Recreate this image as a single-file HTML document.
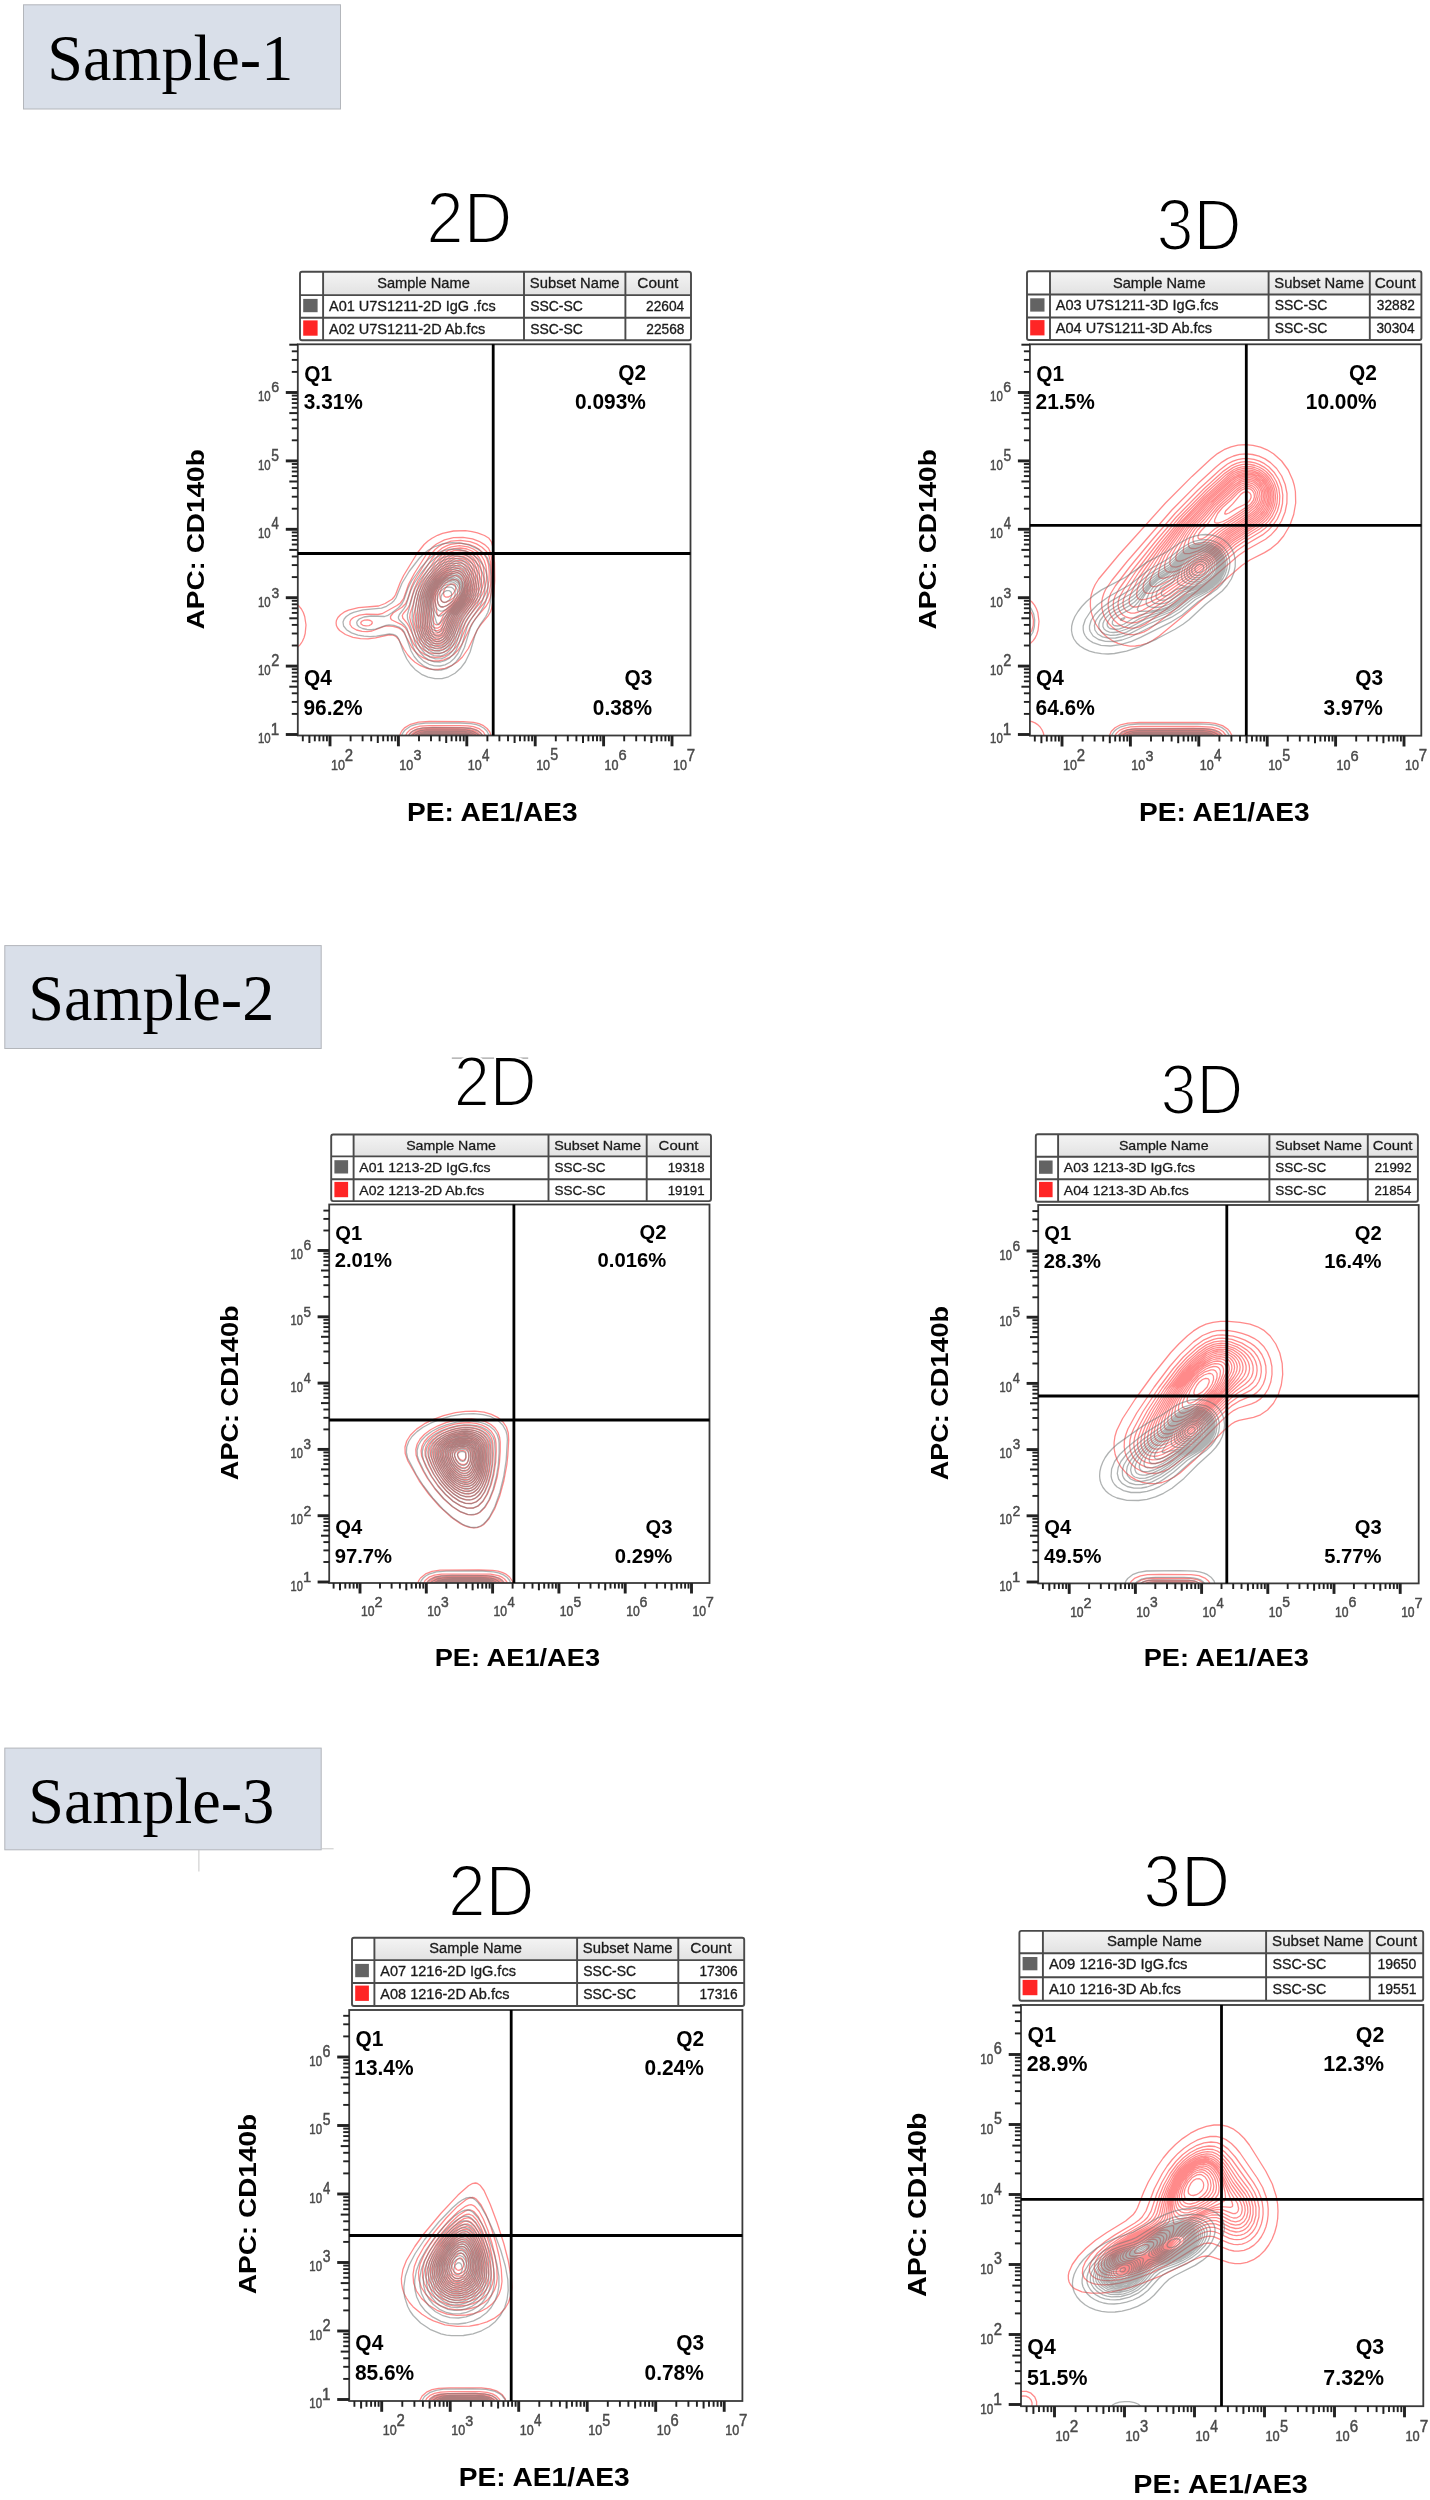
<!DOCTYPE html>
<html><head><meta charset="utf-8"><title>Flow cytometry</title><style>html,body{margin:0;padding:0;background:#fff;width:1430px;height:2500px;overflow:hidden;font-family:"Liberation Sans",sans-serif}</style></head><body>
<svg width="1430" height="2500" viewBox="0 0 1430 2500" style="display:block;filter:blur(0.4px)">
<rect width="1430" height="2500" fill="#fff"/>
<rect x="23.5" y="4.8" width="317.0" height="104.2" fill="#d9dfe9" stroke="#b3b6bb" stroke-width="1"/>
<text transform="matrix(0.06418 0.00000 0.00000 0.06468 47.37 79.65)" font-family="Liberation Serif" font-weight="normal" font-size="1000" fill="#000" >Sample-1</text>
<rect x="4.8" y="945.6" width="316.4" height="102.9" fill="#d9dfe9" stroke="#b3b6bb" stroke-width="1"/>
<text transform="matrix(0.06418 0.00000 0.00000 0.06468 28.37 1019.75)" font-family="Liberation Serif" font-weight="normal" font-size="1000" fill="#000" >Sample-2</text>
<rect x="4.8" y="1748.1" width="316.4" height="101.7" fill="#d9dfe9" stroke="#b3b6bb" stroke-width="1"/>
<text transform="matrix(0.06418 0.00000 0.00000 0.06468 28.37 1822.75)" font-family="Liberation Serif" font-weight="normal" font-size="1000" fill="#000" >Sample-3</text>
<line x1="198.9" y1="1850" x2="198.9" y2="1871.5" stroke="#c8c8c8" stroke-width="1"/>
<line x1="321.7" y1="1848.8" x2="333.6" y2="1848.8" stroke="#c8c8c8" stroke-width="1"/>
<line x1="451.8" y1="1058.1" x2="528.2" y2="1058.1" stroke="#8a8a8a" stroke-width="1"/>
<text transform="matrix(0.06729 0.00000 0.00000 0.07297 426.34 242.70)" font-family="Liberation Sans" font-weight="normal" font-size="1000" fill="#000" stroke="#fff" stroke-width="30.1">2D</text>
<linearGradient id="P1g" x1="0" y1="0" x2="0" y2="1"><stop offset="0" stop-color="#f4f4f4"/><stop offset="1" stop-color="#e2e2e2"/></linearGradient>
<rect x="300" y="271.8" width="391" height="68.39999999999998" fill="#fff"/>
<rect x="323.1" y="271.8" width="367.9" height="23.30000000000001" fill="url(#P1g)"/>
<rect x="300" y="271.8" width="391" height="68.39999999999998" rx="2" fill="none" stroke="#4a4a4a" stroke-width="1.9"/>
<line x1="323.1" y1="271.8" x2="323.1" y2="340.2" stroke="#4a4a4a" stroke-width="1.9"/>
<line x1="524" y1="271.8" x2="524" y2="340.2" stroke="#4a4a4a" stroke-width="1.9"/>
<line x1="625.4" y1="271.8" x2="625.4" y2="340.2" stroke="#4a4a4a" stroke-width="1.9"/>
<line x1="300" y1="295.1" x2="691" y2="295.1" stroke="#4a4a4a" stroke-width="1.9"/>
<line x1="300" y1="317.8" x2="691" y2="317.8" stroke="#4a4a4a" stroke-width="1.9"/>
<rect x="303.2" y="298.9" width="14.4" height="13.3" fill="#636363"/>
<rect x="303.2" y="320.4" width="14.4" height="15.3" fill="#ff2525"/>
<text transform="matrix(0.01462 0.00000 0.00000 0.01390 377.22 288.10)" font-family="Liberation Sans" font-weight="normal" font-size="1000" fill="#1a1a1a"  stroke="#1a1a1a" stroke-width="21.0">Sample Name</text>
<text transform="matrix(0.01480 0.00000 0.00000 0.01390 529.86 288.10)" font-family="Liberation Sans" font-weight="normal" font-size="1000" fill="#1a1a1a"  stroke="#1a1a1a" stroke-width="20.9">Subset Name</text>
<text transform="matrix(0.01540 0.00000 0.00000 0.01390 637.33 288.10)" font-family="Liberation Sans" font-weight="normal" font-size="1000" fill="#1a1a1a"  stroke="#1a1a1a" stroke-width="20.5">Count</text>
<text transform="matrix(0.01452 0.00000 0.00000 0.01390 328.96 311.00)" font-family="Liberation Sans" font-weight="normal" font-size="1000" fill="#1a1a1a"  stroke="#1a1a1a" stroke-width="21.1">A01 U7S1211-2D IgG .fcs</text>
<text transform="matrix(0.01395 0.00000 0.00000 0.01390 530.17 311.00)" font-family="Liberation Sans" font-weight="normal" font-size="1000" fill="#1a1a1a"  stroke="#1a1a1a" stroke-width="21.5">SSC-SC</text>
<text transform="matrix(0.01370 0.00000 0.00000 0.01390 646.09 311.00)" font-family="Liberation Sans" font-weight="normal" font-size="1000" fill="#1a1a1a"  stroke="#1a1a1a" stroke-width="21.7">22604</text>
<text transform="matrix(0.01452 0.00000 0.00000 0.01390 328.96 333.70)" font-family="Liberation Sans" font-weight="normal" font-size="1000" fill="#1a1a1a"  stroke="#1a1a1a" stroke-width="21.1">A02 U7S1211-2D Ab.fcs</text>
<text transform="matrix(0.01395 0.00000 0.00000 0.01390 530.17 333.70)" font-family="Liberation Sans" font-weight="normal" font-size="1000" fill="#1a1a1a"  stroke="#1a1a1a" stroke-width="21.5">SSC-SC</text>
<text transform="matrix(0.01370 0.00000 0.00000 0.01390 646.30 333.70)" font-family="Liberation Sans" font-weight="normal" font-size="1000" fill="#1a1a1a"  stroke="#1a1a1a" stroke-width="21.7">22568</text>
<clipPath id="P1c"><rect x="297.8" y="344.3" width="392.7" height="391.2"/></clipPath>
<g clip-path="url(#P1c)" fill="none" stroke-width="1.3" stroke-linejoin="round">
<path stroke="#ff3c3c" stroke-opacity="0.6" d="M438.0 669.5 432.0 669.3 426.0 668.0 420.5 665.7 415.0 662.2 411.4 659.0 407.8 655.0 404.1 649.5 398.5 639.2 396.5 637.0 394.5 635.7 391.5 634.9 388.0 635.0 375.5 637.9 368.0 638.8 360.5 638.6 353.0 637.3 345.4 634.5 339.6 630.5 337.6 628.0 336.4 625.5 336.1 623.0 336.4 620.5 337.9 617.5 340.5 614.7 344.0 612.2 348.5 610.1 358.5 607.6 378.5 606.0 385.1 603.5 392.0 599.2 394.1 597.0 395.6 594.5 400.2 582.5 403.6 575.5 417.7 552.5 424.1 544.5 428.0 541.0 432.0 538.2 437.5 535.3 442.5 533.3 453.5 531.0 465.5 530.7 472.0 531.6 477.5 532.9 484.5 535.5 489.0 538.3 491.5 542.0 493.1 548.0 494.5 562.5 494.7 580.5 493.7 596.5 491.6 608.5 490.4 612.0 488.5 615.3 481.0 624.4 477.5 629.5 468.3 648.5 462.4 657.0 457.5 661.7 451.5 665.7 445.0 668.3ZM438.5 661.0 433.0 661.0 428.0 659.9 423.0 657.7 418.5 654.7 414.7 651.0 411.5 646.8 403.6 632.0 401.5 629.7 398.5 627.9 393.0 626.3 387.0 625.9 383.5 626.7 372.0 631.0 367.0 631.6 362.0 631.4 356.5 630.0 352.1 627.5 350.0 624.5 350.0 621.5 351.1 619.5 353.5 617.5 359.5 615.1 366.5 614.2 378.0 614.5 382.0 613.7 396.9 605.5 400.4 603.0 403.5 598.7 408.7 584.0 414.3 573.5 427.6 552.5 432.0 547.6 436.5 544.0 444.5 539.9 453.5 537.7 463.0 537.3 472.5 538.9 479.0 541.3 485.0 544.9 488.5 548.3 490.5 552.5 492.0 561.0 492.5 574.5 491.9 588.0 490.3 597.5 488.6 602.0 486.2 606.0 475.5 618.7 471.8 624.0 462.7 643.0 458.1 650.0 454.0 654.2 449.0 657.7 444.0 659.9ZM440.0 657.0 435.0 657.3 430.0 656.6 425.0 654.7 420.5 651.7 417.0 648.4 413.7 644.0 407.5 631.1 405.0 627.5 401.5 624.6 391.9 620.0 390.6 618.5 390.5 616.5 393.1 613.0 402.0 607.3 405.5 603.7 407.5 599.5 411.6 586.5 414.9 579.5 429.2 556.5 435.1 549.5 438.5 546.7 442.5 544.3 451.0 541.2 460.5 540.3 470.0 541.6 476.5 543.9 482.0 547.2 486.5 551.4 489.0 555.9 490.5 562.2 491.2 572.0 490.8 583.0 489.5 591.6 487.6 597.0 484.8 602.0 472.5 617.0 469.0 622.0 466.0 627.6 460.5 640.0 456.5 646.5 453.0 650.4 449.0 653.5 444.5 655.8ZM369.0 625.6 366.0 625.9 363.0 625.3 361.1 624.0 360.8 622.5 362.2 621.0 364.5 620.2 367.5 619.9 370.3 620.5 371.9 621.5 372.3 623.0 371.2 624.5ZM439.5 653.5 434.0 653.7 429.0 652.6 424.0 650.1 420.0 646.8 415.3 640.5 409.0 626.4 407.0 623.2 402.8 618.0 402.3 615.5 403.3 613.5 407.5 608.5 409.5 605.0 414.3 589.0 418.0 580.5 431.7 559.0 436.3 553.0 442.5 547.8 446.5 545.8 450.5 544.4 459.5 543.2 468.5 544.3 474.5 546.5 479.5 549.6 483.6 553.5 486.7 558.5 488.5 564.5 489.2 572.0 489.0 580.5 487.7 588.0 485.3 594.5 481.9 600.5 469.5 615.7 466.0 620.8 458.3 637.5 454.7 643.5 451.5 647.2 448.0 650.1 444.0 652.2ZM439.0 650.6 433.5 650.7 428.5 649.3 424.0 646.6 419.9 642.5 415.8 635.5 410.8 622.0 409.7 617.5 410.1 613.5 413.0 605.0 416.6 591.0 419.3 584.0 423.9 576.0 437.9 555.5 444.0 550.1 447.5 548.2 451.5 546.8 459.5 545.7 468.0 546.9 473.3 549.0 477.8 552.0 481.6 556.0 484.2 560.5 485.9 566.0 486.7 573.0 486.4 580.5 485.1 587.0 482.7 593.5 479.3 599.5 467.1 614.5 463.7 619.5 456.4 635.5 453.0 641.3 450.0 644.8 446.5 647.6 443.0 649.4ZM438.0 648.1 434.5 648.1 431.0 647.4 428.0 646.2 425.0 644.2 422.2 641.5 420.0 638.5 416.3 630.5 414.0 622.0 413.5 616.0 418.8 592.0 421.4 585.0 425.0 578.5 437.6 560.0 442.5 554.4 448.0 550.6 454.0 548.6 460.5 548.0 467.0 549.0 471.8 551.0 476.0 553.9 479.2 557.5 481.7 562.0 483.4 567.5 484.1 574.0 483.8 580.5 482.5 587.0 480.3 593.0 476.9 599.0 465.0 613.5 461.9 618.0 454.6 634.0 451.4 639.5 448.5 642.9 445.5 645.3 442.0 647.1ZM439.0 645.5 435.5 645.8 432.5 645.4 429.5 644.3 426.5 642.5 421.9 637.5 418.3 630.0 416.6 623.0 416.2 616.5 420.8 592.5 423.4 585.5 427.0 579.0 439.6 561.0 444.0 556.0 448.5 552.8 454.0 550.7 460.0 550.1 466.0 551.0 470.5 552.9 474.2 555.5 477.2 559.0 479.6 563.5 481.1 569.0 481.7 575.0 481.4 581.0 480.2 587.0 478.0 593.0 474.8 598.5 463.3 612.5 460.0 617.3 453.2 632.5 450.3 637.5 447.8 640.5 445.0 642.9 442.0 644.6ZM437.5 643.5 434.5 643.5 431.5 642.8 426.5 639.8 422.3 634.5 419.5 627.5 418.5 621.5 418.6 615.5 421.4 598.5 423.1 591.5 425.6 585.0 429.1 579.0 441.5 562.0 445.5 557.5 450.0 554.4 455.0 552.6 460.5 552.1 465.5 553.0 469.5 554.8 473.0 557.5 475.7 561.0 477.6 565.0 479.0 570.5 479.5 576.5 479.1 582.5 477.9 588.0 475.6 593.5 472.6 598.5 461.4 612.0 458.3 616.5 451.9 631.0 448.6 636.5 446.0 639.5 443.5 641.4 440.5 642.8ZM436.5 641.5 431.5 640.6 426.8 637.5 423.3 632.5 421.0 626.0 420.3 620.5 420.6 615.0 423.3 598.0 425.0 591.0 427.5 585.0 431.1 579.0 443.0 563.3 446.9 559.0 451.0 556.1 455.5 554.5 460.5 554.1 465.0 555.0 468.5 556.7 471.8 559.5 474.3 563.0 476.0 567.0 477.2 572.5 477.5 578.0 477.0 583.5 475.8 588.5 473.7 593.5 470.7 598.5 460.1 611.0 456.9 615.5 450.4 630.0 447.5 635.0 445.0 637.8 442.5 639.7 439.5 641.0ZM439.0 639.0 436.5 639.4 434.0 639.3 429.5 637.3 425.6 633.0 423.0 627.0 422.2 622.0 422.3 616.5 424.9 598.5 426.4 592.0 428.7 586.0 432.2 580.0 447.5 561.2 451.0 558.4 455.0 556.7 459.5 556.1 463.5 556.7 467.0 558.3 469.8 560.5 472.1 563.5 473.9 567.5 475.1 572.5 475.6 577.5 475.4 582.5 474.4 587.5 472.4 592.5 469.5 597.5 458.2 611.0 455.3 615.0 449.5 628.2 447.0 632.7 443.5 636.6ZM438.5 637.1 434.0 637.2 429.7 635.0 426.4 631.0 424.3 625.5 423.8 621.0 424.1 616.0 426.6 598.0 428.1 591.5 430.5 585.5 433.9 580.0 448.5 562.9 452.0 560.2 455.5 558.7 459.5 558.2 463.0 558.8 466.0 560.2 468.7 562.5 470.7 565.5 472.2 569.0 473.3 573.5 473.8 578.5 473.6 583.5 472.6 588.0 470.5 593.0 467.8 597.5 456.7 610.5 453.8 614.5 448.1 627.5 445.8 631.5 442.5 635.1ZM438.5 635.0 434.5 635.2 430.9 633.5 427.9 630.0 425.9 625.0 425.5 621.0 425.7 616.5 428.2 597.5 429.7 591.0 432.0 585.5 435.5 580.1 449.0 565.0 452.2 562.5 455.5 560.9 459.0 560.4 462.5 561.0 465.3 562.5 467.5 564.6 469.4 567.5 470.8 571.0 471.8 575.5 472.1 580.0 471.8 584.5 470.8 588.5 468.9 593.0 466.1 597.5 455.2 610.0 452.3 614.0 447.0 626.1 444.8 630.0 442.0 633.1ZM437.5 633.1 434.0 632.9 431.0 631.0 428.5 627.5 427.4 623.5 427.3 618.0 429.4 599.0 431.3 590.5 433.5 585.5 437.0 580.2 449.0 567.5 452.5 564.8 455.5 563.3 458.5 562.8 461.5 563.2 464.0 564.5 466.1 566.5 468.0 569.5 469.4 573.0 470.5 581.0 470.2 585.0 469.2 589.0 467.2 593.5 464.5 597.6 453.8 609.5 450.8 613.5 448.7 617.5 445.5 625.5 443.7 628.5 440.9 631.5ZM438.0 630.6 435.0 630.7 432.0 629.1 430.0 626.2 429.0 622.5 429.0 618.0 431.0 598.0 432.6 590.5 434.9 585.5 438.0 580.9 442.5 575.9 448.5 570.3 452.0 567.6 455.0 566.0 458.0 565.3 461.0 565.8 463.2 567.0 465.2 569.0 466.7 571.5 468.0 575.0 468.9 582.5 467.6 589.5 465.5 593.9 462.7 598.0 452.4 609.0 449.3 613.0 442.6 627.0 440.5 629.2ZM437.5 628.1 435.0 628.0 433.0 626.7 431.6 624.5 430.9 621.5 432.4 597.5 434.3 589.5 436.5 585.2 439.5 581.0 448.5 572.4 452.0 569.9 455.0 568.5 458.0 568.0 460.5 568.5 462.5 569.7 464.5 572.0 466.8 577.5 467.4 584.0 466.0 590.0 464.0 594.0 461.2 598.0 447.6 612.5 441.1 625.5 439.5 627.2ZM438.0 624.6 436.5 624.9 434.7 624.0 433.8 622.5 433.3 620.0 433.9 610.0 433.8 597.5 434.4 593.5 435.6 589.5 437.5 585.7 440.0 582.2 447.5 575.0 454.0 571.1 457.0 570.5 459.5 570.9 461.5 572.0 463.0 573.5 465.4 578.5 465.9 584.5 464.5 590.3 462.3 594.5 459.3 598.5 445.7 612.0 443.7 615.0 440.4 622.0ZM438.5 616.0 437.5 615.4 437.0 613.7 435.1 600.0 435.6 593.5 437.5 588.0 442.0 581.5 449.0 575.6 452.0 573.9 455.0 572.8 457.5 572.7 459.5 573.4 461.1 574.5 462.7 576.5 464.4 581.5 464.4 586.5 462.5 592.0 460.0 596.0 456.5 600.0ZM443.0 607.0 441.0 607.0 439.5 606.0 438.3 604.0 437.4 601.0 437.2 594.5 439.2 588.0 443.2 582.5 449.0 577.9 454.5 575.7 456.5 575.7 458.5 576.4 461.2 579.0 462.5 583.0 462.3 587.5 460.7 592.0 457.6 596.5 453.5 600.7 447.5 605.0ZM446.0 602.1 444.0 602.3 442.5 601.8 441.1 600.5 440.3 599.0 439.7 594.0 441.2 589.0 444.0 584.8 448.5 581.1 453.0 579.4 456.5 579.8 458.5 581.4 459.6 584.0 459.7 587.5 458.7 591.0 456.5 594.5 453.3 598.0 449.5 600.7ZM448.5 597.0 446.0 597.2 444.2 596.0 443.5 593.5 444.0 590.5 445.5 587.8 448.0 585.5 451.0 584.1 453.5 584.1 454.9 585.0 455.7 586.5 455.8 588.5 455.2 590.5 452.5 594.5Z"/>
<path stroke="#6e7373" stroke-opacity="0.55" d="M442.0 678.6 435.0 678.7 428.0 677.2 421.5 674.3 415.0 669.4 410.5 664.5 406.8 659.0 403.3 651.5 399.0 639.5 397.5 637.1 395.5 635.3 393.0 634.3 389.5 634.0 376.5 636.2 370.0 636.6 364.0 636.2 358.0 635.1 351.5 632.9 346.5 629.7 343.6 626.0 343.0 622.0 344.2 619.0 346.3 616.5 349.5 614.2 353.5 612.3 363.0 609.9 381.5 608.2 386.5 606.3 391.6 603.0 394.0 600.7 395.9 598.0 402.1 583.0 409.1 571.5 419.5 558.0 424.0 553.5 428.5 550.0 435.5 546.3 443.5 543.7 452.0 542.6 461.0 543.1 469.5 545.2 477.5 548.8 484.0 553.7 487.7 558.5 489.8 565.5 491.1 576.5 491.3 590.0 490.3 602.5 489.3 608.0 487.8 612.5 485.8 616.5 479.5 625.7 476.9 630.5 474.9 635.5 470.1 652.0 465.3 662.0 460.5 668.3 455.0 673.2 448.5 676.8ZM441.0 670.0 435.0 670.1 429.0 668.6 423.5 665.8 418.3 661.5 414.2 656.5 411.1 651.0 404.5 632.5 402.3 629.5 399.5 627.4 394.0 625.3 389.0 624.8 386.0 625.4 375.5 629.2 371.5 629.7 367.0 629.5 362.5 628.5 359.3 627.0 357.3 625.0 356.7 622.5 357.3 621.0 359.0 619.2 363.9 617.0 371.0 616.0 384.5 616.5 388.0 615.3 392.0 612.7 398.5 607.7 401.8 604.0 403.9 600.0 408.1 588.0 411.6 581.0 420.7 568.0 428.5 559.1 435.0 554.1 442.5 550.8 450.5 549.2 459.0 549.5 466.0 551.3 472.6 554.5 478.3 559.0 482.7 564.5 485.7 570.5 487.3 577.0 488.0 586.0 487.4 594.5 486.0 600.7 483.6 606.5 480.3 612.0 473.4 622.0 470.5 627.4 464.4 647.5 460.2 656.5 456.0 661.9 451.5 665.8 446.5 668.6ZM440.0 666.0 434.5 665.9 429.0 664.3 423.5 661.1 419.0 656.8 415.9 652.5 413.3 647.5 407.0 628.7 404.5 625.0 399.3 620.0 398.5 618.5 398.4 617.0 399.4 614.5 404.0 608.7 406.0 605.3 410.6 591.0 414.4 583.0 420.8 573.5 429.0 563.5 435.5 557.8 442.5 554.2 450.5 552.5 458.5 552.8 465.0 554.6 470.5 557.4 475.5 561.5 479.4 566.5 482.4 572.5 484.3 579.0 485.0 586.0 484.6 593.0 482.9 599.5 480.3 605.5 470.4 620.5 467.5 625.9 461.7 645.5 458.0 653.5 454.2 658.5 450.0 662.2 445.0 664.9ZM440.5 662.0 434.5 661.9 429.0 660.1 424.0 656.7 419.5 651.7 416.8 647.0 414.8 642.0 411.0 628.1 407.6 619.0 407.3 615.0 412.8 595.0 415.2 588.5 420.0 580.0 428.1 569.5 434.9 562.5 441.5 558.2 445.5 556.7 449.5 555.8 457.5 555.9 463.0 557.4 468.1 560.0 472.5 563.7 476.3 568.5 479.2 574.5 481.0 580.5 481.7 587.0 481.2 593.0 479.8 598.5 477.2 604.5 467.5 619.2 464.9 624.0 463.0 629.3 459.3 643.0 455.9 650.5 452.7 655.0 449.0 658.4 445.0 660.7ZM441.5 658.6 435.5 658.8 430.0 657.1 424.9 653.5 420.5 648.1 417.6 642.0 415.2 633.5 412.1 619.0 412.3 611.5 414.7 598.0 417.1 590.5 421.3 582.5 428.0 573.6 435.1 566.0 441.5 561.3 445.0 559.7 449.0 558.7 456.5 558.6 461.5 559.8 466.0 562.1 470.1 565.5 473.5 569.8 476.2 575.0 478.1 581.0 478.8 587.0 478.5 592.5 477.2 598.0 474.6 604.0 465.0 618.5 462.5 623.2 460.8 628.0 457.3 641.0 454.3 648.0 451.6 652.0 448.6 655.0 445.0 657.3ZM440.0 656.0 434.0 655.7 428.5 653.1 423.7 648.5 420.3 642.5 417.6 633.5 415.3 619.0 415.2 611.5 416.6 600.5 418.6 592.5 422.0 585.5 427.2 578.0 434.5 569.8 440.0 565.1 445.0 562.4 450.5 560.9 456.5 561.1 461.0 562.4 465.0 564.6 468.8 568.0 471.8 572.0 474.3 577.0 475.9 582.5 476.5 588.0 476.0 593.5 474.7 598.5 472.2 604.0 463.2 617.5 460.5 622.4 455.4 640.0 452.5 646.5 450.0 650.1 447.0 653.0 443.5 655.0ZM439.5 653.5 434.0 653.0 429.0 650.5 424.7 646.0 421.5 640.0 419.2 631.5 417.7 618.5 417.8 608.5 418.9 599.0 420.9 592.0 424.1 585.5 429.2 578.5 436.0 571.2 441.0 567.0 446.0 564.4 451.0 563.2 456.5 563.4 460.5 564.7 464.5 567.2 467.9 570.5 470.5 574.3 472.7 579.0 474.0 584.0 474.4 589.0 473.9 594.0 472.7 598.5 470.4 603.5 461.5 616.6 458.8 621.5 457.2 626.0 453.8 638.5 451.0 645.0 448.5 648.5 446.0 650.8 443.0 652.6ZM440.0 651.0 435.0 650.9 430.0 648.5 426.0 644.3 423.0 638.5 421.1 631.0 420.0 619.5 419.8 608.0 420.7 599.0 422.5 592.5 425.4 586.5 430.0 580.1 436.0 573.7 441.0 569.5 446.0 566.7 451.0 565.4 455.5 565.5 459.5 566.7 463.0 568.8 466.0 571.6 468.8 575.5 470.9 580.0 472.1 584.5 472.5 589.0 472.1 594.0 470.8 598.5 468.5 603.5 459.6 616.5 457.1 621.0 455.5 625.5 452.5 637.0 449.9 643.0 447.9 646.0 445.5 648.4 443.0 650.0ZM440.5 648.6 438.0 648.9 435.5 648.6 431.0 646.6 427.1 642.5 424.5 637.2 422.9 631.0 422.0 622.0 421.6 607.5 422.3 599.0 423.9 593.0 426.6 587.5 430.5 581.9 436.0 576.0 441.0 571.7 446.0 568.8 451.0 567.5 455.5 567.7 459.0 568.9 462.0 570.7 465.0 573.6 467.5 577.2 469.3 581.0 470.5 585.5 470.8 589.5 470.4 594.0 469.2 598.5 467.1 603.0 458.1 616.0 455.5 620.5 453.9 625.0 451.0 636.0 448.7 641.5 445.0 646.1ZM439.0 646.6 435.0 646.2 431.0 643.9 427.8 640.0 425.5 634.6 424.2 627.5 423.3 611.5 423.3 604.0 424.0 598.0 425.7 592.5 428.2 587.5 432.0 582.3 437.0 577.1 442.0 573.1 446.5 570.7 451.0 569.5 455.0 569.7 458.5 570.9 461.5 572.9 464.1 575.5 466.5 579.0 468.0 582.5 469.0 586.5 469.2 590.5 468.8 594.5 467.6 598.5 465.5 603.0 456.6 615.5 454.0 620.0 452.4 624.5 449.8 634.5 447.5 640.0 445.5 642.8 443.5 644.7 441.5 645.9ZM440.0 644.0 436.0 644.1 432.5 642.4 429.4 639.0 427.1 634.0 425.9 627.5 424.8 609.0 424.8 603.0 425.5 598.0 426.9 593.0 429.4 588.0 432.7 583.5 437.0 579.0 441.5 575.4 446.0 572.8 450.5 571.6 454.5 571.7 457.5 572.6 460.5 574.5 463.0 577.0 465.1 580.0 466.6 583.5 467.5 587.0 467.7 590.5 467.3 594.5 466.1 598.5 463.9 603.0 455.2 615.0 452.6 619.5 450.9 624.0 448.4 633.5 446.5 638.0 443.5 642.0ZM440.0 641.5 436.5 641.7 433.1 640.0 430.5 637.0 428.5 632.5 427.6 627.0 426.3 607.5 426.3 602.0 426.9 597.5 428.3 593.0 430.6 588.5 433.9 584.0 438.0 579.9 442.5 576.5 446.5 574.4 450.5 573.4 454.5 573.6 457.5 574.8 460.0 576.4 462.0 578.5 464.1 581.5 465.3 584.5 466.2 588.0 466.3 591.5 465.8 595.0 464.6 599.0 462.5 603.0 453.6 615.0 451.2 619.0 449.4 623.5 447.0 632.5 445.3 636.5 443.0 639.6ZM439.0 639.1 436.0 638.9 433.5 637.3 431.4 634.5 430.1 631.0 427.6 606.0 427.6 601.5 428.3 597.0 429.8 592.5 432.0 588.5 435.1 584.5 439.0 580.7 443.0 577.8 447.0 575.9 451.0 575.1 454.5 575.5 457.0 576.5 459.5 578.2 463.1 583.0 464.9 589.0 464.4 595.5 463.0 599.5 460.8 603.5 452.3 614.5 449.7 618.5 448.2 622.0 445.5 631.5 444.0 634.8 441.5 637.9ZM439.0 636.0 436.5 635.9 434.5 634.6 433.0 632.5 431.9 629.5 429.0 605.5 429.0 601.0 429.7 596.5 431.1 592.5 433.4 588.5 436.5 584.7 440.0 581.5 444.0 578.9 447.5 577.4 451.0 576.9 454.0 577.2 458.5 579.6 462.0 584.0 463.6 589.5 463.1 595.5 461.7 599.5 459.5 603.4 450.6 614.5 447.9 618.5 442.5 633.0 441.0 634.9ZM439.0 632.2 437.5 632.3 436.0 631.5 434.9 630.0 434.0 627.5 430.3 606.0 430.2 601.0 430.9 596.5 432.3 592.5 434.4 589.0 437.0 585.7 440.0 583.0 443.5 580.6 447.0 579.0 450.5 578.4 453.5 578.7 457.8 581.0 461.0 585.2 462.4 590.5 461.8 596.0 460.2 600.0 458.0 603.7 446.3 618.0 444.2 622.0 441.5 629.5 440.5 631.0ZM439.0 624.6 437.5 624.2 436.5 622.4 432.1 608.5 431.3 601.5 432.5 595.0 434.0 591.6 436.0 588.5 438.7 585.5 442.0 582.9 445.5 581.0 448.5 580.1 451.5 579.9 454.0 580.5 457.8 583.0 460.3 587.0 461.2 592.0 460.3 597.0 458.8 600.5 456.1 604.5 445.2 616.5ZM440.5 616.1 438.5 615.7 437.0 614.4 435.2 611.5 433.8 608.0 432.8 601.0 434.1 594.5 437.7 588.5 442.9 584.0 445.5 582.7 448.5 581.8 451.0 581.7 453.5 582.3 457.0 584.7 459.1 588.5 459.7 593.0 458.7 597.5 456.0 602.5 452.0 607.2 444.5 613.9ZM442.5 611.1 440.5 611.2 439.0 610.5 437.4 609.0 436.0 606.5 434.8 601.0 435.8 595.0 438.7 590.0 443.0 586.1 448.0 584.1 450.5 584.0 452.5 584.5 455.4 586.5 457.2 589.5 457.7 593.5 456.8 597.5 454.5 601.7 451.0 605.7 446.5 609.3ZM443.5 607.0 440.5 606.5 439.0 605.1 438.1 603.5 437.3 599.5 438.2 595.0 440.5 591.2 444.0 588.2 448.0 586.8 451.5 587.3 453.7 589.0 455.0 591.5 455.2 594.5 454.4 597.5 452.7 600.5 450.0 603.5 446.5 606.0ZM446.0 602.2 444.0 602.5 442.0 601.5 441.0 599.5 441.0 596.5 442.2 594.0 444.0 592.0 446.5 590.7 449.0 590.6 450.5 591.5 451.3 592.5 451.7 594.0 451.5 596.0 449.5 599.7Z"/>
<path stroke="#ff3c3c" stroke-opacity="0.6" d="M449.5 755.5 422.0 755.2 415.0 754.2 409.5 752.3 404.0 748.6 400.7 744.0 399.8 741.5 399.4 738.5 399.8 735.5 400.7 733.0 402.1 730.5 404.5 727.9 410.5 724.3 418.5 722.2 429.5 721.5 463.0 721.6 473.5 722.3 479.0 723.7 483.5 725.7 487.1 728.5 489.8 732.0 491.5 737.0 491.5 739.5 490.9 742.5 488.0 747.5 483.5 751.3 478.0 753.6 472.0 754.9 464.5 755.4ZM468.5 751.1 430.0 751.4 423.0 751.1 417.5 750.3 412.0 748.4 407.6 745.0 405.4 741.0 405.3 736.5 406.9 733.0 410.0 729.9 414.5 727.6 420.0 726.2 429.5 725.6 459.5 725.6 467.5 725.9 473.5 726.7 479.0 728.6 483.4 732.0 485.6 736.0 485.7 740.5 483.8 744.5 480.0 747.8 475.0 749.9ZM448.5 749.5 426.0 749.3 420.5 748.8 416.5 747.9 412.5 746.0 409.3 743.0 407.9 739.5 408.3 736.0 409.3 734.0 411.1 732.0 416.0 729.3 422.5 727.9 432.5 727.5 461.5 727.6 470.5 728.2 474.5 729.1 478.0 730.7 480.9 733.0 482.5 735.5 483.1 739.0 482.3 742.0 479.9 745.0 476.0 747.3 472.0 748.5 467.0 749.2ZM460.0 748.0 429.5 748.0 420.0 747.1 415.5 745.7 412.4 743.5 410.4 740.5 410.3 737.0 412.4 733.5 416.0 731.1 421.0 729.7 428.5 729.0 458.5 729.0 468.0 729.4 472.0 730.1 475.5 731.3 478.1 733.0 479.9 735.0 480.8 737.5 480.7 740.0 479.5 742.5 477.0 744.8 474.0 746.3 470.5 747.2ZM452.5 747.0 428.5 746.9 420.0 746.0 416.0 744.5 413.5 742.6 412.0 740.0 411.8 737.5 413.5 734.4 417.5 731.8 423.0 730.5 431.0 730.0 459.5 730.0 468.0 730.5 472.0 731.3 475.0 732.5 477.5 734.4 478.9 736.5 479.2 739.0 478.4 741.5 476.5 743.5 473.5 745.2 466.0 746.7ZM456.5 746.0 430.0 745.9 421.5 745.2 417.8 744.0 415.0 742.1 413.6 740.0 413.5 737.5 415.4 734.5 419.0 732.5 424.0 731.4 431.5 731.0 458.5 731.0 467.0 731.4 473.5 733.1 475.6 734.5 477.1 736.5 477.6 738.5 477.1 740.5 475.6 742.5 473.2 744.0 467.0 745.6ZM462.5 745.0 432.5 745.1 423.5 744.6 419.5 743.5 417.0 742.2 415.2 740.0 415.0 738.0 416.3 735.5 419.4 733.5 423.5 732.4 429.5 732.0 465.0 732.2 471.5 733.5 473.5 734.5 475.2 736.0 475.9 737.5 475.9 739.5 475.2 741.0 473.5 742.5 469.0 744.3ZM446.0 744.5 429.5 744.4 422.5 743.7 419.5 742.7 417.6 741.5 416.4 740.0 416.1 738.0 416.7 736.5 418.3 735.0 423.0 733.2 430.0 732.6 445.5 732.5 461.0 732.6 468.0 733.2 472.7 735.0 474.3 736.5 474.9 738.0 474.6 740.0 473.4 741.5 471.5 742.7 468.5 743.7 461.5 744.4ZM460.5 743.5 434.0 743.6 425.5 743.1 420.0 741.5 418.3 740.0 417.9 738.0 419.2 736.0 422.5 734.4 427.0 733.7 434.0 733.4 464.5 733.7 470.1 735.0 471.8 736.0 472.9 737.5 473.1 739.0 472.7 740.0 470.1 742.0 466.5 743.0ZM448.5 743.0 431.5 742.9 425.0 742.4 420.5 740.8 419.3 739.5 419.2 738.0 421.0 735.9 425.5 734.5 445.5 734.0 465.5 734.5 470.0 735.9 471.8 738.0 471.7 739.5 470.9 740.5 467.0 742.2 461.0 742.9ZM461.0 742.0 428.5 741.9 423.0 740.7 421.5 739.7 421.0 738.5 421.8 737.0 424.5 735.7 434.5 734.9 462.5 735.1 467.4 736.0 469.2 737.0 469.9 738.0 469.7 739.5 468.0 740.7 465.5 741.5ZM450.5 741.5 428.5 741.2 424.0 740.1 422.7 738.5 423.8 737.0 427.5 735.9 445.5 735.5 463.5 735.9 467.2 737.0 468.3 738.5 467.2 740.0 464.0 741.0ZM459.5 740.5 431.1 740.5 427.0 739.9 425.2 738.5 426.5 737.3 430.0 736.6 445.5 736.3 461.0 736.6 464.5 737.3 465.8 738.5 464.0 739.9ZM446.0 740.0 432.0 739.8 429.5 739.5 427.7 738.5 429.0 737.6 431.5 737.2 445.5 737.0 459.5 737.2 462.0 737.6 463.3 738.5 462.0 739.4 459.5 739.8Z"/>
<path stroke="#6e7373" stroke-opacity="0.55" d="M457.5 755.0 425.0 754.8 418.5 754.2 413.0 752.8 407.0 749.7 403.1 745.5 401.2 740.5 401.2 737.5 401.8 735.0 403.1 732.5 405.1 730.0 410.5 726.2 417.0 724.1 425.5 723.1 460.0 723.0 471.0 723.6 476.5 724.7 480.5 726.2 484.0 728.3 486.8 731.0 489.3 735.5 489.8 740.5 488.2 745.0 484.5 749.3 480.5 751.8 474.5 753.8 467.5 754.7ZM467.0 750.0 431.5 750.3 419.5 749.4 414.5 747.7 410.6 745.0 408.3 741.5 408.0 737.5 409.7 734.0 413.0 731.1 417.5 729.1 423.0 728.1 433.0 727.6 463.5 727.8 471.0 728.5 476.5 730.3 479.9 732.5 482.3 735.5 483.1 739.0 482.3 742.5 479.9 745.5 476.5 747.7 472.0 749.3ZM465.5 748.0 432.5 748.3 421.5 747.5 417.0 746.2 413.5 744.0 411.5 741.0 411.2 738.0 412.6 735.0 416.0 732.3 420.5 730.7 426.5 729.9 465.0 729.9 472.0 731.1 476.9 733.5 478.8 735.5 479.8 738.0 479.7 740.5 478.4 743.0 476.2 745.0 473.5 746.4ZM465.5 746.5 435.0 746.9 423.5 746.3 419.0 745.1 416.0 743.5 413.9 741.0 413.5 738.5 414.5 736.0 417.5 733.5 421.5 732.1 427.0 731.4 464.0 731.4 470.5 732.4 475.0 734.5 476.5 736.0 477.4 738.0 477.4 740.0 476.5 742.0 475.0 743.5 472.4 745.0ZM459.5 745.5 432.5 745.5 424.0 744.9 420.4 744.0 417.7 742.5 416.1 740.5 415.8 738.5 417.1 736.0 420.4 734.0 425.0 732.9 431.0 732.5 465.0 732.8 471.0 734.2 473.3 735.5 474.6 737.0 475.2 738.5 474.9 740.5 473.9 742.0 472.0 743.4 467.0 744.9ZM455.5 744.5 432.5 744.5 425.0 743.9 422.0 743.2 419.6 742.0 418.2 740.5 417.8 738.5 419.5 736.1 423.0 734.5 427.5 733.8 435.0 733.5 464.5 733.9 470.5 735.4 472.0 736.5 473.0 738.0 473.2 739.5 472.5 741.0 469.5 743.0 464.5 744.1ZM455.5 743.5 434.0 743.5 426.5 743.0 421.5 741.5 420.1 740.0 419.9 738.5 420.5 737.4 422.0 736.2 426.2 735.0 445.5 734.5 464.8 735.0 469.0 736.2 470.5 737.4 471.1 738.5 470.5 740.6 467.5 742.4 463.0 743.2ZM456.5 742.5 428.5 742.2 423.7 741.0 422.5 740.0 422.1 739.0 422.9 737.5 425.5 736.3 435.5 735.5 462.0 735.7 466.5 736.7 468.1 737.5 468.8 738.5 468.5 740.0 466.1 741.5 462.5 742.2ZM456.5 741.5 431.0 741.4 426.3 740.5 424.8 739.0 426.3 737.5 429.5 736.8 445.5 736.4 461.5 736.8 464.7 737.5 466.2 739.0 465.6 740.0 463.5 740.9ZM453.5 740.5 433.5 740.4 430.2 740.0 428.4 739.0 430.0 738.0 432.5 737.7 445.5 737.5 458.5 737.7 461.0 738.0 462.6 739.0 460.5 740.1Z"/>
<path stroke="#ff3c3c" stroke-opacity="0.6" d="M292.0 649.5 289.0 649.4 286.0 648.2 283.5 646.4 280.9 643.5 278.9 640.0 277.4 636.0 276.0 627.0 276.9 618.0 278.3 613.5 280.3 609.5 282.5 606.6 285.0 604.4 288.0 602.9 291.0 602.4 294.0 602.9 296.5 604.1 299.0 606.1 301.4 609.0 303.3 612.5 304.7 616.5 306.0 625.0 305.2 633.5 304.1 637.5 302.3 641.5 300.0 644.9 297.5 647.3 295.0 648.7Z"/>
</g>
<rect x="297.8" y="344.3" width="392.7" height="391.2" fill="none" stroke="#3a3a3a" stroke-width="1.8"/>
<line x1="297.8" y1="553.5" x2="690.5" y2="553.5" stroke="#000" stroke-width="2.8"/>
<line x1="493.2" y1="344.3" x2="493.2" y2="735.5" stroke="#000" stroke-width="2.8"/>
<line x1="302.8" y1="735.5" x2="302.8" y2="741.3" stroke="#222" stroke-width="1.9"/><line x1="309.4" y1="735.5" x2="309.4" y2="743.0" stroke="#222" stroke-width="2.0"/><line x1="314.8" y1="735.5" x2="314.8" y2="741.3" stroke="#222" stroke-width="1.9"/><line x1="319.4" y1="735.5" x2="319.4" y2="741.3" stroke="#222" stroke-width="1.9"/><line x1="323.4" y1="735.5" x2="323.4" y2="741.3" stroke="#222" stroke-width="1.9"/><line x1="326.9" y1="735.5" x2="326.9" y2="741.3" stroke="#222" stroke-width="1.9"/><line x1="330.0" y1="735.5" x2="330.0" y2="746.3" stroke="#222" stroke-width="2.9"/><line x1="350.6" y1="735.5" x2="350.6" y2="741.3" stroke="#222" stroke-width="1.9"/><line x1="362.6" y1="735.5" x2="362.6" y2="741.3" stroke="#222" stroke-width="1.9"/><line x1="371.2" y1="735.5" x2="371.2" y2="741.3" stroke="#222" stroke-width="1.9"/><line x1="377.8" y1="735.5" x2="377.8" y2="743.0" stroke="#222" stroke-width="2.0"/><line x1="383.2" y1="735.5" x2="383.2" y2="741.3" stroke="#222" stroke-width="1.9"/><line x1="387.8" y1="735.5" x2="387.8" y2="741.3" stroke="#222" stroke-width="1.9"/><line x1="391.8" y1="735.5" x2="391.8" y2="741.3" stroke="#222" stroke-width="1.9"/><line x1="395.3" y1="735.5" x2="395.3" y2="741.3" stroke="#222" stroke-width="1.9"/><line x1="398.4" y1="735.5" x2="398.4" y2="746.3" stroke="#222" stroke-width="2.9"/><line x1="419.0" y1="735.5" x2="419.0" y2="741.3" stroke="#222" stroke-width="1.9"/><line x1="431.0" y1="735.5" x2="431.0" y2="741.3" stroke="#222" stroke-width="1.9"/><line x1="439.6" y1="735.5" x2="439.6" y2="741.3" stroke="#222" stroke-width="1.9"/><line x1="446.2" y1="735.5" x2="446.2" y2="743.0" stroke="#222" stroke-width="2.0"/><line x1="451.6" y1="735.5" x2="451.6" y2="741.3" stroke="#222" stroke-width="1.9"/><line x1="456.2" y1="735.5" x2="456.2" y2="741.3" stroke="#222" stroke-width="1.9"/><line x1="460.2" y1="735.5" x2="460.2" y2="741.3" stroke="#222" stroke-width="1.9"/><line x1="463.7" y1="735.5" x2="463.7" y2="741.3" stroke="#222" stroke-width="1.9"/><line x1="466.8" y1="735.5" x2="466.8" y2="746.3" stroke="#222" stroke-width="2.9"/><line x1="487.4" y1="735.5" x2="487.4" y2="741.3" stroke="#222" stroke-width="1.9"/><line x1="499.4" y1="735.5" x2="499.4" y2="741.3" stroke="#222" stroke-width="1.9"/><line x1="508.0" y1="735.5" x2="508.0" y2="741.3" stroke="#222" stroke-width="1.9"/><line x1="514.6" y1="735.5" x2="514.6" y2="743.0" stroke="#222" stroke-width="2.0"/><line x1="520.0" y1="735.5" x2="520.0" y2="741.3" stroke="#222" stroke-width="1.9"/><line x1="524.6" y1="735.5" x2="524.6" y2="741.3" stroke="#222" stroke-width="1.9"/><line x1="528.6" y1="735.5" x2="528.6" y2="741.3" stroke="#222" stroke-width="1.9"/><line x1="532.1" y1="735.5" x2="532.1" y2="741.3" stroke="#222" stroke-width="1.9"/><line x1="535.2" y1="735.5" x2="535.2" y2="746.3" stroke="#222" stroke-width="2.9"/><line x1="555.8" y1="735.5" x2="555.8" y2="741.3" stroke="#222" stroke-width="1.9"/><line x1="567.8" y1="735.5" x2="567.8" y2="741.3" stroke="#222" stroke-width="1.9"/><line x1="576.4" y1="735.5" x2="576.4" y2="741.3" stroke="#222" stroke-width="1.9"/><line x1="583.0" y1="735.5" x2="583.0" y2="743.0" stroke="#222" stroke-width="2.0"/><line x1="588.4" y1="735.5" x2="588.4" y2="741.3" stroke="#222" stroke-width="1.9"/><line x1="593.0" y1="735.5" x2="593.0" y2="741.3" stroke="#222" stroke-width="1.9"/><line x1="597.0" y1="735.5" x2="597.0" y2="741.3" stroke="#222" stroke-width="1.9"/><line x1="600.5" y1="735.5" x2="600.5" y2="741.3" stroke="#222" stroke-width="1.9"/><line x1="603.6" y1="735.5" x2="603.6" y2="746.3" stroke="#222" stroke-width="2.9"/><line x1="624.2" y1="735.5" x2="624.2" y2="741.3" stroke="#222" stroke-width="1.9"/><line x1="636.2" y1="735.5" x2="636.2" y2="741.3" stroke="#222" stroke-width="1.9"/><line x1="644.8" y1="735.5" x2="644.8" y2="741.3" stroke="#222" stroke-width="1.9"/><line x1="651.4" y1="735.5" x2="651.4" y2="743.0" stroke="#222" stroke-width="2.0"/><line x1="656.8" y1="735.5" x2="656.8" y2="741.3" stroke="#222" stroke-width="1.9"/><line x1="661.4" y1="735.5" x2="661.4" y2="741.3" stroke="#222" stroke-width="1.9"/><line x1="665.4" y1="735.5" x2="665.4" y2="741.3" stroke="#222" stroke-width="1.9"/><line x1="668.9" y1="735.5" x2="668.9" y2="741.3" stroke="#222" stroke-width="1.9"/><line x1="672.0" y1="735.5" x2="672.0" y2="746.3" stroke="#222" stroke-width="2.9"/><line x1="285.8" y1="734.5" x2="297.8" y2="734.5" stroke="#222" stroke-width="2.9"/><line x1="291.8" y1="713.9" x2="297.8" y2="713.9" stroke="#222" stroke-width="1.9"/><line x1="291.8" y1="701.9" x2="297.8" y2="701.9" stroke="#222" stroke-width="1.9"/><line x1="291.8" y1="693.3" x2="297.8" y2="693.3" stroke="#222" stroke-width="1.9"/><line x1="289.3" y1="686.7" x2="297.8" y2="686.7" stroke="#222" stroke-width="2.0"/><line x1="291.8" y1="681.3" x2="297.8" y2="681.3" stroke="#222" stroke-width="1.9"/><line x1="291.8" y1="676.7" x2="297.8" y2="676.7" stroke="#222" stroke-width="1.9"/><line x1="291.8" y1="672.7" x2="297.8" y2="672.7" stroke="#222" stroke-width="1.9"/><line x1="291.8" y1="669.2" x2="297.8" y2="669.2" stroke="#222" stroke-width="1.9"/><line x1="285.8" y1="666.1" x2="297.8" y2="666.1" stroke="#222" stroke-width="2.9"/><line x1="291.8" y1="645.5" x2="297.8" y2="645.5" stroke="#222" stroke-width="1.9"/><line x1="291.8" y1="633.5" x2="297.8" y2="633.5" stroke="#222" stroke-width="1.9"/><line x1="291.8" y1="624.9" x2="297.8" y2="624.9" stroke="#222" stroke-width="1.9"/><line x1="289.3" y1="618.3" x2="297.8" y2="618.3" stroke="#222" stroke-width="2.0"/><line x1="291.8" y1="612.9" x2="297.8" y2="612.9" stroke="#222" stroke-width="1.9"/><line x1="291.8" y1="608.3" x2="297.8" y2="608.3" stroke="#222" stroke-width="1.9"/><line x1="291.8" y1="604.3" x2="297.8" y2="604.3" stroke="#222" stroke-width="1.9"/><line x1="291.8" y1="600.8" x2="297.8" y2="600.8" stroke="#222" stroke-width="1.9"/><line x1="285.8" y1="597.7" x2="297.8" y2="597.7" stroke="#222" stroke-width="2.9"/><line x1="291.8" y1="577.1" x2="297.8" y2="577.1" stroke="#222" stroke-width="1.9"/><line x1="291.8" y1="565.1" x2="297.8" y2="565.1" stroke="#222" stroke-width="1.9"/><line x1="291.8" y1="556.5" x2="297.8" y2="556.5" stroke="#222" stroke-width="1.9"/><line x1="289.3" y1="549.9" x2="297.8" y2="549.9" stroke="#222" stroke-width="2.0"/><line x1="291.8" y1="544.5" x2="297.8" y2="544.5" stroke="#222" stroke-width="1.9"/><line x1="291.8" y1="539.9" x2="297.8" y2="539.9" stroke="#222" stroke-width="1.9"/><line x1="291.8" y1="535.9" x2="297.8" y2="535.9" stroke="#222" stroke-width="1.9"/><line x1="291.8" y1="532.4" x2="297.8" y2="532.4" stroke="#222" stroke-width="1.9"/><line x1="285.8" y1="529.3" x2="297.8" y2="529.3" stroke="#222" stroke-width="2.9"/><line x1="291.8" y1="508.7" x2="297.8" y2="508.7" stroke="#222" stroke-width="1.9"/><line x1="291.8" y1="496.7" x2="297.8" y2="496.7" stroke="#222" stroke-width="1.9"/><line x1="291.8" y1="488.1" x2="297.8" y2="488.1" stroke="#222" stroke-width="1.9"/><line x1="289.3" y1="481.5" x2="297.8" y2="481.5" stroke="#222" stroke-width="2.0"/><line x1="291.8" y1="476.1" x2="297.8" y2="476.1" stroke="#222" stroke-width="1.9"/><line x1="291.8" y1="471.5" x2="297.8" y2="471.5" stroke="#222" stroke-width="1.9"/><line x1="291.8" y1="467.5" x2="297.8" y2="467.5" stroke="#222" stroke-width="1.9"/><line x1="291.8" y1="464.0" x2="297.8" y2="464.0" stroke="#222" stroke-width="1.9"/><line x1="285.8" y1="460.9" x2="297.8" y2="460.9" stroke="#222" stroke-width="2.9"/><line x1="291.8" y1="440.3" x2="297.8" y2="440.3" stroke="#222" stroke-width="1.9"/><line x1="291.8" y1="428.3" x2="297.8" y2="428.3" stroke="#222" stroke-width="1.9"/><line x1="291.8" y1="419.7" x2="297.8" y2="419.7" stroke="#222" stroke-width="1.9"/><line x1="289.3" y1="413.1" x2="297.8" y2="413.1" stroke="#222" stroke-width="2.0"/><line x1="291.8" y1="407.7" x2="297.8" y2="407.7" stroke="#222" stroke-width="1.9"/><line x1="291.8" y1="403.1" x2="297.8" y2="403.1" stroke="#222" stroke-width="1.9"/><line x1="291.8" y1="399.1" x2="297.8" y2="399.1" stroke="#222" stroke-width="1.9"/><line x1="291.8" y1="395.6" x2="297.8" y2="395.6" stroke="#222" stroke-width="1.9"/><line x1="285.8" y1="392.5" x2="297.8" y2="392.5" stroke="#222" stroke-width="2.9"/><line x1="291.8" y1="371.9" x2="297.8" y2="371.9" stroke="#222" stroke-width="1.9"/><line x1="291.8" y1="359.9" x2="297.8" y2="359.9" stroke="#222" stroke-width="1.9"/><line x1="291.8" y1="351.3" x2="297.8" y2="351.3" stroke="#222" stroke-width="1.9"/><line x1="289.3" y1="344.7" x2="297.8" y2="344.7" stroke="#222" stroke-width="2.0"/>
<text transform="matrix(0.01253 0.00000 0.00000 0.01428 330.96 769.76)" font-family="Liberation Sans" font-weight="normal" font-size="1000" fill="#4a4a4a"  stroke="#4a4a4a" stroke-width="33.6">10</text><text transform="matrix(0.01495 0.00000 0.00000 0.01577 344.85 760.50)" font-family="Liberation Sans" font-weight="normal" font-size="1000" fill="#4a4a4a"  stroke="#4a4a4a" stroke-width="29.3">2</text><text transform="matrix(0.01253 0.00000 0.00000 0.01428 399.36 769.76)" font-family="Liberation Sans" font-weight="normal" font-size="1000" fill="#4a4a4a"  stroke="#4a4a4a" stroke-width="33.6">10</text><text transform="matrix(0.01432 0.00000 0.00000 0.01555 413.46 760.34)" font-family="Liberation Sans" font-weight="normal" font-size="1000" fill="#4a4a4a"  stroke="#4a4a4a" stroke-width="30.2">3</text><text transform="matrix(0.01253 0.00000 0.00000 0.01428 467.76 769.76)" font-family="Liberation Sans" font-weight="normal" font-size="1000" fill="#4a4a4a"  stroke="#4a4a4a" stroke-width="33.6">10</text><text transform="matrix(0.01347 0.00000 0.00000 0.01600 482.10 760.50)" font-family="Liberation Sans" font-weight="normal" font-size="1000" fill="#4a4a4a"  stroke="#4a4a4a" stroke-width="30.7">4</text><text transform="matrix(0.01253 0.00000 0.00000 0.01428 536.16 769.76)" font-family="Liberation Sans" font-weight="normal" font-size="1000" fill="#4a4a4a"  stroke="#4a4a4a" stroke-width="33.6">10</text><text transform="matrix(0.01432 0.00000 0.00000 0.01577 550.23 760.34)" font-family="Liberation Sans" font-weight="normal" font-size="1000" fill="#4a4a4a"  stroke="#4a4a4a" stroke-width="29.9">5</text><text transform="matrix(0.01253 0.00000 0.00000 0.01428 604.56 769.76)" font-family="Liberation Sans" font-weight="normal" font-size="1000" fill="#4a4a4a"  stroke="#4a4a4a" stroke-width="33.6">10</text><text transform="matrix(0.01470 0.00000 0.00000 0.01555 618.46 760.34)" font-family="Liberation Sans" font-weight="normal" font-size="1000" fill="#4a4a4a"  stroke="#4a4a4a" stroke-width="29.8">6</text><text transform="matrix(0.01253 0.00000 0.00000 0.01428 672.96 769.76)" font-family="Liberation Sans" font-weight="normal" font-size="1000" fill="#4a4a4a"  stroke="#4a4a4a" stroke-width="33.6">10</text><text transform="matrix(0.01503 0.00000 0.00000 0.01600 686.81 760.50)" font-family="Liberation Sans" font-weight="normal" font-size="1000" fill="#4a4a4a"  stroke="#4a4a4a" stroke-width="29.0">7</text><text transform="matrix(0.01143 0.00000 0.00000 0.01456 257.94 743.35)" font-family="Liberation Sans" font-weight="normal" font-size="1000" fill="#4a4a4a"  stroke="#4a4a4a" stroke-width="34.9">10</text><text transform="matrix(0.01526 0.00000 0.00000 0.01600 270.76 734.50)" font-family="Liberation Sans" font-weight="normal" font-size="1000" fill="#4a4a4a"  stroke="#4a4a4a" stroke-width="28.8">1</text><text transform="matrix(0.01143 0.00000 0.00000 0.01456 257.94 674.95)" font-family="Liberation Sans" font-weight="normal" font-size="1000" fill="#4a4a4a"  stroke="#4a4a4a" stroke-width="34.9">10</text><text transform="matrix(0.01451 0.00000 0.00000 0.01577 271.17 666.10)" font-family="Liberation Sans" font-weight="normal" font-size="1000" fill="#4a4a4a"  stroke="#4a4a4a" stroke-width="29.8">2</text><text transform="matrix(0.01143 0.00000 0.00000 0.01456 257.94 606.55)" font-family="Liberation Sans" font-weight="normal" font-size="1000" fill="#4a4a4a"  stroke="#4a4a4a" stroke-width="34.9">10</text><text transform="matrix(0.01389 0.00000 0.00000 0.01555 271.38 597.54)" font-family="Liberation Sans" font-weight="normal" font-size="1000" fill="#4a4a4a"  stroke="#4a4a4a" stroke-width="30.6">3</text><text transform="matrix(0.01143 0.00000 0.00000 0.01456 257.94 538.15)" font-family="Liberation Sans" font-weight="normal" font-size="1000" fill="#4a4a4a"  stroke="#4a4a4a" stroke-width="34.9">10</text><text transform="matrix(0.01307 0.00000 0.00000 0.01600 271.61 529.30)" font-family="Liberation Sans" font-weight="normal" font-size="1000" fill="#4a4a4a"  stroke="#4a4a4a" stroke-width="31.1">4</text><text transform="matrix(0.01143 0.00000 0.00000 0.01456 257.94 469.75)" font-family="Liberation Sans" font-weight="normal" font-size="1000" fill="#4a4a4a"  stroke="#4a4a4a" stroke-width="34.9">10</text><text transform="matrix(0.01389 0.00000 0.00000 0.01577 271.34 460.74)" font-family="Liberation Sans" font-weight="normal" font-size="1000" fill="#4a4a4a"  stroke="#4a4a4a" stroke-width="30.4">5</text><text transform="matrix(0.01143 0.00000 0.00000 0.01456 257.94 401.35)" font-family="Liberation Sans" font-weight="normal" font-size="1000" fill="#4a4a4a"  stroke="#4a4a4a" stroke-width="34.9">10</text><text transform="matrix(0.01427 0.00000 0.00000 0.01555 271.19 392.34)" font-family="Liberation Sans" font-weight="normal" font-size="1000" fill="#4a4a4a"  stroke="#4a4a4a" stroke-width="30.2">6</text>
<text transform="matrix(0.02089 0.00000 0.00000 0.02160 304.16 380.70)" font-family="Liberation Sans" font-weight="bold" font-size="1000" fill="#000" >Q1</text>
<text transform="matrix(0.02089 0.00000 0.00000 0.02160 303.73 409.10)" font-family="Liberation Sans" font-weight="bold" font-size="1000" fill="#000" >3.31%</text>
<text transform="matrix(0.02089 0.00000 0.00000 0.02160 618.30 380.10)" font-family="Liberation Sans" font-weight="bold" font-size="1000" fill="#000" >Q2</text>
<text transform="matrix(0.02089 0.00000 0.00000 0.02160 575.01 408.90)" font-family="Liberation Sans" font-weight="bold" font-size="1000" fill="#000" >0.093%</text>
<text transform="matrix(0.02089 0.00000 0.00000 0.02160 624.40 684.50)" font-family="Liberation Sans" font-weight="bold" font-size="1000" fill="#000" >Q3</text>
<text transform="matrix(0.02089 0.00000 0.00000 0.02160 592.81 714.50)" font-family="Liberation Sans" font-weight="bold" font-size="1000" fill="#000" >0.38%</text>
<text transform="matrix(0.02089 0.00000 0.00000 0.02160 303.96 684.50)" font-family="Liberation Sans" font-weight="bold" font-size="1000" fill="#000" >Q4</text>
<text transform="matrix(0.02089 0.00000 0.00000 0.02160 303.47 714.50)" font-family="Liberation Sans" font-weight="bold" font-size="1000" fill="#000" >96.2%</text>
<text transform="matrix(0.02808 0.00000 0.00000 0.02550 407.00 820.89)" font-family="Liberation Sans" font-weight="bold" font-size="1000" fill="#000" >PE: AE1/AE3</text>
<text transform="matrix(0.00000 -0.02796 0.02449 0.00000 204.36 629.40)" font-family="Liberation Sans" font-weight="bold" font-size="1000" fill="#000" >APC: CD140b</text>
<text transform="matrix(0.06658 0.00000 0.00000 0.07194 1156.60 249.78)" font-family="Liberation Sans" font-weight="normal" font-size="1000" fill="#000" stroke="#fff" stroke-width="30.6">3D</text>
<linearGradient id="P2g" x1="0" y1="0" x2="0" y2="1"><stop offset="0" stop-color="#f4f4f4"/><stop offset="1" stop-color="#e2e2e2"/></linearGradient>
<rect x="1027" y="271.3" width="394.4000000000001" height="68.69999999999999" fill="#fff"/>
<rect x="1050" y="271.3" width="371.4000000000001" height="23.19999999999999" fill="url(#P2g)"/>
<rect x="1027" y="271.3" width="394.4000000000001" height="68.69999999999999" rx="2" fill="none" stroke="#4a4a4a" stroke-width="1.9"/>
<line x1="1050" y1="271.3" x2="1050" y2="340" stroke="#4a4a4a" stroke-width="1.9"/>
<line x1="1268.6" y1="271.3" x2="1268.6" y2="340" stroke="#4a4a4a" stroke-width="1.9"/>
<line x1="1369.8" y1="271.3" x2="1369.8" y2="340" stroke="#4a4a4a" stroke-width="1.9"/>
<line x1="1027" y1="294.5" x2="1421.4" y2="294.5" stroke="#4a4a4a" stroke-width="1.9"/>
<line x1="1027" y1="317.5" x2="1421.4" y2="317.5" stroke="#4a4a4a" stroke-width="1.9"/>
<rect x="1030.2" y="298.3" width="14.3" height="13.3" fill="#636363"/>
<rect x="1030.2" y="320.1" width="14.3" height="15.3" fill="#ff2525"/>
<text transform="matrix(0.01462 0.00000 0.00000 0.01390 1112.97 287.50)" font-family="Liberation Sans" font-weight="normal" font-size="1000" fill="#1a1a1a"  stroke="#1a1a1a" stroke-width="21.0">Sample Name</text>
<text transform="matrix(0.01480 0.00000 0.00000 0.01390 1274.36 287.50)" font-family="Liberation Sans" font-weight="normal" font-size="1000" fill="#1a1a1a"  stroke="#1a1a1a" stroke-width="20.9">Subset Name</text>
<text transform="matrix(0.01540 0.00000 0.00000 0.01390 1374.73 287.50)" font-family="Liberation Sans" font-weight="normal" font-size="1000" fill="#1a1a1a"  stroke="#1a1a1a" stroke-width="20.5">Count</text>
<text transform="matrix(0.01452 0.00000 0.00000 0.01390 1055.86 310.40)" font-family="Liberation Sans" font-weight="normal" font-size="1000" fill="#1a1a1a"  stroke="#1a1a1a" stroke-width="21.1">A03 U7S1211-3D IgG.fcs</text>
<text transform="matrix(0.01395 0.00000 0.00000 0.01390 1274.77 310.40)" font-family="Liberation Sans" font-weight="normal" font-size="1000" fill="#1a1a1a"  stroke="#1a1a1a" stroke-width="21.5">SSC-SC</text>
<text transform="matrix(0.01370 0.00000 0.00000 0.01390 1376.80 310.40)" font-family="Liberation Sans" font-weight="normal" font-size="1000" fill="#1a1a1a"  stroke="#1a1a1a" stroke-width="21.7">32882</text>
<text transform="matrix(0.01452 0.00000 0.00000 0.01390 1055.86 333.40)" font-family="Liberation Sans" font-weight="normal" font-size="1000" fill="#1a1a1a"  stroke="#1a1a1a" stroke-width="21.1">A04 U7S1211-3D Ab.fcs</text>
<text transform="matrix(0.01395 0.00000 0.00000 0.01390 1274.77 333.40)" font-family="Liberation Sans" font-weight="normal" font-size="1000" fill="#1a1a1a"  stroke="#1a1a1a" stroke-width="21.5">SSC-SC</text>
<text transform="matrix(0.01370 0.00000 0.00000 0.01390 1376.49 333.40)" font-family="Liberation Sans" font-weight="normal" font-size="1000" fill="#1a1a1a"  stroke="#1a1a1a" stroke-width="21.7">30304</text>
<clipPath id="P2c"><rect x="1029.9" y="344.3" width="391.39999999999986" height="391.40000000000003"/></clipPath>
<g clip-path="url(#P2c)" fill="none" stroke-width="1.3" stroke-linejoin="round">
<path stroke="#ff3c3c" stroke-opacity="0.6" d="M1135.5 646.0 1130.0 646.1 1124.0 645.2 1118.0 643.4 1112.5 640.8 1107.5 637.5 1103.0 633.5 1098.7 628.5 1095.5 623.5 1093.2 618.5 1091.3 612.5 1090.4 606.5 1090.4 601.0 1091.1 595.5 1092.7 590.0 1095.2 584.5 1098.7 579.0 1118.7 555.0 1165.5 503.0 1192.0 476.4 1210.5 459.3 1217.5 453.6 1224.0 449.7 1231.0 446.8 1238.0 445.2 1245.5 444.6 1253.0 445.3 1260.5 447.1 1267.0 449.8 1273.5 453.7 1281.6 461.0 1288.2 470.0 1292.7 480.0 1294.3 485.5 1295.4 491.5 1295.7 503.0 1293.7 514.5 1289.8 525.5 1283.6 536.0 1277.7 543.0 1271.0 548.6 1264.5 552.6 1249.9 560.0 1241.8 565.5 1181.0 618.1 1158.0 636.9 1152.5 640.5 1147.0 643.3 1141.0 645.2ZM1134.5 634.5 1130.0 634.6 1125.0 633.9 1120.5 632.4 1116.5 630.3 1112.5 627.4 1109.1 624.0 1106.2 620.0 1104.1 616.0 1102.6 611.5 1101.8 607.0 1101.7 602.5 1102.4 598.0 1103.8 593.5 1105.6 589.5 1111.8 580.5 1127.1 561.5 1171.9 510.0 1198.0 483.6 1216.0 467.1 1222.0 462.1 1227.5 458.6 1233.5 456.0 1239.5 454.4 1246.0 453.9 1252.5 454.5 1259.0 456.2 1265.0 458.9 1270.5 462.6 1276.6 468.5 1281.7 476.0 1285.2 484.5 1287.0 493.5 1286.9 503.0 1285.1 512.0 1281.5 521.0 1276.4 529.0 1271.5 534.4 1265.5 539.2 1246.0 550.3 1238.5 555.5 1199.5 589.1 1172.5 611.4 1153.5 626.0 1148.5 629.5 1144.0 631.9 1139.0 633.7ZM1134.0 628.1 1128.5 628.0 1123.5 626.8 1118.5 624.2 1114.3 620.5 1111.0 616.0 1109.0 611.0 1108.1 605.5 1108.5 600.0 1110.7 593.5 1115.3 586.0 1129.7 567.0 1152.1 540.0 1175.0 513.5 1197.5 490.5 1219.5 470.2 1227.5 464.0 1232.5 461.4 1237.5 459.6 1243.0 458.6 1248.5 458.6 1254.0 459.4 1259.5 461.2 1264.5 463.7 1269.0 467.0 1274.5 472.8 1278.7 479.5 1281.5 487.0 1282.8 495.0 1282.5 503.5 1280.6 511.5 1277.3 519.0 1272.5 525.9 1268.0 530.6 1262.5 534.9 1244.3 545.5 1237.0 550.5 1221.5 564.3 1197.5 584.2 1165.5 609.7 1145.5 623.9 1139.5 626.8ZM1132.0 623.0 1127.5 622.6 1123.0 620.9 1119.0 618.1 1116.1 614.5 1114.0 610.0 1113.2 605.5 1113.5 601.0 1115.1 596.0 1119.0 589.0 1133.0 569.5 1155.1 542.0 1176.3 517.0 1204.5 488.2 1223.5 471.1 1232.0 465.3 1236.5 463.4 1241.0 462.2 1245.5 461.7 1250.5 462.0 1255.0 462.9 1259.5 464.6 1264.0 467.1 1267.8 470.0 1272.8 475.5 1276.3 481.5 1278.8 488.5 1279.8 496.0 1279.4 503.5 1277.4 511.0 1274.0 518.0 1269.5 524.0 1265.5 527.9 1260.5 531.8 1242.6 542.5 1235.5 547.4 1219.5 561.6 1195.5 581.2 1164.5 605.2 1143.0 619.7 1137.5 622.1ZM1134.0 618.1 1130.0 618.1 1126.0 617.0 1122.8 615.0 1120.2 612.0 1118.6 608.5 1118.0 604.5 1118.4 600.5 1119.8 596.5 1123.4 590.0 1136.1 571.0 1157.1 544.0 1179.3 517.5 1206.2 490.0 1225.0 473.1 1233.0 467.6 1237.0 465.9 1241.5 464.7 1246.0 464.2 1250.5 464.5 1255.0 465.5 1259.0 467.0 1263.0 469.3 1266.5 472.0 1271.0 477.0 1274.2 482.5 1276.5 489.0 1277.5 496.0 1277.0 503.0 1275.3 509.5 1272.2 516.0 1268.0 521.6 1264.0 525.5 1259.5 529.0 1241.5 540.0 1234.5 544.9 1215.5 561.6 1191.5 580.8 1164.0 601.4 1143.0 614.7 1138.2 617.0ZM1134.5 613.1 1131.0 613.1 1128.0 612.1 1125.7 610.5 1124.0 608.0 1123.1 605.0 1123.0 602.0 1123.8 598.5 1125.6 594.5 1133.8 580.0 1138.8 572.5 1159.1 545.5 1182.6 517.0 1207.7 491.5 1226.5 474.6 1234.0 469.5 1238.0 467.8 1242.0 466.8 1246.0 466.3 1250.5 466.6 1254.5 467.5 1258.5 469.0 1262.5 471.4 1265.7 474.0 1270.0 479.0 1273.0 484.5 1274.9 490.5 1275.5 497.0 1274.9 503.5 1273.1 509.5 1270.0 515.4 1266.0 520.5 1258.0 527.2 1234.0 542.5 1213.5 560.4 1190.0 578.8 1163.5 598.0 1156.5 602.5 1143.0 610.0 1138.5 612.0ZM1136.5 607.0 1133.5 607.0 1131.0 605.8 1129.4 603.5 1129.1 600.5 1129.7 597.0 1131.6 592.0 1138.9 577.5 1159.5 548.5 1179.4 523.5 1204.1 497.5 1228.0 475.7 1233.0 472.1 1238.0 469.7 1245.0 468.2 1252.0 468.7 1259.0 471.2 1265.0 475.6 1268.7 480.0 1271.6 485.5 1273.3 491.0 1273.8 497.0 1273.2 503.0 1271.4 509.0 1268.4 514.5 1264.5 519.2 1257.0 525.4 1233.5 540.6 1212.0 559.2 1188.5 577.2 1162.5 595.2 1156.5 598.9 1150.0 602.2 1141.5 605.7ZM1144.0 599.6 1141.0 599.6 1138.5 598.8 1137.3 597.5 1136.6 595.0 1137.0 591.0 1138.2 586.5 1142.7 577.0 1160.9 550.0 1180.3 525.0 1185.5 519.0 1205.5 498.3 1229.0 477.0 1233.9 473.5 1238.5 471.3 1245.0 469.8 1252.0 470.3 1258.5 472.8 1264.0 476.8 1267.5 481.0 1270.2 486.0 1271.8 491.5 1272.3 497.0 1271.7 502.5 1270.0 508.0 1267.3 513.0 1263.5 517.7 1256.0 523.9 1231.5 540.0 1213.5 555.9 1186.0 576.5 1157.5 594.9 1150.5 597.9ZM1151.5 593.1 1148.5 593.4 1146.0 593.0 1144.4 592.0 1143.3 590.0 1143.0 587.5 1143.5 584.0 1146.9 576.5 1162.4 551.5 1181.2 526.5 1186.5 520.3 1206.5 499.5 1229.6 478.5 1234.5 475.0 1239.0 472.8 1245.0 471.4 1251.5 471.8 1257.5 473.9 1263.0 477.9 1266.4 482.0 1268.8 486.5 1270.3 491.5 1270.8 497.0 1270.1 502.5 1268.5 507.5 1266.0 512.1 1262.5 516.4 1255.5 522.2 1230.7 538.5 1212.5 554.6 1186.5 573.7 1159.5 589.9 1155.1 592.0ZM1155.5 586.6 1152.5 586.7 1150.5 585.5 1149.7 583.5 1150.0 580.5 1152.0 575.5 1162.9 554.5 1184.5 525.0 1208.6 499.5 1230.8 479.5 1235.0 476.5 1239.5 474.3 1245.5 472.9 1251.5 473.3 1257.5 475.6 1262.5 479.5 1265.5 483.2 1267.7 487.5 1269.0 492.5 1269.3 497.5 1268.6 502.5 1267.1 507.0 1264.5 511.5 1261.1 515.5 1254.5 520.9 1230.1 537.0 1211.3 553.5 1185.5 571.9 1176.5 577.0 1160.0 585.0ZM1164.5 578.0 1162.0 578.3 1160.0 577.9 1158.7 576.5 1158.3 574.5 1159.0 570.5 1160.6 565.0 1165.2 555.0 1185.6 526.0 1209.7 500.5 1231.2 481.0 1235.5 477.9 1239.5 475.8 1245.0 474.4 1251.0 474.7 1256.5 476.7 1261.5 480.4 1264.4 484.0 1266.4 488.0 1267.6 492.5 1268.0 497.0 1267.4 501.5 1265.9 506.0 1263.5 510.3 1260.4 514.0 1254.0 519.3 1228.3 536.5 1209.0 553.3 1185.5 569.4 1176.0 574.5 1170.0 576.6ZM1172.0 572.1 1169.0 572.1 1167.0 571.6 1165.5 570.3 1164.7 568.5 1164.6 566.0 1165.2 562.5 1168.0 555.5 1186.6 527.5 1210.0 502.4 1231.9 482.5 1235.9 479.5 1239.5 477.5 1245.0 476.0 1250.5 476.2 1255.5 477.9 1260.0 481.1 1262.9 484.5 1264.8 488.0 1266.0 492.0 1266.4 496.5 1265.9 501.0 1264.6 505.0 1262.4 509.0 1259.5 512.6 1253.5 517.6 1227.0 535.4 1212.5 548.4 1206.5 553.0 1182.0 568.5 1177.0 570.8ZM1176.0 567.1 1172.0 566.6 1170.6 565.5 1169.9 564.0 1170.0 559.5 1172.5 553.5 1184.3 534.0 1188.0 528.5 1212.0 502.6 1233.0 483.6 1236.5 481.0 1240.0 479.1 1245.0 477.7 1250.0 477.7 1255.0 479.4 1259.3 482.5 1261.7 485.5 1263.6 489.0 1264.7 493.0 1264.9 497.0 1264.3 501.0 1263.0 504.8 1261.0 508.2 1258.2 511.5 1252.5 516.2 1225.5 534.4 1211.5 547.0 1206.2 551.0 1183.0 564.5 1179.5 566.1ZM1180.5 561.1 1178.0 561.1 1176.5 560.4 1175.8 559.0 1175.8 556.5 1177.6 551.5 1185.9 535.0 1191.9 526.5 1202.2 516.0 1214.0 502.8 1234.0 484.8 1240.5 480.6 1245.5 479.2 1250.0 479.3 1254.5 480.9 1258.5 483.9 1260.6 486.5 1262.3 490.0 1263.2 493.5 1263.4 497.0 1262.9 500.5 1261.6 504.0 1259.5 507.5 1257.0 510.4 1251.5 514.9 1224.0 533.5 1210.6 545.5 1205.5 549.3 1196.5 554.2 1185.0 559.5ZM1189.5 553.6 1185.0 553.7 1183.5 552.5 1183.1 551.0 1184.3 544.5 1187.7 536.0 1193.1 528.0 1203.5 517.2 1214.6 504.5 1234.5 486.4 1241.0 482.1 1245.5 480.8 1250.0 481.0 1254.0 482.4 1257.4 485.0 1259.4 487.5 1260.9 490.5 1261.6 493.5 1261.8 497.0 1261.2 500.5 1260.1 503.5 1256.1 509.0 1251.0 513.2 1222.5 532.4 1210.0 543.6 1205.5 547.0 1198.0 550.9ZM1195.5 548.6 1191.3 548.5 1190.0 547.9 1188.8 546.5 1188.4 544.5 1188.5 542.0 1190.5 536.0 1195.0 529.1 1205.0 518.7 1216.0 505.6 1235.5 487.8 1241.0 484.1 1245.0 482.8 1249.0 482.7 1253.0 483.9 1256.0 486.1 1257.9 488.5 1259.2 491.0 1260.1 496.5 1259.6 499.5 1258.6 502.5 1255.0 507.5 1250.0 511.6 1220.5 531.3 1205.9 544.0 1200.6 547.0ZM1199.5 544.0 1195.5 544.2 1193.4 542.5 1192.9 539.0 1194.2 535.0 1197.5 530.0 1206.5 520.7 1217.9 506.5 1236.5 489.4 1241.4 486.0 1245.0 484.7 1248.5 484.6 1251.8 485.5 1254.7 487.5 1257.4 491.5 1258.2 496.5 1256.9 501.5 1253.8 506.0 1248.9 510.0 1218.0 530.2 1205.5 541.1 1202.5 542.9ZM1202.0 539.0 1199.5 539.2 1198.1 538.0 1198.0 536.0 1199.0 533.5 1201.3 530.5 1208.0 523.5 1215.8 512.0 1220.6 506.5 1229.5 498.7 1237.5 490.9 1241.5 488.0 1245.0 486.6 1248.0 486.4 1251.0 487.2 1253.5 489.0 1255.7 492.5 1256.3 497.0 1255.0 501.3 1252.0 505.2 1248.5 508.0 1229.6 520.5 1215.0 528.8 1205.6 537.0ZM1218.5 523.0 1216.5 523.2 1215.0 522.7 1214.5 521.5 1214.8 519.5 1217.6 513.5 1222.5 507.5 1231.0 500.0 1238.5 492.4 1242.0 489.8 1245.0 488.6 1247.5 488.3 1250.0 488.9 1252.3 490.5 1254.1 493.5 1254.4 497.0 1253.3 500.5 1250.6 504.0 1247.4 506.5 1228.0 519.0 1223.0 521.5ZM1226.5 514.0 1225.1 514.0 1224.7 513.5 1225.6 511.0 1232.5 504.1 1241.0 494.1 1243.5 492.4 1246.0 491.7 1248.3 492.0 1250.0 493.2 1251.0 495.0 1251.1 497.5 1250.0 500.0 1248.3 502.0 1244.6 504.5 1236.5 508.4 1229.0 513.0Z"/>
<path stroke="#6e7373" stroke-opacity="0.55" d="M1114.5 653.5 1108.0 654.0 1101.5 653.7 1095.0 652.7 1089.5 651.1 1084.5 648.9 1080.0 646.0 1076.5 642.7 1073.9 639.0 1072.3 635.0 1071.5 630.5 1071.7 626.0 1072.8 621.5 1074.9 616.5 1078.0 611.5 1081.8 606.5 1086.5 601.5 1093.5 595.4 1101.5 589.9 1125.1 577.5 1147.5 561.9 1166.5 552.0 1181.0 542.3 1189.5 537.8 1195.5 535.8 1200.5 534.9 1205.5 534.5 1210.5 534.9 1215.0 535.9 1220.0 537.8 1224.0 540.2 1227.8 543.5 1231.6 548.5 1234.0 554.0 1235.3 560.0 1235.2 566.5 1233.8 573.0 1231.3 579.0 1227.1 585.5 1222.2 591.0 1205.4 604.5 1189.0 619.8 1183.0 624.2 1175.0 629.2 1157.0 638.8 1139.5 646.8 1126.5 651.2ZM1110.5 646.0 1101.0 645.3 1093.0 642.6 1089.6 640.5 1087.0 638.2 1085.1 635.5 1083.7 632.5 1083.2 629.5 1083.2 626.0 1085.3 619.5 1090.2 612.0 1097.5 604.7 1108.5 596.7 1129.5 585.0 1149.0 569.7 1167.1 559.5 1182.0 547.7 1190.5 542.8 1195.0 541.1 1200.0 540.1 1205.0 539.7 1209.5 540.1 1213.5 541.1 1217.5 542.8 1221.0 545.1 1224.1 548.0 1227.2 552.5 1229.1 557.5 1229.9 563.0 1229.5 568.5 1227.9 574.0 1225.2 579.5 1221.5 584.5 1217.0 589.0 1211.5 593.1 1198.4 601.5 1182.0 615.3 1171.5 621.8 1140.5 637.3 1131.5 641.3 1120.5 644.7ZM1114.0 641.5 1105.5 641.4 1098.5 639.5 1093.1 636.0 1090.2 631.5 1089.5 629.0 1089.5 626.0 1091.1 620.5 1095.0 614.5 1101.5 608.0 1111.0 601.1 1131.0 589.5 1149.5 574.0 1155.0 570.3 1168.0 562.9 1182.0 550.6 1190.0 545.6 1194.5 543.8 1199.0 542.6 1203.5 542.2 1208.0 542.5 1212.0 543.4 1216.0 545.0 1219.5 547.3 1222.3 550.0 1224.9 554.0 1226.6 558.5 1227.3 563.5 1226.9 568.5 1225.3 574.0 1223.0 578.5 1219.7 583.0 1215.5 587.2 1209.0 591.8 1195.4 599.5 1181.0 611.3 1171.5 617.2 1151.6 626.5 1130.5 637.0 1122.0 640.0ZM1115.5 638.0 1108.5 638.2 1102.5 636.9 1097.7 634.0 1094.9 630.0 1094.4 625.5 1095.9 620.5 1099.5 615.3 1105.0 610.0 1113.0 604.3 1132.1 593.0 1150.0 577.0 1156.0 572.7 1168.5 565.4 1182.2 552.5 1190.0 547.3 1194.5 545.4 1199.0 544.3 1203.5 543.8 1207.5 544.1 1211.5 545.0 1215.0 546.5 1218.5 548.9 1221.1 551.5 1223.6 555.5 1225.0 559.5 1225.5 564.0 1225.1 569.0 1223.7 573.5 1221.1 578.5 1218.0 582.5 1214.0 586.4 1207.5 590.8 1192.7 598.5 1179.5 609.0 1171.0 614.3 1148.7 624.0 1128.5 634.3 1122.0 636.7ZM1116.5 635.0 1110.5 635.3 1105.0 634.1 1101.5 632.0 1099.1 628.5 1098.8 624.5 1100.1 620.5 1103.4 616.0 1108.3 611.5 1114.5 607.2 1127.5 599.7 1133.0 596.1 1137.5 592.2 1150.8 579.0 1156.5 574.9 1169.0 567.4 1182.4 554.0 1190.0 548.6 1194.0 546.8 1198.5 545.6 1203.0 545.1 1207.0 545.3 1211.0 546.2 1214.5 547.7 1217.5 549.8 1220.2 552.5 1222.4 556.0 1223.7 560.0 1224.2 564.5 1223.8 569.0 1222.4 573.5 1220.0 578.0 1216.9 582.0 1213.0 585.6 1206.5 589.9 1190.8 597.5 1178.0 607.5 1170.5 612.0 1147.0 621.5 1126.5 632.1 1121.5 633.9ZM1118.0 632.0 1113.5 632.5 1109.5 632.1 1106.5 630.9 1104.1 629.0 1102.9 626.5 1103.0 623.5 1104.2 620.5 1106.3 617.5 1109.5 614.4 1114.0 611.0 1128.5 602.6 1134.0 598.8 1138.5 594.6 1151.0 581.2 1156.5 576.9 1170.0 568.5 1180.7 557.0 1185.5 552.6 1190.0 549.7 1194.5 547.7 1199.5 546.4 1204.0 546.1 1208.5 546.6 1213.0 548.2 1216.5 550.4 1219.5 553.4 1221.6 557.0 1222.9 561.0 1223.2 565.0 1222.6 569.5 1221.1 574.0 1218.9 578.0 1215.6 582.0 1212.0 585.2 1205.5 589.3 1189.4 596.5 1177.0 606.0 1170.0 610.2 1163.0 613.2 1145.5 619.1 1126.9 629.0ZM1115.0 629.5 1110.0 628.5 1108.6 627.5 1107.5 626.0 1107.1 624.0 1107.5 622.1 1110.1 618.0 1116.0 613.2 1129.5 605.6 1134.5 602.0 1138.5 598.0 1147.1 587.5 1151.5 582.8 1157.0 578.4 1167.0 572.4 1170.5 569.8 1181.3 557.5 1187.0 552.5 1191.5 549.8 1195.5 548.1 1200.0 547.1 1205.0 546.9 1209.0 547.6 1213.0 549.1 1216.5 551.5 1219.2 554.5 1221.1 558.0 1222.2 562.0 1222.3 566.0 1221.5 570.5 1220.0 574.5 1217.6 578.5 1214.5 582.1 1210.5 585.4 1204.0 589.1 1188.5 595.5 1175.5 605.2 1168.5 609.2 1161.0 612.0 1143.5 617.0 1138.5 619.2 1124.5 627.2 1119.5 628.9ZM1117.5 626.0 1114.0 625.5 1112.4 624.0 1112.4 621.5 1114.4 618.5 1119.0 615.0 1130.0 609.3 1134.5 606.1 1138.5 601.7 1146.9 590.0 1151.6 584.5 1157.5 579.5 1170.5 571.2 1173.5 568.1 1181.7 558.0 1187.5 552.8 1191.5 550.4 1196.0 548.6 1200.5 547.6 1205.0 547.6 1209.0 548.3 1213.0 549.9 1216.0 552.0 1218.7 555.0 1220.5 558.5 1221.5 562.5 1221.6 566.5 1220.9 570.5 1219.3 574.5 1216.8 578.5 1213.7 582.0 1210.0 585.0 1203.0 588.9 1187.5 594.9 1175.0 604.1 1168.0 608.0 1159.5 610.9 1144.5 613.8 1139.5 615.2 1135.0 617.3 1124.2 624.0 1120.5 625.5ZM1151.5 611.0 1140.0 611.3 1138.0 610.8 1137.3 609.5 1138.6 606.0 1143.6 597.0 1147.5 591.0 1151.0 586.5 1157.5 580.5 1167.5 574.4 1171.0 571.7 1180.9 559.5 1185.4 555.0 1189.0 552.3 1193.5 549.9 1198.0 548.5 1202.5 547.9 1207.0 548.2 1211.0 549.4 1214.5 551.4 1217.3 554.0 1219.4 557.0 1220.7 560.5 1221.2 564.0 1221.0 568.0 1220.0 572.0 1218.3 575.5 1215.9 579.0 1212.5 582.6 1208.5 585.6 1204.0 588.0 1186.6 594.5 1175.0 603.0 1169.0 606.5 1161.0 609.4ZM1122.5 620.1 1121.0 620.4 1120.4 620.0 1121.7 618.5 1124.5 617.6 1124.9 618.0 1124.6 618.5ZM1156.0 607.5 1152.5 607.4 1149.5 606.7 1147.5 605.6 1146.5 604.1 1146.1 602.0 1146.4 599.5 1149.4 592.5 1153.0 587.5 1156.9 583.5 1168.5 575.9 1172.0 573.0 1181.3 560.5 1186.0 555.6 1190.0 552.7 1194.0 550.6 1198.5 549.3 1202.5 548.8 1206.5 549.1 1210.5 550.2 1213.7 552.0 1216.4 554.5 1218.5 557.5 1219.7 560.5 1220.3 564.0 1220.1 568.0 1219.2 571.5 1217.3 575.5 1214.8 579.0 1212.0 581.9 1208.0 584.9 1203.0 587.4 1188.5 591.9 1184.8 593.5 1173.8 601.5 1168.5 604.5 1162.5 606.6ZM1160.0 604.0 1155.0 603.4 1153.3 602.5 1151.9 601.0 1151.3 599.0 1151.4 597.0 1153.4 591.5 1155.9 588.0 1159.0 584.8 1169.5 577.9 1172.5 575.3 1181.4 562.0 1186.3 556.5 1190.0 553.7 1194.0 551.6 1198.0 550.3 1202.0 549.8 1206.0 550.0 1209.5 550.9 1213.0 552.8 1215.5 555.0 1217.5 557.9 1218.8 561.0 1219.3 564.5 1219.1 568.0 1218.2 571.5 1216.6 575.0 1214.5 578.0 1211.5 581.1 1207.0 584.4 1202.0 586.8 1183.5 591.9 1169.5 601.3 1165.0 603.1ZM1165.0 600.0 1160.5 600.3 1158.5 599.8 1157.0 598.7 1156.3 597.5 1155.9 595.5 1157.1 591.5 1161.2 586.5 1170.0 580.7 1173.0 577.9 1181.4 563.5 1187.0 557.0 1190.5 554.4 1194.0 552.5 1197.5 551.3 1201.5 550.6 1205.5 550.8 1209.0 551.7 1212.0 553.3 1214.6 555.5 1216.5 558.0 1217.8 561.0 1218.4 564.5 1218.2 568.0 1217.3 571.5 1215.9 574.5 1213.8 577.5 1211.0 580.5 1206.5 583.7 1200.5 586.4 1195.0 587.8 1184.5 589.5 1181.0 590.6 1178.0 592.2 1170.5 597.7ZM1165.5 596.0 1163.4 596.0 1161.7 595.0 1161.2 593.0 1161.9 591.0 1164.5 588.0 1171.0 583.8 1173.5 581.5 1181.8 564.5 1185.0 560.1 1188.5 556.7 1192.0 554.3 1195.5 552.6 1199.0 551.7 1202.5 551.3 1206.0 551.7 1209.5 552.8 1212.3 554.5 1214.5 556.6 1216.3 559.5 1217.3 562.5 1217.6 565.5 1217.2 569.0 1216.1 572.5 1214.4 575.5 1209.5 580.8 1204.5 584.0 1198.5 586.2 1193.5 587.1 1182.0 588.0 1178.0 588.8 1175.5 590.0 1169.5 594.5ZM1195.0 586.0 1190.0 586.4 1184.5 586.1 1180.5 585.2 1178.4 584.0 1177.5 582.0 1177.5 579.0 1180.2 569.5 1182.4 565.0 1185.2 561.0 1188.5 557.6 1192.1 555.0 1196.0 553.2 1200.5 552.2 1204.5 552.2 1208.5 553.2 1213.0 556.2 1214.9 558.5 1216.0 560.9 1216.8 566.5 1215.5 572.0 1212.4 577.0 1207.5 581.4 1202.0 584.3ZM1196.0 584.0 1192.0 584.1 1188.0 583.5 1185.0 582.3 1183.0 580.6 1181.9 578.5 1181.4 575.5 1181.8 572.0 1182.8 568.5 1184.4 565.0 1186.9 561.5 1189.8 558.5 1193.0 556.3 1196.5 554.7 1200.5 553.8 1204.0 553.8 1207.5 554.7 1211.5 557.2 1214.1 561.0 1215.1 566.0 1214.1 571.0 1211.2 576.0 1207.0 579.9 1202.0 582.5ZM1196.5 582.0 1193.0 582.0 1190.0 581.3 1187.5 580.1 1185.8 578.5 1184.6 576.0 1184.2 573.5 1184.5 570.5 1185.3 567.5 1186.9 564.5 1189.1 561.5 1191.5 559.3 1194.5 557.3 1200.5 555.5 1203.5 555.6 1206.5 556.3 1210.0 558.5 1212.4 562.0 1213.2 566.5 1212.3 571.0 1209.9 575.0 1206.0 578.6 1201.5 580.9ZM1196.5 580.0 1191.5 579.2 1189.5 578.1 1188.0 576.5 1187.0 574.5 1186.6 572.0 1187.7 567.0 1191.0 562.0 1195.5 558.8 1201.0 557.3 1206.0 558.2 1209.0 560.4 1210.8 563.5 1211.3 567.0 1210.3 571.0 1208.1 574.5 1205.0 577.2 1201.0 579.2ZM1200.0 577.5 1195.5 577.9 1191.8 576.5 1189.5 573.5 1189.1 569.5 1190.6 565.5 1194.0 561.8 1198.0 559.7 1202.5 559.3 1205.5 560.3 1207.6 562.0 1209.0 564.7 1209.2 568.0 1208.2 571.0 1206.1 574.0 1203.5 576.0ZM1199.0 575.5 1195.5 575.4 1193.1 574.0 1191.7 571.5 1191.8 568.5 1193.2 565.5 1196.0 562.8 1199.4 561.5 1202.5 561.6 1204.6 562.5 1206.3 564.5 1206.9 566.5 1206.7 569.0 1205.5 571.5 1204.0 573.2 1201.5 574.8ZM1199.5 572.6 1197.5 572.6 1196.0 571.9 1195.0 570.5 1194.9 568.5 1195.5 567.0 1197.0 565.4 1199.0 564.4 1201.0 564.3 1202.5 564.9 1203.5 565.9 1203.8 568.5 1202.4 571.0Z"/>
<path stroke="#ff3c3c" stroke-opacity="0.6" d="M1211.0 754.5 1200.0 754.9 1140.0 754.9 1131.5 754.6 1125.5 753.9 1118.0 751.5 1115.0 749.7 1112.5 747.5 1110.6 745.0 1109.3 742.0 1108.8 739.0 1109.1 736.5 1111.2 731.5 1115.0 727.7 1120.5 724.8 1128.0 723.1 1139.5 722.5 1199.0 722.5 1208.5 722.7 1215.0 723.4 1222.5 725.6 1228.0 729.4 1230.1 732.0 1231.4 734.5 1232.1 737.5 1232.1 740.0 1231.4 743.0 1230.1 745.5 1228.0 748.0 1225.5 750.1 1219.0 753.1ZM1210.0 750.5 1199.5 750.9 1143.5 750.9 1129.0 750.3 1122.5 748.6 1118.0 745.8 1115.2 742.0 1114.6 740.0 1114.6 737.5 1116.2 733.5 1119.5 730.4 1124.0 728.3 1130.5 726.9 1141.0 726.5 1197.0 726.5 1212.0 727.1 1218.5 728.8 1222.9 731.5 1225.6 735.0 1226.3 737.0 1226.4 739.5 1225.0 743.5 1221.5 747.0 1216.5 749.3ZM1209.5 748.5 1199.5 748.9 1147.0 748.9 1131.0 748.4 1125.5 747.3 1121.0 745.0 1118.3 742.0 1117.6 740.0 1117.5 738.0 1118.9 734.5 1122.0 731.7 1126.5 729.8 1132.0 728.8 1193.5 728.5 1209.5 728.9 1215.0 729.9 1219.5 732.0 1222.4 735.0 1223.5 738.5 1222.5 742.3 1219.5 745.4 1215.5 747.3ZM1197.0 747.5 1141.5 747.5 1131.5 747.0 1126.5 745.9 1122.7 744.0 1120.2 741.0 1119.8 738.0 1120.4 736.0 1121.5 734.5 1125.5 731.8 1131.0 730.4 1139.5 729.9 1207.5 730.2 1212.0 730.8 1216.0 732.1 1219.0 734.0 1220.8 736.5 1221.3 739.0 1220.5 741.5 1218.9 743.5 1216.0 745.3 1209.0 747.1ZM1185.5 746.5 1141.5 746.5 1132.0 746.0 1127.5 745.0 1124.0 743.3 1122.0 741.0 1121.4 738.0 1122.2 736.0 1123.5 734.5 1127.5 732.4 1133.5 731.2 1143.0 730.9 1207.5 731.2 1212.0 731.9 1215.5 733.2 1218.0 735.0 1219.5 737.5 1219.4 740.0 1218.4 742.0 1215.9 744.0 1212.5 745.3 1204.5 746.4ZM1194.0 745.5 1134.0 745.2 1129.5 744.4 1126.0 743.0 1123.8 741.0 1123.1 738.5 1123.5 737.0 1124.6 735.5 1128.0 733.4 1133.0 732.3 1141.5 731.9 1206.0 732.1 1210.5 732.7 1214.0 733.9 1216.4 735.5 1217.7 737.5 1217.8 739.5 1216.8 741.5 1215.0 743.0 1212.5 744.1 1206.0 745.3ZM1206.0 744.5 1135.5 744.6 1131.0 744.0 1127.5 742.8 1125.3 741.0 1124.4 738.5 1125.6 736.0 1128.5 734.2 1133.0 733.1 1139.0 732.7 1204.0 732.8 1211.5 733.8 1215.5 736.1 1216.4 737.5 1216.6 739.0 1216.1 740.5 1215.0 741.8 1211.5 743.6ZM1176.0 744.0 1134.5 743.6 1131.0 743.0 1128.4 742.0 1126.6 740.5 1125.9 738.5 1126.5 737.0 1128.2 735.5 1134.0 733.8 1165.5 733.4 1206.5 733.8 1210.0 734.4 1212.8 735.5 1214.5 737.0 1215.1 738.5 1214.5 740.4 1213.0 741.8 1207.5 743.5 1200.0 744.0ZM1205.0 743.0 1137.0 743.1 1133.0 742.6 1130.0 741.7 1128.0 740.3 1127.4 738.5 1128.6 736.5 1131.5 735.1 1135.5 734.4 1142.5 734.1 1203.0 734.2 1210.0 735.3 1212.0 736.2 1213.3 737.5 1213.5 739.5 1212.0 741.2 1209.0 742.4ZM1186.0 742.5 1137.5 742.3 1131.1 741.0 1129.7 740.0 1129.2 738.5 1129.6 737.5 1131.0 736.5 1136.5 735.2 1165.5 734.9 1204.0 735.1 1209.5 736.2 1211.0 737.1 1211.8 738.5 1211.6 739.5 1210.5 740.6 1206.3 742.0ZM1205.0 741.5 1195.5 741.9 1140.0 741.8 1133.0 740.8 1131.4 740.0 1130.7 738.5 1132.0 737.0 1134.5 736.2 1145.0 735.5 1201.0 735.6 1207.0 736.3 1209.0 737.0 1210.1 738.0 1210.3 739.0 1209.5 740.1ZM1200.0 741.0 1140.7 741.0 1135.0 740.3 1133.4 739.5 1133.0 738.5 1135.0 737.1 1139.0 736.5 1165.5 736.3 1201.5 736.5 1206.0 737.1 1208.0 738.5 1207.6 739.5 1206.0 740.3ZM1176.5 740.5 1141.5 740.4 1136.5 739.8 1135.1 739.0 1135.0 738.5 1136.9 737.5 1141.0 737.0 1165.5 736.9 1199.5 737.0 1204.1 737.5 1206.0 738.5 1205.0 739.6 1201.0 740.3ZM1201.0 739.5 1145.0 739.8 1139.9 739.5 1138.1 739.0 1138.0 738.5 1143.5 737.7 1165.5 737.6 1196.5 737.6 1201.5 738.0 1203.0 738.5 1202.9 739.0Z"/>
<path stroke="#6e7373" stroke-opacity="0.55" d="M1190.0 754.5 1138.5 754.4 1131.5 754.1 1126.0 753.2 1119.0 750.7 1114.2 747.0 1112.5 744.5 1111.4 742.0 1111.3 737.0 1112.4 734.0 1114.1 731.5 1116.5 729.3 1120.0 727.2 1128.0 724.8 1138.0 724.0 1198.0 723.9 1210.0 724.4 1216.0 725.4 1221.5 727.4 1225.9 730.5 1228.6 734.0 1229.9 738.5 1229.2 743.0 1226.5 747.3 1222.0 750.7 1217.0 752.7 1211.0 753.9ZM1207.5 749.5 1197.5 749.9 1146.5 749.9 1132.0 749.4 1126.0 748.0 1121.5 745.6 1118.9 742.5 1118.2 740.5 1118.1 738.5 1119.5 734.9 1123.0 731.8 1128.0 729.8 1135.0 728.8 1203.5 728.6 1212.0 729.6 1218.0 731.8 1220.8 734.0 1222.6 737.0 1222.9 740.0 1221.8 743.0 1219.6 745.5 1216.5 747.4 1212.5 748.7ZM1206.5 747.5 1149.5 747.9 1134.0 747.5 1128.5 746.4 1124.5 744.5 1121.8 741.5 1121.4 738.5 1122.7 735.5 1126.0 733.0 1131.0 731.4 1137.5 730.7 1203.5 730.7 1211.5 731.7 1214.5 732.8 1217.0 734.3 1218.6 736.0 1219.6 738.5 1219.4 741.0 1218.2 743.0 1216.0 744.8 1213.5 746.1ZM1206.0 746.0 1192.5 746.4 1136.0 746.1 1131.0 745.4 1127.0 743.8 1124.6 741.5 1123.9 739.0 1125.3 736.0 1128.2 734.0 1132.5 732.7 1139.0 732.1 1202.5 732.1 1210.5 733.2 1215.2 735.5 1216.5 737.0 1217.1 738.5 1216.9 740.5 1216.0 742.1 1214.4 743.5 1212.0 744.7ZM1204.0 745.0 1137.0 745.0 1132.0 744.3 1128.7 743.0 1126.5 741.0 1126.0 739.0 1127.2 736.5 1130.5 734.6 1135.0 733.6 1141.5 733.2 1202.5 733.3 1210.0 734.4 1212.5 735.5 1214.2 737.0 1214.9 738.5 1214.9 740.0 1213.1 742.5 1209.5 744.1ZM1202.0 744.0 1138.5 744.0 1134.5 743.5 1131.0 742.4 1129.0 741.0 1128.3 739.0 1129.4 737.0 1132.5 735.4 1137.0 734.5 1144.0 734.3 1202.0 734.4 1208.9 735.5 1211.0 736.5 1212.4 738.0 1212.5 740.2 1210.5 742.2 1207.0 743.4ZM1202.5 743.0 1140.0 743.1 1133.0 741.9 1130.8 740.5 1130.3 739.0 1131.5 737.3 1134.5 736.0 1144.5 735.2 1200.5 735.3 1206.5 736.0 1209.0 736.9 1210.3 738.0 1210.5 740.0 1209.0 741.5 1206.1 742.5ZM1203.0 742.0 1193.0 742.4 1141.5 742.3 1135.0 741.4 1133.3 740.5 1132.5 739.0 1133.9 737.5 1136.5 736.6 1147.0 736.0 1199.0 736.1 1205.5 736.9 1208.3 738.5 1208.5 739.5 1207.5 740.7ZM1201.5 741.0 1192.5 741.4 1144.0 741.3 1137.5 740.6 1136.0 740.0 1135.5 739.0 1137.0 737.9 1141.5 737.2 1166.0 737.0 1198.5 737.1 1203.5 737.8 1205.5 739.0 1204.5 740.3ZM1199.5 740.1 1147.0 740.4 1141.1 740.0 1139.6 739.5 1139.5 739.0 1141.0 738.4 1145.5 738.0 1166.0 738.0 1195.0 738.0 1199.5 738.4 1201.5 739.0 1201.4 739.5Z"/>
<path stroke="#ff3c3c" stroke-opacity="0.6" d="M1025.0 645.6 1022.0 645.4 1019.0 644.3 1016.5 642.5 1013.9 639.5 1011.9 636.0 1010.2 631.5 1009.0 622.5 1009.2 617.5 1010.1 613.0 1011.5 609.0 1013.2 605.5 1015.5 602.5 1018.0 600.3 1021.0 598.9 1024.0 598.4 1027.0 598.9 1029.5 600.0 1032.0 602.0 1034.5 605.1 1036.3 608.5 1037.8 612.5 1039.0 621.5 1038.1 630.0 1036.8 634.5 1035.1 638.0 1033.0 640.9 1030.5 643.3 1028.0 644.8ZM1026.0 636.6 1024.0 636.9 1022.0 636.6 1018.5 634.1 1015.8 629.5 1014.6 624.0 1014.9 618.0 1016.7 612.5 1019.5 608.9 1021.5 607.6 1023.5 607.1 1027.0 607.9 1030.0 610.5 1032.2 614.5 1033.4 620.0 1033.2 625.5 1031.8 630.5 1029.1 634.5Z"/>
<path stroke="#6e7373" stroke-opacity="0.55" d="M1026.0 639.7 1023.5 640.0 1021.5 639.5 1019.5 638.3 1017.5 636.3 1014.7 631.0 1013.3 624.0 1013.6 617.0 1015.7 610.5 1019.1 606.0 1021.0 604.7 1023.5 604.0 1025.5 604.2 1027.5 605.0 1031.0 608.3 1033.7 614.0 1034.7 620.0 1034.4 626.5 1032.8 632.5 1029.9 637.0 1028.0 638.7Z"/>
<path stroke="#ff3c3c" stroke-opacity="0.6" d="M1028.5 755.1 1025.5 755.1 1022.0 754.4 1019.0 753.1 1016.0 751.1 1013.9 749.0 1011.9 746.0 1010.6 743.0 1009.9 739.5 1009.9 736.5 1010.6 733.0 1011.9 730.0 1013.9 727.0 1016.0 724.9 1019.0 722.9 1022.0 721.6 1025.5 720.9 1028.5 720.9 1032.0 721.6 1035.0 722.9 1038.0 724.9 1040.1 727.0 1042.1 730.0 1043.4 733.0 1044.1 736.5 1044.1 739.5 1043.4 743.0 1042.1 746.0 1040.1 749.0 1038.0 751.1 1035.0 753.1 1032.0 754.4Z"/>
</g>
<rect x="1029.9" y="344.3" width="391.39999999999986" height="391.40000000000003" fill="none" stroke="#3a3a3a" stroke-width="1.8"/>
<line x1="1029.9" y1="525.4" x2="1421.3" y2="525.4" stroke="#000" stroke-width="2.8"/>
<line x1="1246.3" y1="344.3" x2="1246.3" y2="735.7" stroke="#000" stroke-width="2.8"/>
<line x1="1034.8" y1="735.7" x2="1034.8" y2="741.5" stroke="#222" stroke-width="1.9"/><line x1="1041.4" y1="735.7" x2="1041.4" y2="743.2" stroke="#222" stroke-width="2.0"/><line x1="1046.8" y1="735.7" x2="1046.8" y2="741.5" stroke="#222" stroke-width="1.9"/><line x1="1051.4" y1="735.7" x2="1051.4" y2="741.5" stroke="#222" stroke-width="1.9"/><line x1="1055.4" y1="735.7" x2="1055.4" y2="741.5" stroke="#222" stroke-width="1.9"/><line x1="1058.9" y1="735.7" x2="1058.9" y2="741.5" stroke="#222" stroke-width="1.9"/><line x1="1062.0" y1="735.7" x2="1062.0" y2="746.5" stroke="#222" stroke-width="2.9"/><line x1="1082.6" y1="735.7" x2="1082.6" y2="741.5" stroke="#222" stroke-width="1.9"/><line x1="1094.6" y1="735.7" x2="1094.6" y2="741.5" stroke="#222" stroke-width="1.9"/><line x1="1103.2" y1="735.7" x2="1103.2" y2="741.5" stroke="#222" stroke-width="1.9"/><line x1="1109.8" y1="735.7" x2="1109.8" y2="743.2" stroke="#222" stroke-width="2.0"/><line x1="1115.2" y1="735.7" x2="1115.2" y2="741.5" stroke="#222" stroke-width="1.9"/><line x1="1119.8" y1="735.7" x2="1119.8" y2="741.5" stroke="#222" stroke-width="1.9"/><line x1="1123.8" y1="735.7" x2="1123.8" y2="741.5" stroke="#222" stroke-width="1.9"/><line x1="1127.3" y1="735.7" x2="1127.3" y2="741.5" stroke="#222" stroke-width="1.9"/><line x1="1130.4" y1="735.7" x2="1130.4" y2="746.5" stroke="#222" stroke-width="2.9"/><line x1="1151.0" y1="735.7" x2="1151.0" y2="741.5" stroke="#222" stroke-width="1.9"/><line x1="1163.0" y1="735.7" x2="1163.0" y2="741.5" stroke="#222" stroke-width="1.9"/><line x1="1171.6" y1="735.7" x2="1171.6" y2="741.5" stroke="#222" stroke-width="1.9"/><line x1="1178.2" y1="735.7" x2="1178.2" y2="743.2" stroke="#222" stroke-width="2.0"/><line x1="1183.6" y1="735.7" x2="1183.6" y2="741.5" stroke="#222" stroke-width="1.9"/><line x1="1188.2" y1="735.7" x2="1188.2" y2="741.5" stroke="#222" stroke-width="1.9"/><line x1="1192.2" y1="735.7" x2="1192.2" y2="741.5" stroke="#222" stroke-width="1.9"/><line x1="1195.7" y1="735.7" x2="1195.7" y2="741.5" stroke="#222" stroke-width="1.9"/><line x1="1198.8" y1="735.7" x2="1198.8" y2="746.5" stroke="#222" stroke-width="2.9"/><line x1="1219.4" y1="735.7" x2="1219.4" y2="741.5" stroke="#222" stroke-width="1.9"/><line x1="1231.4" y1="735.7" x2="1231.4" y2="741.5" stroke="#222" stroke-width="1.9"/><line x1="1240.0" y1="735.7" x2="1240.0" y2="741.5" stroke="#222" stroke-width="1.9"/><line x1="1246.6" y1="735.7" x2="1246.6" y2="743.2" stroke="#222" stroke-width="2.0"/><line x1="1252.0" y1="735.7" x2="1252.0" y2="741.5" stroke="#222" stroke-width="1.9"/><line x1="1256.6" y1="735.7" x2="1256.6" y2="741.5" stroke="#222" stroke-width="1.9"/><line x1="1260.6" y1="735.7" x2="1260.6" y2="741.5" stroke="#222" stroke-width="1.9"/><line x1="1264.1" y1="735.7" x2="1264.1" y2="741.5" stroke="#222" stroke-width="1.9"/><line x1="1267.2" y1="735.7" x2="1267.2" y2="746.5" stroke="#222" stroke-width="2.9"/><line x1="1287.8" y1="735.7" x2="1287.8" y2="741.5" stroke="#222" stroke-width="1.9"/><line x1="1299.8" y1="735.7" x2="1299.8" y2="741.5" stroke="#222" stroke-width="1.9"/><line x1="1308.4" y1="735.7" x2="1308.4" y2="741.5" stroke="#222" stroke-width="1.9"/><line x1="1315.0" y1="735.7" x2="1315.0" y2="743.2" stroke="#222" stroke-width="2.0"/><line x1="1320.4" y1="735.7" x2="1320.4" y2="741.5" stroke="#222" stroke-width="1.9"/><line x1="1325.0" y1="735.7" x2="1325.0" y2="741.5" stroke="#222" stroke-width="1.9"/><line x1="1329.0" y1="735.7" x2="1329.0" y2="741.5" stroke="#222" stroke-width="1.9"/><line x1="1332.5" y1="735.7" x2="1332.5" y2="741.5" stroke="#222" stroke-width="1.9"/><line x1="1335.6" y1="735.7" x2="1335.6" y2="746.5" stroke="#222" stroke-width="2.9"/><line x1="1356.2" y1="735.7" x2="1356.2" y2="741.5" stroke="#222" stroke-width="1.9"/><line x1="1368.2" y1="735.7" x2="1368.2" y2="741.5" stroke="#222" stroke-width="1.9"/><line x1="1376.8" y1="735.7" x2="1376.8" y2="741.5" stroke="#222" stroke-width="1.9"/><line x1="1383.4" y1="735.7" x2="1383.4" y2="743.2" stroke="#222" stroke-width="2.0"/><line x1="1388.8" y1="735.7" x2="1388.8" y2="741.5" stroke="#222" stroke-width="1.9"/><line x1="1393.4" y1="735.7" x2="1393.4" y2="741.5" stroke="#222" stroke-width="1.9"/><line x1="1397.4" y1="735.7" x2="1397.4" y2="741.5" stroke="#222" stroke-width="1.9"/><line x1="1400.9" y1="735.7" x2="1400.9" y2="741.5" stroke="#222" stroke-width="1.9"/><line x1="1404.0" y1="735.7" x2="1404.0" y2="746.5" stroke="#222" stroke-width="2.9"/><line x1="1017.9" y1="734.5" x2="1029.9" y2="734.5" stroke="#222" stroke-width="2.9"/><line x1="1023.9" y1="713.9" x2="1029.9" y2="713.9" stroke="#222" stroke-width="1.9"/><line x1="1023.9" y1="701.9" x2="1029.9" y2="701.9" stroke="#222" stroke-width="1.9"/><line x1="1023.9" y1="693.3" x2="1029.9" y2="693.3" stroke="#222" stroke-width="1.9"/><line x1="1021.4" y1="686.7" x2="1029.9" y2="686.7" stroke="#222" stroke-width="2.0"/><line x1="1023.9" y1="681.3" x2="1029.9" y2="681.3" stroke="#222" stroke-width="1.9"/><line x1="1023.9" y1="676.7" x2="1029.9" y2="676.7" stroke="#222" stroke-width="1.9"/><line x1="1023.9" y1="672.7" x2="1029.9" y2="672.7" stroke="#222" stroke-width="1.9"/><line x1="1023.9" y1="669.2" x2="1029.9" y2="669.2" stroke="#222" stroke-width="1.9"/><line x1="1017.9" y1="666.1" x2="1029.9" y2="666.1" stroke="#222" stroke-width="2.9"/><line x1="1023.9" y1="645.5" x2="1029.9" y2="645.5" stroke="#222" stroke-width="1.9"/><line x1="1023.9" y1="633.5" x2="1029.9" y2="633.5" stroke="#222" stroke-width="1.9"/><line x1="1023.9" y1="624.9" x2="1029.9" y2="624.9" stroke="#222" stroke-width="1.9"/><line x1="1021.4" y1="618.3" x2="1029.9" y2="618.3" stroke="#222" stroke-width="2.0"/><line x1="1023.9" y1="612.9" x2="1029.9" y2="612.9" stroke="#222" stroke-width="1.9"/><line x1="1023.9" y1="608.3" x2="1029.9" y2="608.3" stroke="#222" stroke-width="1.9"/><line x1="1023.9" y1="604.3" x2="1029.9" y2="604.3" stroke="#222" stroke-width="1.9"/><line x1="1023.9" y1="600.8" x2="1029.9" y2="600.8" stroke="#222" stroke-width="1.9"/><line x1="1017.9" y1="597.7" x2="1029.9" y2="597.7" stroke="#222" stroke-width="2.9"/><line x1="1023.9" y1="577.1" x2="1029.9" y2="577.1" stroke="#222" stroke-width="1.9"/><line x1="1023.9" y1="565.1" x2="1029.9" y2="565.1" stroke="#222" stroke-width="1.9"/><line x1="1023.9" y1="556.5" x2="1029.9" y2="556.5" stroke="#222" stroke-width="1.9"/><line x1="1021.4" y1="549.9" x2="1029.9" y2="549.9" stroke="#222" stroke-width="2.0"/><line x1="1023.9" y1="544.5" x2="1029.9" y2="544.5" stroke="#222" stroke-width="1.9"/><line x1="1023.9" y1="539.9" x2="1029.9" y2="539.9" stroke="#222" stroke-width="1.9"/><line x1="1023.9" y1="535.9" x2="1029.9" y2="535.9" stroke="#222" stroke-width="1.9"/><line x1="1023.9" y1="532.4" x2="1029.9" y2="532.4" stroke="#222" stroke-width="1.9"/><line x1="1017.9" y1="529.3" x2="1029.9" y2="529.3" stroke="#222" stroke-width="2.9"/><line x1="1023.9" y1="508.7" x2="1029.9" y2="508.7" stroke="#222" stroke-width="1.9"/><line x1="1023.9" y1="496.7" x2="1029.9" y2="496.7" stroke="#222" stroke-width="1.9"/><line x1="1023.9" y1="488.1" x2="1029.9" y2="488.1" stroke="#222" stroke-width="1.9"/><line x1="1021.4" y1="481.5" x2="1029.9" y2="481.5" stroke="#222" stroke-width="2.0"/><line x1="1023.9" y1="476.1" x2="1029.9" y2="476.1" stroke="#222" stroke-width="1.9"/><line x1="1023.9" y1="471.5" x2="1029.9" y2="471.5" stroke="#222" stroke-width="1.9"/><line x1="1023.9" y1="467.5" x2="1029.9" y2="467.5" stroke="#222" stroke-width="1.9"/><line x1="1023.9" y1="464.0" x2="1029.9" y2="464.0" stroke="#222" stroke-width="1.9"/><line x1="1017.9" y1="460.9" x2="1029.9" y2="460.9" stroke="#222" stroke-width="2.9"/><line x1="1023.9" y1="440.3" x2="1029.9" y2="440.3" stroke="#222" stroke-width="1.9"/><line x1="1023.9" y1="428.3" x2="1029.9" y2="428.3" stroke="#222" stroke-width="1.9"/><line x1="1023.9" y1="419.7" x2="1029.9" y2="419.7" stroke="#222" stroke-width="1.9"/><line x1="1021.4" y1="413.1" x2="1029.9" y2="413.1" stroke="#222" stroke-width="2.0"/><line x1="1023.9" y1="407.7" x2="1029.9" y2="407.7" stroke="#222" stroke-width="1.9"/><line x1="1023.9" y1="403.1" x2="1029.9" y2="403.1" stroke="#222" stroke-width="1.9"/><line x1="1023.9" y1="399.1" x2="1029.9" y2="399.1" stroke="#222" stroke-width="1.9"/><line x1="1023.9" y1="395.6" x2="1029.9" y2="395.6" stroke="#222" stroke-width="1.9"/><line x1="1017.9" y1="392.5" x2="1029.9" y2="392.5" stroke="#222" stroke-width="2.9"/><line x1="1023.9" y1="371.9" x2="1029.9" y2="371.9" stroke="#222" stroke-width="1.9"/><line x1="1023.9" y1="359.9" x2="1029.9" y2="359.9" stroke="#222" stroke-width="1.9"/><line x1="1023.9" y1="351.3" x2="1029.9" y2="351.3" stroke="#222" stroke-width="1.9"/><line x1="1021.4" y1="344.7" x2="1029.9" y2="344.7" stroke="#222" stroke-width="2.0"/>
<text transform="matrix(0.01253 0.00000 0.00000 0.01428 1062.96 769.96)" font-family="Liberation Sans" font-weight="normal" font-size="1000" fill="#4a4a4a"  stroke="#4a4a4a" stroke-width="33.6">10</text><text transform="matrix(0.01495 0.00000 0.00000 0.01577 1076.85 760.70)" font-family="Liberation Sans" font-weight="normal" font-size="1000" fill="#4a4a4a"  stroke="#4a4a4a" stroke-width="29.3">2</text><text transform="matrix(0.01253 0.00000 0.00000 0.01428 1131.36 769.96)" font-family="Liberation Sans" font-weight="normal" font-size="1000" fill="#4a4a4a"  stroke="#4a4a4a" stroke-width="33.6">10</text><text transform="matrix(0.01432 0.00000 0.00000 0.01555 1145.46 760.54)" font-family="Liberation Sans" font-weight="normal" font-size="1000" fill="#4a4a4a"  stroke="#4a4a4a" stroke-width="30.2">3</text><text transform="matrix(0.01253 0.00000 0.00000 0.01428 1199.76 769.96)" font-family="Liberation Sans" font-weight="normal" font-size="1000" fill="#4a4a4a"  stroke="#4a4a4a" stroke-width="33.6">10</text><text transform="matrix(0.01347 0.00000 0.00000 0.01600 1214.10 760.70)" font-family="Liberation Sans" font-weight="normal" font-size="1000" fill="#4a4a4a"  stroke="#4a4a4a" stroke-width="30.7">4</text><text transform="matrix(0.01253 0.00000 0.00000 0.01428 1268.16 769.96)" font-family="Liberation Sans" font-weight="normal" font-size="1000" fill="#4a4a4a"  stroke="#4a4a4a" stroke-width="33.6">10</text><text transform="matrix(0.01432 0.00000 0.00000 0.01577 1282.23 760.54)" font-family="Liberation Sans" font-weight="normal" font-size="1000" fill="#4a4a4a"  stroke="#4a4a4a" stroke-width="29.9">5</text><text transform="matrix(0.01253 0.00000 0.00000 0.01428 1336.56 769.96)" font-family="Liberation Sans" font-weight="normal" font-size="1000" fill="#4a4a4a"  stroke="#4a4a4a" stroke-width="33.6">10</text><text transform="matrix(0.01470 0.00000 0.00000 0.01555 1350.46 760.54)" font-family="Liberation Sans" font-weight="normal" font-size="1000" fill="#4a4a4a"  stroke="#4a4a4a" stroke-width="29.8">6</text><text transform="matrix(0.01253 0.00000 0.00000 0.01428 1404.96 769.96)" font-family="Liberation Sans" font-weight="normal" font-size="1000" fill="#4a4a4a"  stroke="#4a4a4a" stroke-width="33.6">10</text><text transform="matrix(0.01503 0.00000 0.00000 0.01600 1418.81 760.70)" font-family="Liberation Sans" font-weight="normal" font-size="1000" fill="#4a4a4a"  stroke="#4a4a4a" stroke-width="29.0">7</text><text transform="matrix(0.01143 0.00000 0.00000 0.01456 990.04 743.35)" font-family="Liberation Sans" font-weight="normal" font-size="1000" fill="#4a4a4a"  stroke="#4a4a4a" stroke-width="34.9">10</text><text transform="matrix(0.01526 0.00000 0.00000 0.01600 1002.86 734.50)" font-family="Liberation Sans" font-weight="normal" font-size="1000" fill="#4a4a4a"  stroke="#4a4a4a" stroke-width="28.8">1</text><text transform="matrix(0.01143 0.00000 0.00000 0.01456 990.04 674.95)" font-family="Liberation Sans" font-weight="normal" font-size="1000" fill="#4a4a4a"  stroke="#4a4a4a" stroke-width="34.9">10</text><text transform="matrix(0.01451 0.00000 0.00000 0.01577 1003.27 666.10)" font-family="Liberation Sans" font-weight="normal" font-size="1000" fill="#4a4a4a"  stroke="#4a4a4a" stroke-width="29.8">2</text><text transform="matrix(0.01143 0.00000 0.00000 0.01456 990.04 606.55)" font-family="Liberation Sans" font-weight="normal" font-size="1000" fill="#4a4a4a"  stroke="#4a4a4a" stroke-width="34.9">10</text><text transform="matrix(0.01389 0.00000 0.00000 0.01555 1003.48 597.54)" font-family="Liberation Sans" font-weight="normal" font-size="1000" fill="#4a4a4a"  stroke="#4a4a4a" stroke-width="30.6">3</text><text transform="matrix(0.01143 0.00000 0.00000 0.01456 990.04 538.15)" font-family="Liberation Sans" font-weight="normal" font-size="1000" fill="#4a4a4a"  stroke="#4a4a4a" stroke-width="34.9">10</text><text transform="matrix(0.01307 0.00000 0.00000 0.01600 1003.71 529.30)" font-family="Liberation Sans" font-weight="normal" font-size="1000" fill="#4a4a4a"  stroke="#4a4a4a" stroke-width="31.1">4</text><text transform="matrix(0.01143 0.00000 0.00000 0.01456 990.04 469.75)" font-family="Liberation Sans" font-weight="normal" font-size="1000" fill="#4a4a4a"  stroke="#4a4a4a" stroke-width="34.9">10</text><text transform="matrix(0.01389 0.00000 0.00000 0.01577 1003.44 460.74)" font-family="Liberation Sans" font-weight="normal" font-size="1000" fill="#4a4a4a"  stroke="#4a4a4a" stroke-width="30.4">5</text><text transform="matrix(0.01143 0.00000 0.00000 0.01456 990.04 401.35)" font-family="Liberation Sans" font-weight="normal" font-size="1000" fill="#4a4a4a"  stroke="#4a4a4a" stroke-width="34.9">10</text><text transform="matrix(0.01427 0.00000 0.00000 0.01555 1003.29 392.34)" font-family="Liberation Sans" font-weight="normal" font-size="1000" fill="#4a4a4a"  stroke="#4a4a4a" stroke-width="30.2">6</text>
<text transform="matrix(0.02089 0.00000 0.00000 0.02160 1036.26 380.70)" font-family="Liberation Sans" font-weight="bold" font-size="1000" fill="#000" >Q1</text>
<text transform="matrix(0.02089 0.00000 0.00000 0.02160 1035.57 409.10)" font-family="Liberation Sans" font-weight="bold" font-size="1000" fill="#000" >21.5%</text>
<text transform="matrix(0.02089 0.00000 0.00000 0.02160 1349.10 380.10)" font-family="Liberation Sans" font-weight="bold" font-size="1000" fill="#000" >Q2</text>
<text transform="matrix(0.02089 0.00000 0.00000 0.02160 1305.81 408.90)" font-family="Liberation Sans" font-weight="bold" font-size="1000" fill="#000" >10.00%</text>
<text transform="matrix(0.02089 0.00000 0.00000 0.02160 1355.20 684.70)" font-family="Liberation Sans" font-weight="bold" font-size="1000" fill="#000" >Q3</text>
<text transform="matrix(0.02089 0.00000 0.00000 0.02160 1323.61 714.70)" font-family="Liberation Sans" font-weight="bold" font-size="1000" fill="#000" >3.97%</text>
<text transform="matrix(0.02089 0.00000 0.00000 0.02160 1036.06 684.70)" font-family="Liberation Sans" font-weight="bold" font-size="1000" fill="#000" >Q4</text>
<text transform="matrix(0.02089 0.00000 0.00000 0.02160 1035.52 714.70)" font-family="Liberation Sans" font-weight="bold" font-size="1000" fill="#000" >64.6%</text>
<text transform="matrix(0.02808 0.00000 0.00000 0.02550 1139.00 820.89)" font-family="Liberation Sans" font-weight="bold" font-size="1000" fill="#000" >PE: AE1/AE3</text>
<text transform="matrix(0.00000 -0.02796 0.02449 0.00000 936.36 629.40)" font-family="Liberation Sans" font-weight="bold" font-size="1000" fill="#000" >APC: CD140b</text>
<text transform="matrix(0.06492 0.00000 0.00000 0.06968 453.65 1106.00)" font-family="Liberation Sans" font-weight="normal" font-size="1000" fill="#000" stroke="#fff" stroke-width="31.6">2D</text>
<linearGradient id="P3g" x1="0" y1="0" x2="0" y2="1"><stop offset="0" stop-color="#f4f4f4"/><stop offset="1" stop-color="#e2e2e2"/></linearGradient>
<rect x="331.2" y="1134.5" width="379.8" height="66.59999999999991" fill="#fff"/>
<rect x="353.6" y="1134.5" width="357.4" height="21.90000000000009" fill="url(#P3g)"/>
<rect x="331.2" y="1134.5" width="379.8" height="66.59999999999991" rx="2" fill="none" stroke="#4a4a4a" stroke-width="1.9"/>
<line x1="353.6" y1="1134.5" x2="353.6" y2="1201.1" stroke="#4a4a4a" stroke-width="1.9"/>
<line x1="548.5" y1="1134.5" x2="548.5" y2="1201.1" stroke="#4a4a4a" stroke-width="1.9"/>
<line x1="646.7" y1="1134.5" x2="646.7" y2="1201.1" stroke="#4a4a4a" stroke-width="1.9"/>
<line x1="331.2" y1="1156.4" x2="711" y2="1156.4" stroke="#4a4a4a" stroke-width="1.9"/>
<line x1="331.2" y1="1179.3" x2="711" y2="1179.3" stroke="#4a4a4a" stroke-width="1.9"/>
<rect x="334.4" y="1160.2" width="13.7" height="13.3" fill="#636363"/>
<rect x="334.4" y="1181.9" width="13.7" height="15.3" fill="#ff2525"/>
<text transform="matrix(0.01417 0.00000 0.00000 0.01347 406.15 1149.61)" font-family="Liberation Sans" font-weight="normal" font-size="1000" fill="#1a1a1a"  stroke="#1a1a1a" stroke-width="21.7">Sample Name</text>
<text transform="matrix(0.01435 0.00000 0.00000 0.01347 554.13 1149.61)" font-family="Liberation Sans" font-weight="normal" font-size="1000" fill="#1a1a1a"  stroke="#1a1a1a" stroke-width="21.6">Subset Name</text>
<text transform="matrix(0.01493 0.00000 0.00000 0.01347 658.62 1149.61)" font-family="Liberation Sans" font-weight="normal" font-size="1000" fill="#1a1a1a"  stroke="#1a1a1a" stroke-width="21.2">Count</text>
<text transform="matrix(0.01407 0.00000 0.00000 0.01347 359.28 1171.81)" font-family="Liberation Sans" font-weight="normal" font-size="1000" fill="#1a1a1a"  stroke="#1a1a1a" stroke-width="21.8">A01 1213-2D IgG.fcs</text>
<text transform="matrix(0.01352 0.00000 0.00000 0.01347 554.48 1171.81)" font-family="Liberation Sans" font-weight="normal" font-size="1000" fill="#1a1a1a"  stroke="#1a1a1a" stroke-width="22.2">SSC-SC</text>
<text transform="matrix(0.01328 0.00000 0.00000 0.01347 667.67 1171.81)" font-family="Liberation Sans" font-weight="normal" font-size="1000" fill="#1a1a1a"  stroke="#1a1a1a" stroke-width="22.4">19318</text>
<text transform="matrix(0.01407 0.00000 0.00000 0.01347 359.28 1194.71)" font-family="Liberation Sans" font-weight="normal" font-size="1000" fill="#1a1a1a"  stroke="#1a1a1a" stroke-width="21.8">A02 1213-2D Ab.fcs</text>
<text transform="matrix(0.01352 0.00000 0.00000 0.01347 554.48 1194.71)" font-family="Liberation Sans" font-weight="normal" font-size="1000" fill="#1a1a1a"  stroke="#1a1a1a" stroke-width="22.2">SSC-SC</text>
<text transform="matrix(0.01328 0.00000 0.00000 0.01347 667.74 1194.71)" font-family="Liberation Sans" font-weight="normal" font-size="1000" fill="#1a1a1a"  stroke="#1a1a1a" stroke-width="22.4">19191</text>
<clipPath id="P3c"><rect x="329.2" y="1204.5" width="380.3" height="378.5"/></clipPath>
<g clip-path="url(#P3c)" fill="none" stroke-width="1.3" stroke-linejoin="round">
<path stroke="#ff3c3c" stroke-opacity="0.6" d="M477.0 1527.6 473.5 1527.8 469.5 1527.3 465.0 1525.8 460.5 1523.6 450.5 1516.6 439.6 1506.5 428.7 1494.0 419.3 1481.0 407.9 1461.0 405.2 1453.5 405.0 1447.0 406.7 1441.0 410.5 1435.0 416.5 1429.1 424.5 1423.7 433.5 1419.3 443.5 1415.7 455.5 1412.7 465.5 1411.4 475.0 1411.2 484.0 1412.2 491.5 1414.3 498.0 1417.6 503.0 1421.9 506.4 1427.0 508.3 1433.0 508.7 1440.0 507.8 1455.5 506.8 1465.0 503.8 1481.0 499.7 1496.0 494.6 1509.0 489.0 1518.8 483.5 1524.7 480.5 1526.5ZM474.5 1514.6 471.5 1514.9 468.0 1514.6 460.5 1511.9 452.5 1506.8 443.5 1498.7 434.6 1488.5 427.2 1478.0 423.2 1471.0 418.0 1460.5 416.1 1455.0 415.8 1449.5 417.2 1444.0 420.1 1439.0 424.5 1434.2 430.5 1429.8 438.0 1425.8 446.0 1422.7 455.5 1420.2 463.5 1419.1 471.5 1418.9 479.0 1419.8 485.5 1421.7 490.9 1424.5 495.0 1428.0 498.0 1432.5 499.7 1437.5 500.2 1442.0 500.2 1451.5 499.4 1463.5 497.3 1476.5 493.9 1489.0 489.7 1499.5 485.0 1507.3 480.0 1512.2 477.5 1513.7ZM473.5 1508.0 467.5 1508.2 460.5 1505.9 453.0 1501.2 445.5 1494.6 437.9 1486.0 431.3 1476.5 426.1 1467.0 421.6 1456.0 421.1 1451.0 422.1 1446.0 424.4 1441.5 428.3 1437.0 433.3 1433.0 439.5 1429.4 447.0 1426.4 454.5 1424.2 462.0 1423.0 469.0 1422.7 476.0 1423.4 482.0 1425.1 487.0 1427.6 491.0 1430.9 493.8 1435.0 495.5 1439.5 496.0 1443.5 496.2 1451.0 495.7 1462.0 493.9 1474.0 491.2 1484.5 487.5 1493.9 483.3 1501.0 478.5 1505.8ZM471.5 1503.5 465.5 1503.3 459.5 1501.1 453.0 1496.9 446.0 1490.6 439.1 1482.5 433.4 1474.0 428.8 1465.0 425.2 1455.5 425.0 1450.5 426.1 1446.0 428.8 1441.5 432.5 1437.5 437.5 1433.8 443.5 1430.7 450.5 1428.0 458.0 1426.2 464.5 1425.5 471.0 1425.6 476.5 1426.5 481.5 1428.3 485.5 1430.6 489.1 1434.0 491.5 1438.0 492.8 1442.5 493.3 1454.0 492.7 1464.0 490.9 1474.5 488.3 1484.0 484.8 1492.0 480.8 1498.0 476.5 1501.7ZM472.0 1499.6 466.5 1499.8 460.5 1498.1 454.5 1494.5 448.0 1489.0 441.8 1482.0 436.3 1474.0 431.8 1465.5 428.3 1456.5 427.8 1452.0 428.5 1448.0 430.4 1444.0 433.6 1440.0 437.7 1436.5 443.0 1433.3 449.0 1430.8 455.5 1428.9 462.0 1427.8 468.0 1427.6 473.5 1428.3 478.5 1429.7 482.9 1432.0 486.4 1435.0 488.8 1438.5 490.2 1442.5 491.0 1452.0 490.7 1461.5 489.4 1471.0 487.1 1480.0 484.1 1487.5 480.5 1493.5 476.5 1497.5ZM470.5 1496.5 465.5 1496.5 460.0 1494.8 454.0 1491.1 448.2 1486.0 442.6 1479.5 437.6 1472.0 433.8 1464.5 430.7 1456.0 430.4 1452.0 431.2 1448.0 433.3 1444.0 436.5 1440.3 440.7 1437.0 446.0 1434.0 452.0 1431.7 458.0 1430.2 463.5 1429.6 469.0 1429.6 474.0 1430.5 478.5 1432.0 482.0 1434.1 485.0 1437.0 487.2 1440.5 488.4 1444.5 489.0 1454.0 488.6 1462.5 487.3 1471.5 485.1 1479.5 482.0 1486.5 478.7 1491.5 475.0 1494.8ZM470.5 1493.5 465.5 1493.7 460.5 1492.3 455.0 1489.1 449.5 1484.4 444.3 1478.5 439.6 1471.5 436.0 1464.5 433.0 1456.5 432.6 1452.5 433.3 1449.0 434.8 1445.5 437.6 1442.0 441.0 1439.0 445.5 1436.2 451.0 1433.8 456.5 1432.2 462.0 1431.3 467.0 1431.2 472.0 1431.8 476.5 1433.2 480.0 1435.1 483.0 1437.8 485.1 1441.0 486.4 1444.5 487.2 1453.0 487.0 1461.0 485.9 1469.5 483.9 1477.0 481.2 1483.5 478.0 1488.5 474.5 1491.8ZM469.5 1491.0 465.0 1491.1 460.0 1489.6 455.0 1486.6 450.0 1482.3 445.0 1476.5 440.8 1470.0 437.3 1463.0 434.9 1456.0 434.7 1452.0 435.6 1448.5 437.5 1445.0 440.1 1442.0 443.5 1439.3 448.0 1436.7 453.0 1434.7 458.5 1433.3 463.5 1432.7 468.0 1432.8 472.5 1433.6 476.2 1435.0 479.5 1437.0 482.0 1439.5 483.8 1442.5 484.9 1446.0 485.6 1454.0 485.4 1461.5 484.3 1469.0 482.4 1476.0 479.8 1482.0 476.8 1486.5 473.5 1489.4ZM469.0 1488.6 464.5 1488.6 460.0 1487.2 455.0 1484.2 450.5 1480.3 446.0 1475.0 442.1 1469.0 438.9 1462.5 436.7 1456.0 436.6 1452.5 437.4 1449.0 438.9 1446.0 441.4 1443.0 445.0 1440.1 449.0 1437.8 453.5 1436.0 458.5 1434.7 463.0 1434.1 467.5 1434.2 471.5 1434.9 475.0 1436.2 478.0 1438.0 480.6 1440.5 482.4 1443.5 483.4 1446.5 484.1 1454.0 483.9 1461.0 482.9 1468.0 481.2 1474.5 478.9 1480.0 476.0 1484.2 472.5 1487.3ZM469.5 1486.0 465.5 1486.4 461.0 1485.4 456.5 1483.0 452.1 1479.5 448.0 1474.9 444.2 1469.5 441.1 1463.5 438.7 1457.0 438.3 1454.0 438.6 1451.0 439.7 1448.0 441.7 1445.0 444.5 1442.3 447.9 1440.0 456.0 1436.7 460.5 1435.7 465.0 1435.5 469.0 1435.9 473.0 1437.0 476.5 1438.9 478.9 1441.0 480.6 1443.5 481.8 1446.5 482.6 1453.0 482.6 1459.5 481.8 1466.0 480.4 1472.0 478.2 1477.5 475.7 1481.5 472.6 1484.5ZM468.0 1484.0 464.0 1484.0 460.0 1482.8 456.0 1480.5 452.0 1477.0 448.1 1472.5 444.9 1467.5 442.2 1462.0 440.2 1456.0 440.0 1453.0 440.7 1450.0 442.2 1447.0 444.3 1444.5 447.3 1442.0 450.8 1440.0 459.0 1437.3 463.0 1436.8 467.0 1436.9 473.5 1438.8 476.0 1440.4 478.1 1442.5 479.6 1445.0 480.6 1448.0 481.2 1454.5 481.1 1460.5 480.2 1466.5 478.8 1472.0 476.5 1477.0 474.0 1480.5 471.0 1482.9ZM465.5 1482.0 462.0 1481.5 458.0 1479.7 454.5 1477.1 451.0 1473.6 447.9 1469.5 445.0 1464.5 442.9 1459.5 441.7 1455.0 441.8 1452.0 442.9 1449.0 444.5 1446.5 446.9 1444.0 450.0 1441.9 453.9 1440.0 462.0 1438.1 469.0 1438.6 472.5 1439.9 475.0 1441.5 477.0 1443.5 478.5 1446.0 479.7 1452.5 479.8 1458.5 479.3 1464.0 478.0 1469.5 476.3 1474.0 474.0 1477.6 471.5 1480.1 468.5 1481.6ZM467.5 1479.6 464.0 1479.7 460.5 1478.8 457.0 1476.9 453.6 1474.0 450.5 1470.5 447.5 1466.0 445.3 1461.5 443.6 1456.5 443.3 1454.0 443.6 1451.5 444.6 1449.0 446.5 1446.4 449.0 1444.1 452.0 1442.3 459.0 1439.8 465.5 1439.4 471.5 1441.0 473.9 1442.5 475.9 1444.5 477.9 1449.0 478.5 1454.5 478.4 1459.5 477.8 1464.5 476.5 1469.3 474.6 1473.5 472.5 1476.5 470.0 1478.6ZM466.0 1477.6 463.0 1477.4 460.0 1476.4 456.5 1474.3 453.5 1471.6 450.6 1468.0 448.2 1464.0 445.0 1455.5 445.5 1451.0 446.8 1448.5 448.5 1446.4 454.0 1442.7 460.5 1440.8 466.5 1440.8 471.4 1442.5 474.8 1445.5 476.6 1450.0 477.1 1455.0 477.0 1460.0 476.3 1464.5 475.0 1468.9 473.2 1472.5 471.0 1475.2 468.5 1476.9ZM467.0 1475.1 464.5 1475.4 461.5 1474.9 458.5 1473.5 455.5 1471.2 452.6 1468.0 450.2 1464.5 446.9 1456.5 446.9 1452.0 449.0 1448.0 453.0 1444.7 458.5 1442.5 464.0 1441.8 469.0 1442.9 472.8 1445.5 475.0 1449.5 475.7 1458.0 474.4 1466.0 473.0 1469.4 471.3 1472.0 469.2 1474.0ZM465.0 1473.1 462.5 1472.9 460.0 1472.0 455.0 1468.2 450.9 1462.5 448.4 1455.5 448.8 1451.5 451.5 1447.6 455.5 1444.9 461.0 1443.3 466.0 1443.4 470.0 1445.1 472.8 1448.0 474.0 1452.0 474.1 1459.5 472.4 1466.5 471.0 1469.2 469.0 1471.4 467.0 1472.6ZM465.0 1470.5 463.0 1470.6 460.5 1469.8 456.0 1466.6 452.4 1461.5 450.2 1455.5 450.5 1452.0 452.5 1448.8 456.0 1446.3 460.5 1444.8 465.0 1444.7 468.5 1446.0 471.0 1448.3 472.3 1451.5 472.6 1458.5 471.3 1464.5 468.5 1468.8 467.0 1469.9ZM465.5 1467.7 462.0 1467.8 458.0 1465.6 454.6 1461.5 452.4 1456.5 452.1 1453.5 453.4 1450.5 456.0 1448.1 459.5 1446.5 463.0 1446.1 466.5 1446.8 469.0 1448.6 470.5 1451.2 471.0 1456.5 470.3 1461.5 468.4 1465.5ZM464.5 1464.6 461.5 1464.5 458.5 1462.7 456.0 1459.5 454.5 1455.5 454.5 1453.0 455.6 1451.0 457.5 1449.4 460.5 1448.1 463.0 1447.9 465.5 1448.5 467.5 1450.0 468.6 1452.0 469.0 1456.0 468.4 1460.0 466.9 1463.0ZM464.0 1460.2 462.5 1460.5 460.5 1459.7 459.0 1458.2 457.8 1456.0 457.4 1454.5 457.7 1453.0 458.9 1451.5 460.5 1450.7 463.5 1450.5 465.0 1451.3 465.8 1452.5 466.0 1457.1 465.2 1459.0Z"/>
<path stroke="#6e7373" stroke-opacity="0.55" d="M477.5 1527.1 474.0 1527.5 470.5 1527.1 466.5 1526.0 462.5 1524.3 453.0 1518.1 443.0 1509.2 432.7 1498.0 423.2 1485.5 416.2 1474.5 407.6 1458.0 406.4 1452.5 406.7 1447.0 408.7 1441.5 412.0 1436.5 417.0 1431.6 423.0 1427.3 430.5 1423.2 440.0 1419.3 451.0 1416.1 462.5 1414.1 473.5 1413.6 483.0 1414.6 491.0 1416.7 498.0 1420.5 502.7 1425.0 506.0 1431.0 507.0 1435.0 507.4 1439.5 506.2 1460.0 503.7 1476.5 499.8 1492.5 494.9 1506.5 489.5 1517.0 486.5 1521.0 483.5 1524.0 480.5 1526.0ZM474.0 1514.5 471.0 1514.7 467.5 1514.3 460.5 1511.7 452.5 1506.5 443.7 1498.5 435.5 1489.0 428.2 1478.5 424.2 1471.5 419.3 1461.5 417.4 1456.0 417.1 1450.5 418.4 1445.5 421.3 1440.5 426.0 1435.6 432.0 1431.3 439.0 1427.6 447.0 1424.6 456.5 1422.2 464.5 1421.2 472.0 1421.1 479.0 1422.0 485.0 1423.8 490.0 1426.4 494.2 1430.0 497.1 1434.5 498.7 1439.5 499.1 1443.5 499.1 1453.0 498.3 1465.0 496.2 1477.5 492.9 1490.0 488.9 1500.0 484.3 1507.5 479.5 1512.2 477.0 1513.6ZM473.0 1508.1 467.0 1508.1 460.5 1505.8 453.0 1501.1 445.7 1494.5 438.4 1486.0 431.8 1476.5 426.8 1467.0 423.6 1460.0 422.6 1456.5 422.3 1451.5 423.3 1447.0 425.8 1442.5 429.9 1438.0 435.0 1434.1 441.5 1430.7 449.0 1427.8 456.5 1425.9 463.5 1424.9 470.0 1424.8 476.5 1425.6 482.0 1427.2 486.5 1429.6 490.4 1433.0 493.1 1437.0 494.6 1441.5 495.2 1453.0 494.7 1463.5 493.0 1475.0 490.2 1485.5 486.7 1494.5 482.5 1501.5 478.0 1505.9ZM471.5 1503.6 465.5 1503.3 459.5 1501.1 453.0 1496.8 446.5 1490.9 439.8 1483.0 434.1 1474.5 429.8 1466.0 426.1 1456.5 425.9 1452.0 427.0 1447.5 429.3 1443.5 433.0 1439.4 438.0 1435.6 444.0 1432.5 451.0 1429.9 458.0 1428.2 464.5 1427.4 470.5 1427.5 476.0 1428.4 481.0 1430.1 485.0 1432.5 488.2 1435.5 490.4 1439.0 491.8 1443.5 492.4 1454.5 491.9 1464.5 490.3 1474.5 487.7 1484.0 484.4 1492.0 480.5 1498.0 476.0 1502.0ZM470.0 1500.0 464.5 1499.6 459.0 1497.4 453.0 1493.4 446.7 1487.5 440.9 1480.5 435.8 1472.5 431.9 1464.5 429.6 1459.0 428.9 1456.0 428.9 1451.5 430.1 1447.5 432.6 1443.5 436.5 1439.6 441.5 1436.2 447.0 1433.5 453.5 1431.3 460.0 1429.9 465.5 1429.5 471.0 1429.8 476.0 1430.8 480.5 1432.6 484.0 1435.0 486.7 1438.0 488.6 1441.5 489.7 1445.5 490.1 1456.0 489.6 1465.0 488.1 1474.0 485.6 1483.0 482.5 1490.0 478.6 1495.5 474.5 1498.7ZM471.0 1496.6 466.0 1496.8 461.0 1495.4 455.5 1492.3 449.5 1487.2 444.0 1481.0 438.8 1473.5 434.9 1466.0 431.6 1457.5 431.2 1453.5 432.0 1449.5 433.7 1446.0 436.5 1442.5 440.5 1439.1 445.0 1436.4 450.5 1434.1 456.5 1432.4 462.0 1431.5 467.5 1431.3 472.5 1432.0 477.0 1433.3 481.0 1435.5 483.9 1438.0 486.0 1441.1 487.4 1445.0 488.2 1454.0 488.0 1462.5 486.8 1471.0 484.8 1479.0 482.2 1485.5 478.9 1491.0 475.0 1494.8ZM469.0 1494.0 464.5 1493.8 459.5 1492.0 454.5 1488.9 449.0 1483.9 444.0 1477.9 439.5 1471.0 436.1 1464.0 433.6 1456.5 433.5 1452.5 434.5 1449.0 436.5 1445.5 439.5 1442.2 443.5 1439.2 448.5 1436.6 454.0 1434.6 459.5 1433.4 464.5 1432.9 469.5 1433.2 474.0 1434.1 477.5 1435.6 481.0 1437.9 483.3 1440.5 485.0 1443.5 485.9 1447.0 486.5 1455.5 486.2 1463.5 485.0 1471.5 482.9 1479.0 480.2 1485.0 477.0 1489.6 473.0 1492.8ZM468.0 1491.5 463.5 1491.1 459.0 1489.3 454.0 1486.0 449.0 1481.3 444.5 1475.7 440.7 1469.5 437.4 1462.5 435.5 1456.0 435.5 1452.5 436.6 1449.0 438.8 1445.5 441.7 1442.5 445.5 1439.8 450.0 1437.6 455.0 1435.8 460.5 1434.7 465.0 1434.4 469.5 1434.7 473.5 1435.7 477.0 1437.2 480.0 1439.4 482.0 1441.8 483.5 1444.6 484.4 1448.0 484.9 1456.0 484.6 1463.5 483.4 1471.0 481.4 1478.0 478.8 1483.5 475.5 1487.9 472.0 1490.5ZM468.5 1489.0 464.5 1489.0 460.0 1487.5 455.5 1484.8 450.6 1480.5 446.4 1475.5 442.5 1469.5 439.6 1463.5 437.4 1457.0 437.3 1453.5 437.9 1450.5 439.4 1447.5 442.0 1444.4 445.5 1441.6 449.5 1439.3 454.0 1437.5 459.0 1436.3 467.5 1435.9 471.5 1436.6 475.0 1438.0 478.0 1439.9 480.1 1442.0 481.9 1445.0 482.8 1448.0 483.4 1455.5 483.2 1462.5 482.2 1469.5 480.5 1475.7 478.2 1481.0 475.4 1485.0 472.0 1487.8ZM469.0 1486.5 465.0 1486.8 461.0 1485.8 456.5 1483.3 452.0 1479.6 448.0 1475.0 444.3 1469.5 441.6 1464.0 439.2 1457.5 438.9 1454.5 439.4 1451.5 440.7 1448.5 443.0 1445.5 445.9 1443.0 449.2 1441.0 457.5 1437.9 465.5 1437.1 469.5 1437.6 473.0 1438.7 476.0 1440.3 478.5 1442.5 480.2 1445.0 481.3 1448.0 482.0 1454.5 481.9 1461.0 481.2 1467.0 479.8 1473.0 477.6 1478.5 475.0 1482.5 472.0 1485.2ZM467.5 1484.5 464.0 1484.5 460.0 1483.2 456.0 1480.8 452.0 1477.3 448.4 1473.0 445.2 1468.0 442.6 1462.5 440.8 1457.0 440.6 1454.0 441.3 1451.0 442.9 1448.0 445.0 1445.6 448.0 1443.2 451.5 1441.3 459.5 1438.7 467.0 1438.5 470.5 1439.2 473.5 1440.5 476.0 1442.2 478.0 1444.3 479.4 1447.0 480.1 1449.5 480.7 1456.0 480.5 1462.0 479.6 1468.0 478.0 1473.5 476.0 1477.9 473.5 1481.3 470.5 1483.6ZM468.5 1482.1 465.0 1482.5 461.5 1481.8 457.5 1479.8 454.0 1477.0 450.5 1473.3 447.2 1468.5 444.6 1463.5 442.6 1458.0 442.2 1455.0 442.5 1452.5 443.5 1450.0 445.2 1447.5 450.0 1443.5 457.0 1440.5 464.5 1439.6 471.0 1440.8 473.5 1442.1 475.8 1444.0 477.5 1446.3 478.6 1449.0 479.3 1454.5 479.3 1460.0 478.7 1465.5 477.5 1470.5 476.0 1474.5 473.9 1478.0 471.5 1480.5ZM467.5 1480.1 464.5 1480.3 461.0 1479.5 457.5 1477.7 454.0 1474.8 451.0 1471.4 448.0 1467.0 445.8 1462.5 444.1 1457.5 443.8 1455.0 444.2 1452.5 445.2 1450.0 447.0 1447.6 452.0 1443.8 458.5 1441.4 465.0 1440.8 471.0 1442.3 473.5 1443.8 475.2 1445.5 477.4 1450.0 478.0 1455.5 477.9 1460.5 477.3 1465.5 476.1 1470.0 474.5 1473.8 472.5 1476.8 470.0 1479.0ZM466.5 1478.0 463.5 1478.1 460.5 1477.2 457.5 1475.5 454.5 1473.0 451.5 1469.6 449.0 1465.7 447.0 1461.5 445.6 1457.0 445.8 1452.5 447.0 1450.0 448.6 1448.0 453.5 1444.5 460.0 1442.3 466.0 1442.2 471.0 1443.8 474.5 1446.9 476.2 1451.0 476.6 1460.5 474.9 1469.0 473.3 1472.5 471.5 1475.1 469.0 1477.2ZM464.5 1476.0 462.0 1475.6 459.0 1474.3 453.9 1470.0 449.5 1463.4 447.0 1456.0 447.2 1453.5 447.9 1451.5 451.0 1447.6 456.0 1444.7 462.0 1443.3 467.5 1443.8 471.7 1446.0 474.3 1449.5 475.3 1455.0 474.8 1463.5 472.5 1470.5 471.0 1472.8 469.0 1474.7 467.0 1475.7ZM466.0 1473.6 463.5 1473.7 461.0 1473.1 456.0 1469.8 451.6 1464.0 448.8 1457.0 449.0 1453.0 451.0 1449.6 454.5 1446.8 459.5 1444.9 464.0 1444.5 468.5 1445.6 471.6 1448.0 473.4 1451.5 473.9 1459.0 472.6 1466.0 470.0 1471.0 468.0 1472.7ZM466.0 1471.0 462.0 1471.0 457.5 1468.6 453.6 1464.0 450.9 1458.0 450.5 1454.5 451.9 1451.0 455.0 1448.2 459.0 1446.4 463.0 1445.9 467.0 1446.6 470.0 1448.6 471.8 1451.5 472.4 1458.0 471.5 1464.0 469.3 1468.5 467.9 1470.0ZM464.5 1468.6 461.0 1468.1 457.2 1465.5 454.3 1461.5 452.4 1456.5 452.6 1453.5 454.1 1451.0 457.0 1448.8 461.0 1447.5 464.3 1447.5 467.2 1448.5 469.4 1450.5 470.4 1453.0 470.7 1458.5 469.7 1463.5 467.5 1467.0ZM464.0 1465.5 461.0 1465.1 458.5 1463.4 456.0 1460.0 454.6 1456.0 454.7 1454.0 456.0 1451.9 458.0 1450.3 461.0 1449.2 463.5 1449.2 466.0 1450.0 467.7 1451.5 468.5 1453.5 468.8 1457.5 468.0 1461.5 466.5 1464.1ZM464.0 1461.1 462.5 1461.4 461.0 1460.9 459.5 1459.7 458.1 1457.5 457.6 1454.5 458.5 1453.0 460.0 1452.0 462.0 1451.4 463.5 1451.6 465.0 1452.5 465.7 1453.5 465.9 1458.0 465.1 1460.0Z"/>
<path stroke="#ff3c3c" stroke-opacity="0.6" d="M484.0 1602.0 443.0 1601.9 436.0 1601.4 431.0 1600.3 425.0 1597.8 422.5 1596.0 420.1 1593.5 417.7 1588.5 417.5 1586.0 417.9 1583.0 418.8 1580.5 420.5 1578.0 425.5 1573.9 432.0 1571.4 440.0 1570.2 479.0 1570.0 492.5 1570.3 498.0 1571.2 502.0 1572.3 506.0 1574.2 509.6 1577.0 512.6 1581.5 513.5 1586.0 512.4 1591.0 509.5 1595.1 505.5 1598.1 500.0 1600.3 493.0 1601.6ZM487.0 1598.0 447.0 1598.1 435.5 1597.1 430.0 1595.3 426.0 1592.5 423.5 1588.5 423.2 1584.5 425.1 1580.5 429.0 1577.2 434.5 1575.1 441.5 1574.1 490.5 1574.2 498.5 1575.7 502.0 1577.2 504.5 1579.0 506.9 1582.0 507.9 1585.5 507.3 1589.0 505.5 1592.0 502.5 1594.5 498.5 1596.3 493.5 1597.5ZM490.5 1596.0 450.0 1596.4 437.5 1595.6 432.5 1594.2 428.5 1591.7 426.2 1588.5 425.8 1585.0 427.4 1581.5 430.5 1578.8 435.0 1576.9 441.0 1575.9 486.5 1575.7 494.0 1576.5 499.5 1578.2 502.5 1580.3 504.6 1583.0 505.3 1586.0 504.6 1589.0 502.5 1591.7 499.5 1593.8 495.5 1595.2ZM479.0 1595.0 447.5 1595.0 438.0 1594.2 433.5 1592.9 430.5 1591.0 428.3 1588.0 428.0 1585.0 429.9 1581.5 433.8 1579.0 439.0 1577.6 447.0 1577.1 481.0 1577.0 490.5 1577.4 495.0 1578.3 498.3 1579.5 501.0 1581.4 502.5 1583.5 503.1 1586.0 502.5 1588.5 500.5 1591.0 498.0 1592.6 491.0 1594.5ZM475.5 1594.0 447.5 1593.9 438.5 1593.2 434.5 1592.0 431.5 1590.0 429.9 1587.5 429.7 1585.0 430.6 1583.0 432.0 1581.5 436.0 1579.5 442.0 1578.3 451.0 1578.0 482.0 1578.0 490.5 1578.5 494.5 1579.3 497.5 1580.5 500.0 1582.5 501.1 1584.5 501.3 1587.0 500.4 1589.0 498.3 1591.0 495.5 1592.4 488.5 1593.7ZM481.5 1593.0 449.5 1593.0 440.5 1592.5 436.5 1591.5 433.6 1590.0 431.8 1588.0 431.3 1585.5 432.5 1583.0 436.0 1580.7 440.5 1579.5 447.5 1579.0 488.5 1579.3 495.5 1580.9 498.0 1582.5 499.2 1584.0 499.7 1586.0 499.2 1588.0 498.0 1589.5 496.0 1590.9 490.5 1592.5ZM487.5 1592.0 453.5 1592.3 442.0 1591.9 438.0 1591.1 435.0 1589.7 433.0 1587.5 432.7 1585.5 434.1 1583.0 437.0 1581.3 441.0 1580.3 447.0 1579.8 487.0 1580.0 493.5 1581.1 497.4 1583.5 498.2 1585.0 498.3 1586.5 496.9 1589.0 493.2 1591.0ZM475.5 1591.5 450.0 1591.5 442.0 1591.0 438.5 1590.2 436.0 1589.0 434.6 1587.5 434.2 1585.5 435.5 1583.4 439.0 1581.6 444.0 1580.8 451.5 1580.5 487.5 1580.8 493.5 1582.2 495.6 1583.5 496.7 1585.0 496.8 1586.5 496.1 1588.0 494.5 1589.3 492.0 1590.4 486.0 1591.3ZM487.0 1590.5 444.5 1590.6 440.6 1590.0 437.8 1589.0 436.0 1587.5 435.5 1586.0 436.4 1584.0 438.9 1582.5 443.0 1581.6 448.5 1581.2 486.0 1581.4 492.0 1582.5 495.0 1584.5 495.5 1586.5 494.0 1588.5 491.0 1589.8ZM480.5 1590.0 445.0 1589.8 439.4 1588.5 437.9 1587.5 437.3 1586.0 438.5 1584.0 441.0 1582.9 445.0 1582.2 452.0 1582.0 486.0 1582.2 491.5 1583.4 493.1 1584.5 493.7 1585.5 493.1 1587.5 490.5 1588.9 486.5 1589.7ZM468.5 1589.5 444.5 1589.1 440.2 1588.0 438.9 1587.0 438.6 1586.0 438.9 1585.0 440.2 1584.0 444.0 1583.0 465.5 1582.5 487.0 1583.0 490.8 1584.0 492.1 1585.0 492.4 1586.0 492.1 1587.0 490.8 1588.0 487.0 1589.0ZM483.5 1588.5 447.5 1588.5 442.5 1587.7 441.2 1587.0 440.7 1586.0 441.2 1585.0 443.5 1584.0 452.5 1583.3 483.5 1583.5 488.0 1584.2 490.2 1585.5 490.2 1586.5 488.9 1587.5ZM474.0 1588.0 448.5 1587.8 444.5 1587.2 442.9 1586.0 443.9 1585.0 447.5 1584.3 465.5 1584.0 483.5 1584.3 487.1 1585.0 488.1 1586.0 487.1 1587.0 485.0 1587.6ZM481.5 1587.0 452.0 1587.1 448.0 1586.8 446.3 1586.0 447.0 1585.4 450.0 1585.0 465.5 1584.8 481.0 1585.0 484.0 1585.4 484.7 1586.0 484.2 1586.5Z"/>
<path stroke="#6e7373" stroke-opacity="0.55" d="M474.5 1602.0 443.0 1601.8 436.5 1601.1 431.0 1599.7 425.5 1596.9 421.3 1592.5 419.6 1588.0 420.1 1583.0 421.3 1580.5 423.3 1578.0 426.0 1575.8 429.0 1574.1 436.5 1571.9 446.0 1571.1 482.5 1571.0 493.5 1571.8 498.5 1572.8 503.5 1574.9 507.2 1577.5 509.7 1580.5 511.4 1585.0 510.9 1590.0 508.2 1594.5 504.0 1597.8 499.5 1599.8 493.0 1601.3 486.0 1601.9ZM469.0 1597.5 445.0 1597.3 435.5 1595.9 431.0 1593.8 428.0 1591.1 426.5 1588.0 426.6 1584.5 427.6 1582.5 429.3 1580.5 434.5 1577.5 441.5 1576.0 452.0 1575.5 482.0 1575.6 491.5 1576.2 496.0 1577.3 499.7 1579.0 502.5 1581.3 504.2 1584.0 504.6 1587.5 503.4 1590.5 501.0 1593.1 497.0 1595.3 492.5 1596.6 487.5 1597.2ZM472.5 1595.5 447.5 1595.4 438.5 1594.4 434.0 1592.7 431.2 1590.5 429.8 1588.0 429.8 1585.0 430.8 1583.0 432.3 1581.5 437.0 1579.0 443.0 1577.9 452.5 1577.5 481.0 1577.5 490.0 1578.1 494.0 1579.0 497.3 1580.5 499.8 1582.5 501.0 1584.5 501.4 1587.0 500.5 1589.5 498.5 1591.7 495.0 1593.6 487.0 1595.2ZM477.0 1594.0 450.0 1594.0 441.0 1593.2 437.0 1592.1 434.0 1590.2 432.5 1588.0 432.3 1585.5 434.4 1582.5 438.5 1580.4 444.0 1579.4 453.0 1579.0 480.0 1579.0 488.5 1579.5 492.0 1580.2 495.2 1581.5 497.2 1583.0 498.5 1585.0 498.8 1587.0 498.0 1589.0 496.5 1590.6 494.0 1592.1 487.5 1593.6ZM487.5 1592.5 473.5 1593.0 444.0 1592.6 439.5 1591.7 436.5 1590.3 434.7 1588.5 434.1 1586.0 435.5 1583.5 438.0 1581.9 442.0 1580.7 447.5 1580.2 484.5 1580.2 490.5 1581.0 494.9 1583.0 496.3 1584.5 496.9 1586.0 496.8 1587.5 495.9 1589.0 492.5 1591.3ZM486.0 1591.5 465.5 1591.9 445.0 1591.5 441.0 1590.8 438.1 1589.5 436.6 1588.0 436.3 1586.0 437.5 1584.0 440.5 1582.4 444.5 1581.5 450.5 1581.1 484.5 1581.3 490.5 1582.4 494.0 1584.5 494.7 1587.0 493.5 1589.0 490.5 1590.6ZM486.0 1590.5 475.5 1591.0 447.0 1590.7 443.0 1590.1 440.5 1589.3 438.8 1588.0 438.2 1586.5 439.3 1584.5 441.5 1583.3 445.0 1582.5 450.5 1582.1 483.5 1582.2 489.0 1583.1 492.2 1585.0 492.7 1587.0 491.7 1588.5 489.5 1589.7ZM469.5 1590.0 446.5 1589.6 442.3 1588.5 441.0 1587.5 440.6 1586.5 441.0 1585.5 442.3 1584.5 446.0 1583.5 465.5 1583.0 485.0 1583.5 488.7 1584.5 490.0 1585.5 490.4 1586.5 490.0 1587.5 488.7 1588.5 485.2 1589.5ZM473.5 1589.0 449.5 1588.8 445.1 1588.0 443.4 1586.5 445.0 1585.0 448.0 1584.4 465.5 1584.0 483.0 1584.4 486.0 1585.0 487.6 1586.5 486.9 1587.5 484.0 1588.5ZM471.0 1588.0 452.0 1587.8 448.9 1587.5 447.1 1586.5 448.5 1585.6 451.5 1585.2 465.5 1585.0 479.5 1585.2 482.5 1585.6 483.9 1586.5 483.5 1587.0 481.0 1587.7Z"/>
</g>
<rect x="329.2" y="1204.5" width="380.3" height="378.5" fill="none" stroke="#3a3a3a" stroke-width="1.8"/>
<line x1="329.2" y1="1420.0" x2="709.5" y2="1420.0" stroke="#000" stroke-width="2.8"/>
<line x1="513.9" y1="1204.5" x2="513.9" y2="1583.0" stroke="#000" stroke-width="2.8"/>
<line x1="333.6" y1="1583.0" x2="333.6" y2="1588.6" stroke="#222" stroke-width="1.9"/><line x1="340.0" y1="1583.0" x2="340.0" y2="1590.3" stroke="#222" stroke-width="2.0"/><line x1="345.3" y1="1583.0" x2="345.3" y2="1588.6" stroke="#222" stroke-width="1.9"/><line x1="349.7" y1="1583.0" x2="349.7" y2="1588.6" stroke="#222" stroke-width="1.9"/><line x1="353.6" y1="1583.0" x2="353.6" y2="1588.6" stroke="#222" stroke-width="1.9"/><line x1="357.0" y1="1583.0" x2="357.0" y2="1588.6" stroke="#222" stroke-width="1.9"/><line x1="360.0" y1="1583.0" x2="360.0" y2="1593.5" stroke="#222" stroke-width="2.9"/><line x1="380.0" y1="1583.0" x2="380.0" y2="1588.6" stroke="#222" stroke-width="1.9"/><line x1="391.6" y1="1583.0" x2="391.6" y2="1588.6" stroke="#222" stroke-width="1.9"/><line x1="399.9" y1="1583.0" x2="399.9" y2="1588.6" stroke="#222" stroke-width="1.9"/><line x1="406.3" y1="1583.0" x2="406.3" y2="1590.3" stroke="#222" stroke-width="2.0"/><line x1="411.6" y1="1583.0" x2="411.6" y2="1588.6" stroke="#222" stroke-width="1.9"/><line x1="416.0" y1="1583.0" x2="416.0" y2="1588.6" stroke="#222" stroke-width="1.9"/><line x1="419.9" y1="1583.0" x2="419.9" y2="1588.6" stroke="#222" stroke-width="1.9"/><line x1="423.3" y1="1583.0" x2="423.3" y2="1588.6" stroke="#222" stroke-width="1.9"/><line x1="426.3" y1="1583.0" x2="426.3" y2="1593.5" stroke="#222" stroke-width="2.9"/><line x1="446.3" y1="1583.0" x2="446.3" y2="1588.6" stroke="#222" stroke-width="1.9"/><line x1="457.9" y1="1583.0" x2="457.9" y2="1588.6" stroke="#222" stroke-width="1.9"/><line x1="466.2" y1="1583.0" x2="466.2" y2="1588.6" stroke="#222" stroke-width="1.9"/><line x1="472.6" y1="1583.0" x2="472.6" y2="1590.3" stroke="#222" stroke-width="2.0"/><line x1="477.9" y1="1583.0" x2="477.9" y2="1588.6" stroke="#222" stroke-width="1.9"/><line x1="482.3" y1="1583.0" x2="482.3" y2="1588.6" stroke="#222" stroke-width="1.9"/><line x1="486.2" y1="1583.0" x2="486.2" y2="1588.6" stroke="#222" stroke-width="1.9"/><line x1="489.6" y1="1583.0" x2="489.6" y2="1588.6" stroke="#222" stroke-width="1.9"/><line x1="492.6" y1="1583.0" x2="492.6" y2="1593.5" stroke="#222" stroke-width="2.9"/><line x1="512.6" y1="1583.0" x2="512.6" y2="1588.6" stroke="#222" stroke-width="1.9"/><line x1="524.2" y1="1583.0" x2="524.2" y2="1588.6" stroke="#222" stroke-width="1.9"/><line x1="532.5" y1="1583.0" x2="532.5" y2="1588.6" stroke="#222" stroke-width="1.9"/><line x1="538.9" y1="1583.0" x2="538.9" y2="1590.3" stroke="#222" stroke-width="2.0"/><line x1="544.2" y1="1583.0" x2="544.2" y2="1588.6" stroke="#222" stroke-width="1.9"/><line x1="548.6" y1="1583.0" x2="548.6" y2="1588.6" stroke="#222" stroke-width="1.9"/><line x1="552.5" y1="1583.0" x2="552.5" y2="1588.6" stroke="#222" stroke-width="1.9"/><line x1="555.9" y1="1583.0" x2="555.9" y2="1588.6" stroke="#222" stroke-width="1.9"/><line x1="558.9" y1="1583.0" x2="558.9" y2="1593.5" stroke="#222" stroke-width="2.9"/><line x1="578.9" y1="1583.0" x2="578.9" y2="1588.6" stroke="#222" stroke-width="1.9"/><line x1="590.5" y1="1583.0" x2="590.5" y2="1588.6" stroke="#222" stroke-width="1.9"/><line x1="598.8" y1="1583.0" x2="598.8" y2="1588.6" stroke="#222" stroke-width="1.9"/><line x1="605.2" y1="1583.0" x2="605.2" y2="1590.3" stroke="#222" stroke-width="2.0"/><line x1="610.5" y1="1583.0" x2="610.5" y2="1588.6" stroke="#222" stroke-width="1.9"/><line x1="614.9" y1="1583.0" x2="614.9" y2="1588.6" stroke="#222" stroke-width="1.9"/><line x1="618.8" y1="1583.0" x2="618.8" y2="1588.6" stroke="#222" stroke-width="1.9"/><line x1="622.2" y1="1583.0" x2="622.2" y2="1588.6" stroke="#222" stroke-width="1.9"/><line x1="625.2" y1="1583.0" x2="625.2" y2="1593.5" stroke="#222" stroke-width="2.9"/><line x1="645.2" y1="1583.0" x2="645.2" y2="1588.6" stroke="#222" stroke-width="1.9"/><line x1="656.8" y1="1583.0" x2="656.8" y2="1588.6" stroke="#222" stroke-width="1.9"/><line x1="665.1" y1="1583.0" x2="665.1" y2="1588.6" stroke="#222" stroke-width="1.9"/><line x1="671.5" y1="1583.0" x2="671.5" y2="1590.3" stroke="#222" stroke-width="2.0"/><line x1="676.8" y1="1583.0" x2="676.8" y2="1588.6" stroke="#222" stroke-width="1.9"/><line x1="681.2" y1="1583.0" x2="681.2" y2="1588.6" stroke="#222" stroke-width="1.9"/><line x1="685.1" y1="1583.0" x2="685.1" y2="1588.6" stroke="#222" stroke-width="1.9"/><line x1="688.5" y1="1583.0" x2="688.5" y2="1588.6" stroke="#222" stroke-width="1.9"/><line x1="691.5" y1="1583.0" x2="691.5" y2="1593.5" stroke="#222" stroke-width="2.9"/><line x1="317.6" y1="1582.0" x2="329.2" y2="1582.0" stroke="#222" stroke-width="2.9"/><line x1="323.4" y1="1562.0" x2="329.2" y2="1562.0" stroke="#222" stroke-width="1.9"/><line x1="323.4" y1="1550.4" x2="329.2" y2="1550.4" stroke="#222" stroke-width="1.9"/><line x1="323.4" y1="1542.1" x2="329.2" y2="1542.1" stroke="#222" stroke-width="1.9"/><line x1="321.0" y1="1535.7" x2="329.2" y2="1535.7" stroke="#222" stroke-width="2.0"/><line x1="323.4" y1="1530.4" x2="329.2" y2="1530.4" stroke="#222" stroke-width="1.9"/><line x1="323.4" y1="1526.0" x2="329.2" y2="1526.0" stroke="#222" stroke-width="1.9"/><line x1="323.4" y1="1522.1" x2="329.2" y2="1522.1" stroke="#222" stroke-width="1.9"/><line x1="323.4" y1="1518.7" x2="329.2" y2="1518.7" stroke="#222" stroke-width="1.9"/><line x1="317.6" y1="1515.7" x2="329.2" y2="1515.7" stroke="#222" stroke-width="2.9"/><line x1="323.4" y1="1495.7" x2="329.2" y2="1495.7" stroke="#222" stroke-width="1.9"/><line x1="323.4" y1="1484.1" x2="329.2" y2="1484.1" stroke="#222" stroke-width="1.9"/><line x1="323.4" y1="1475.8" x2="329.2" y2="1475.8" stroke="#222" stroke-width="1.9"/><line x1="321.0" y1="1469.4" x2="329.2" y2="1469.4" stroke="#222" stroke-width="2.0"/><line x1="323.4" y1="1464.1" x2="329.2" y2="1464.1" stroke="#222" stroke-width="1.9"/><line x1="323.4" y1="1459.7" x2="329.2" y2="1459.7" stroke="#222" stroke-width="1.9"/><line x1="323.4" y1="1455.8" x2="329.2" y2="1455.8" stroke="#222" stroke-width="1.9"/><line x1="323.4" y1="1452.4" x2="329.2" y2="1452.4" stroke="#222" stroke-width="1.9"/><line x1="317.6" y1="1449.4" x2="329.2" y2="1449.4" stroke="#222" stroke-width="2.9"/><line x1="323.4" y1="1429.4" x2="329.2" y2="1429.4" stroke="#222" stroke-width="1.9"/><line x1="323.4" y1="1417.8" x2="329.2" y2="1417.8" stroke="#222" stroke-width="1.9"/><line x1="323.4" y1="1409.5" x2="329.2" y2="1409.5" stroke="#222" stroke-width="1.9"/><line x1="321.0" y1="1403.1" x2="329.2" y2="1403.1" stroke="#222" stroke-width="2.0"/><line x1="323.4" y1="1397.8" x2="329.2" y2="1397.8" stroke="#222" stroke-width="1.9"/><line x1="323.4" y1="1393.4" x2="329.2" y2="1393.4" stroke="#222" stroke-width="1.9"/><line x1="323.4" y1="1389.5" x2="329.2" y2="1389.5" stroke="#222" stroke-width="1.9"/><line x1="323.4" y1="1386.1" x2="329.2" y2="1386.1" stroke="#222" stroke-width="1.9"/><line x1="317.6" y1="1383.1" x2="329.2" y2="1383.1" stroke="#222" stroke-width="2.9"/><line x1="323.4" y1="1363.1" x2="329.2" y2="1363.1" stroke="#222" stroke-width="1.9"/><line x1="323.4" y1="1351.5" x2="329.2" y2="1351.5" stroke="#222" stroke-width="1.9"/><line x1="323.4" y1="1343.2" x2="329.2" y2="1343.2" stroke="#222" stroke-width="1.9"/><line x1="321.0" y1="1336.8" x2="329.2" y2="1336.8" stroke="#222" stroke-width="2.0"/><line x1="323.4" y1="1331.5" x2="329.2" y2="1331.5" stroke="#222" stroke-width="1.9"/><line x1="323.4" y1="1327.1" x2="329.2" y2="1327.1" stroke="#222" stroke-width="1.9"/><line x1="323.4" y1="1323.2" x2="329.2" y2="1323.2" stroke="#222" stroke-width="1.9"/><line x1="323.4" y1="1319.8" x2="329.2" y2="1319.8" stroke="#222" stroke-width="1.9"/><line x1="317.6" y1="1316.8" x2="329.2" y2="1316.8" stroke="#222" stroke-width="2.9"/><line x1="323.4" y1="1296.8" x2="329.2" y2="1296.8" stroke="#222" stroke-width="1.9"/><line x1="323.4" y1="1285.2" x2="329.2" y2="1285.2" stroke="#222" stroke-width="1.9"/><line x1="323.4" y1="1276.9" x2="329.2" y2="1276.9" stroke="#222" stroke-width="1.9"/><line x1="321.0" y1="1270.5" x2="329.2" y2="1270.5" stroke="#222" stroke-width="2.0"/><line x1="323.4" y1="1265.2" x2="329.2" y2="1265.2" stroke="#222" stroke-width="1.9"/><line x1="323.4" y1="1260.8" x2="329.2" y2="1260.8" stroke="#222" stroke-width="1.9"/><line x1="323.4" y1="1256.9" x2="329.2" y2="1256.9" stroke="#222" stroke-width="1.9"/><line x1="323.4" y1="1253.5" x2="329.2" y2="1253.5" stroke="#222" stroke-width="1.9"/><line x1="317.6" y1="1250.5" x2="329.2" y2="1250.5" stroke="#222" stroke-width="2.9"/><line x1="323.4" y1="1230.5" x2="329.2" y2="1230.5" stroke="#222" stroke-width="1.9"/><line x1="323.4" y1="1218.9" x2="329.2" y2="1218.9" stroke="#222" stroke-width="1.9"/><line x1="323.4" y1="1210.6" x2="329.2" y2="1210.6" stroke="#222" stroke-width="1.9"/>
<text transform="matrix(0.01215 0.00000 0.00000 0.01384 360.93 1616.21)" font-family="Liberation Sans" font-weight="normal" font-size="1000" fill="#4a4a4a"  stroke="#4a4a4a" stroke-width="34.7">10</text><text transform="matrix(0.01449 0.00000 0.00000 0.01529 374.40 1607.23)" font-family="Liberation Sans" font-weight="normal" font-size="1000" fill="#4a4a4a"  stroke="#4a4a4a" stroke-width="30.2">2</text><text transform="matrix(0.01215 0.00000 0.00000 0.01384 427.23 1616.21)" font-family="Liberation Sans" font-weight="normal" font-size="1000" fill="#4a4a4a"  stroke="#4a4a4a" stroke-width="34.7">10</text><text transform="matrix(0.01388 0.00000 0.00000 0.01507 440.90 1607.08)" font-family="Liberation Sans" font-weight="normal" font-size="1000" fill="#4a4a4a"  stroke="#4a4a4a" stroke-width="31.1">3</text><text transform="matrix(0.01215 0.00000 0.00000 0.01384 493.53 1616.21)" font-family="Liberation Sans" font-weight="normal" font-size="1000" fill="#4a4a4a"  stroke="#4a4a4a" stroke-width="34.7">10</text><text transform="matrix(0.01305 0.00000 0.00000 0.01551 507.43 1607.23)" font-family="Liberation Sans" font-weight="normal" font-size="1000" fill="#4a4a4a"  stroke="#4a4a4a" stroke-width="31.6">4</text><text transform="matrix(0.01215 0.00000 0.00000 0.01384 559.83 1616.21)" font-family="Liberation Sans" font-weight="normal" font-size="1000" fill="#4a4a4a"  stroke="#4a4a4a" stroke-width="34.7">10</text><text transform="matrix(0.01388 0.00000 0.00000 0.01529 573.47 1607.08)" font-family="Liberation Sans" font-weight="normal" font-size="1000" fill="#4a4a4a"  stroke="#4a4a4a" stroke-width="30.9">5</text><text transform="matrix(0.01215 0.00000 0.00000 0.01384 626.13 1616.21)" font-family="Liberation Sans" font-weight="normal" font-size="1000" fill="#4a4a4a"  stroke="#4a4a4a" stroke-width="34.7">10</text><text transform="matrix(0.01425 0.00000 0.00000 0.01507 639.61 1607.08)" font-family="Liberation Sans" font-weight="normal" font-size="1000" fill="#4a4a4a"  stroke="#4a4a4a" stroke-width="30.7">6</text><text transform="matrix(0.01215 0.00000 0.00000 0.01384 692.43 1616.21)" font-family="Liberation Sans" font-weight="normal" font-size="1000" fill="#4a4a4a"  stroke="#4a4a4a" stroke-width="34.7">10</text><text transform="matrix(0.01457 0.00000 0.00000 0.01551 705.86 1607.23)" font-family="Liberation Sans" font-weight="normal" font-size="1000" fill="#4a4a4a"  stroke="#4a4a4a" stroke-width="29.9">7</text><text transform="matrix(0.01108 0.00000 0.00000 0.01411 290.57 1590.58)" font-family="Liberation Sans" font-weight="normal" font-size="1000" fill="#4a4a4a"  stroke="#4a4a4a" stroke-width="36.0">10</text><text transform="matrix(0.01479 0.00000 0.00000 0.01551 302.99 1582.00)" font-family="Liberation Sans" font-weight="normal" font-size="1000" fill="#4a4a4a"  stroke="#4a4a4a" stroke-width="29.7">1</text><text transform="matrix(0.01108 0.00000 0.00000 0.01411 290.57 1524.28)" font-family="Liberation Sans" font-weight="normal" font-size="1000" fill="#4a4a4a"  stroke="#4a4a4a" stroke-width="36.0">10</text><text transform="matrix(0.01406 0.00000 0.00000 0.01529 303.39 1515.70)" font-family="Liberation Sans" font-weight="normal" font-size="1000" fill="#4a4a4a"  stroke="#4a4a4a" stroke-width="30.7">2</text><text transform="matrix(0.01108 0.00000 0.00000 0.01411 290.57 1457.98)" font-family="Liberation Sans" font-weight="normal" font-size="1000" fill="#4a4a4a"  stroke="#4a4a4a" stroke-width="36.0">10</text><text transform="matrix(0.01347 0.00000 0.00000 0.01507 303.59 1449.25)" font-family="Liberation Sans" font-weight="normal" font-size="1000" fill="#4a4a4a"  stroke="#4a4a4a" stroke-width="31.6">3</text><text transform="matrix(0.01108 0.00000 0.00000 0.01411 290.57 1391.68)" font-family="Liberation Sans" font-weight="normal" font-size="1000" fill="#4a4a4a"  stroke="#4a4a4a" stroke-width="36.0">10</text><text transform="matrix(0.01267 0.00000 0.00000 0.01551 303.81 1383.10)" font-family="Liberation Sans" font-weight="normal" font-size="1000" fill="#4a4a4a"  stroke="#4a4a4a" stroke-width="32.1">4</text><text transform="matrix(0.01108 0.00000 0.00000 0.01411 290.57 1325.38)" font-family="Liberation Sans" font-weight="normal" font-size="1000" fill="#4a4a4a"  stroke="#4a4a4a" stroke-width="36.0">10</text><text transform="matrix(0.01347 0.00000 0.00000 0.01529 303.56 1316.65)" font-family="Liberation Sans" font-weight="normal" font-size="1000" fill="#4a4a4a"  stroke="#4a4a4a" stroke-width="31.4">5</text><text transform="matrix(0.01108 0.00000 0.00000 0.01411 290.57 1259.08)" font-family="Liberation Sans" font-weight="normal" font-size="1000" fill="#4a4a4a"  stroke="#4a4a4a" stroke-width="36.0">10</text><text transform="matrix(0.01383 0.00000 0.00000 0.01507 303.40 1250.35)" font-family="Liberation Sans" font-weight="normal" font-size="1000" fill="#4a4a4a"  stroke="#4a4a4a" stroke-width="31.2">6</text>
<text transform="matrix(0.02025 0.00000 0.00000 0.02094 335.37 1239.78)" font-family="Liberation Sans" font-weight="bold" font-size="1000" fill="#000" >Q1</text>
<text transform="matrix(0.02025 0.00000 0.00000 0.02094 334.69 1267.31)" font-family="Liberation Sans" font-weight="bold" font-size="1000" fill="#000" >2.01%</text>
<text transform="matrix(0.02025 0.00000 0.00000 0.02094 639.52 1239.20)" font-family="Liberation Sans" font-weight="bold" font-size="1000" fill="#000" >Q2</text>
<text transform="matrix(0.02025 0.00000 0.00000 0.02094 597.56 1267.12)" font-family="Liberation Sans" font-weight="bold" font-size="1000" fill="#000" >0.016%</text>
<text transform="matrix(0.02025 0.00000 0.00000 0.02094 645.43 1533.57)" font-family="Liberation Sans" font-weight="bold" font-size="1000" fill="#000" >Q3</text>
<text transform="matrix(0.02025 0.00000 0.00000 0.02094 614.81 1562.64)" font-family="Liberation Sans" font-weight="bold" font-size="1000" fill="#000" >0.29%</text>
<text transform="matrix(0.02025 0.00000 0.00000 0.02094 335.18 1533.57)" font-family="Liberation Sans" font-weight="bold" font-size="1000" fill="#000" >Q4</text>
<text transform="matrix(0.02025 0.00000 0.00000 0.02094 334.69 1562.64)" font-family="Liberation Sans" font-weight="bold" font-size="1000" fill="#000" >97.7%</text>
<text transform="matrix(0.02722 0.00000 0.00000 0.02472 434.64 1665.74)" font-family="Liberation Sans" font-weight="bold" font-size="1000" fill="#000" >PE: AE1/AE3</text>
<text transform="matrix(0.00000 -0.02710 0.02374 0.00000 238.21 1480.13)" font-family="Liberation Sans" font-weight="bold" font-size="1000" fill="#000" >APC: CD140b</text>
<text transform="matrix(0.06474 0.00000 0.00000 0.06954 1160.57 1113.60)" font-family="Liberation Sans" font-weight="normal" font-size="1000" fill="#000" stroke="#fff" stroke-width="31.6">3D</text>
<linearGradient id="P4g" x1="0" y1="0" x2="0" y2="1"><stop offset="0" stop-color="#f4f4f4"/><stop offset="1" stop-color="#e2e2e2"/></linearGradient>
<rect x="1035.8" y="1134.3" width="382.10000000000014" height="67.40000000000009" fill="#fff"/>
<rect x="1058.1" y="1134.3" width="359.8000000000002" height="22.40000000000009" fill="url(#P4g)"/>
<rect x="1035.8" y="1134.3" width="382.10000000000014" height="67.40000000000009" rx="2" fill="none" stroke="#4a4a4a" stroke-width="1.9"/>
<line x1="1058.1" y1="1134.3" x2="1058.1" y2="1201.7" stroke="#4a4a4a" stroke-width="1.9"/>
<line x1="1269.4" y1="1134.3" x2="1269.4" y2="1201.7" stroke="#4a4a4a" stroke-width="1.9"/>
<line x1="1367.8" y1="1134.3" x2="1367.8" y2="1201.7" stroke="#4a4a4a" stroke-width="1.9"/>
<line x1="1035.8" y1="1156.7" x2="1417.9" y2="1156.7" stroke="#4a4a4a" stroke-width="1.9"/>
<line x1="1035.8" y1="1179.3" x2="1417.9" y2="1179.3" stroke="#4a4a4a" stroke-width="1.9"/>
<rect x="1039.0" y="1160.5" width="13.6" height="13.3" fill="#636363"/>
<rect x="1039.0" y="1181.9" width="13.6" height="15.3" fill="#ff2525"/>
<text transform="matrix(0.01415 0.00000 0.00000 0.01345 1118.91 1149.93)" font-family="Liberation Sans" font-weight="normal" font-size="1000" fill="#1a1a1a"  stroke="#1a1a1a" stroke-width="21.7">Sample Name</text>
<text transform="matrix(0.01432 0.00000 0.00000 0.01345 1275.20 1149.93)" font-family="Liberation Sans" font-weight="normal" font-size="1000" fill="#1a1a1a"  stroke="#1a1a1a" stroke-width="21.6">Subset Name</text>
<text transform="matrix(0.01490 0.00000 0.00000 0.01345 1372.65 1149.93)" font-family="Liberation Sans" font-weight="normal" font-size="1000" fill="#1a1a1a"  stroke="#1a1a1a" stroke-width="21.2">Count</text>
<text transform="matrix(0.01405 0.00000 0.00000 0.01345 1063.78 1172.09)" font-family="Liberation Sans" font-weight="normal" font-size="1000" fill="#1a1a1a"  stroke="#1a1a1a" stroke-width="21.8">A03 1213-3D IgG.fcs</text>
<text transform="matrix(0.01350 0.00000 0.00000 0.01345 1275.37 1172.09)" font-family="Liberation Sans" font-weight="normal" font-size="1000" fill="#1a1a1a"  stroke="#1a1a1a" stroke-width="22.3">SSC-SC</text>
<text transform="matrix(0.01326 0.00000 0.00000 0.01345 1374.73 1172.09)" font-family="Liberation Sans" font-weight="normal" font-size="1000" fill="#1a1a1a"  stroke="#1a1a1a" stroke-width="22.5">21992</text>
<text transform="matrix(0.01405 0.00000 0.00000 0.01345 1063.78 1194.69)" font-family="Liberation Sans" font-weight="normal" font-size="1000" fill="#1a1a1a"  stroke="#1a1a1a" stroke-width="21.8">A04 1213-3D Ab.fcs</text>
<text transform="matrix(0.01350 0.00000 0.00000 0.01345 1275.37 1194.69)" font-family="Liberation Sans" font-weight="normal" font-size="1000" fill="#1a1a1a"  stroke="#1a1a1a" stroke-width="22.3">SSC-SC</text>
<text transform="matrix(0.01326 0.00000 0.00000 0.01345 1374.44 1194.69)" font-family="Liberation Sans" font-weight="normal" font-size="1000" fill="#1a1a1a"  stroke="#1a1a1a" stroke-width="22.5">21854</text>
<clipPath id="P4c"><rect x="1038.2" y="1205.0" width="380.5" height="378.4000000000001"/></clipPath>
<g clip-path="url(#P4c)" fill="none" stroke-width="1.3" stroke-linejoin="round">
<path stroke="#ff3c3c" stroke-opacity="0.6" d="M1156.0 1483.5 1149.5 1483.6 1142.5 1482.3 1136.0 1479.9 1130.5 1476.6 1125.5 1472.4 1120.9 1467.0 1117.5 1461.0 1115.2 1454.5 1114.1 1448.5 1114.1 1442.5 1114.9 1436.5 1116.7 1430.5 1122.6 1418.5 1135.3 1399.0 1152.7 1375.0 1170.8 1352.5 1179.0 1343.8 1187.5 1335.7 1193.5 1330.9 1199.5 1327.1 1206.0 1324.2 1213.0 1322.3 1220.5 1321.4 1228.5 1321.4 1240.0 1322.4 1250.0 1324.2 1257.5 1326.8 1263.5 1330.1 1270.2 1336.0 1275.8 1344.0 1279.8 1353.0 1282.2 1363.5 1282.7 1374.5 1281.3 1385.0 1278.3 1394.5 1273.5 1403.2 1267.5 1410.0 1260.5 1414.8 1253.5 1417.3 1239.0 1420.3 1235.0 1421.9 1231.5 1424.0 1223.5 1430.8 1194.5 1460.1 1180.0 1473.0 1174.0 1477.2 1168.0 1480.4 1162.0 1482.5ZM1153.5 1473.5 1147.5 1473.1 1141.5 1471.3 1136.0 1468.3 1131.3 1464.0 1127.7 1459.0 1125.2 1453.0 1124.2 1447.0 1124.4 1440.5 1125.7 1435.0 1127.9 1429.0 1136.7 1413.0 1154.2 1387.0 1169.7 1366.5 1180.5 1354.1 1193.5 1341.9 1202.5 1335.5 1211.5 1331.8 1217.0 1330.7 1222.5 1330.3 1228.5 1330.6 1235.0 1331.6 1242.0 1333.4 1248.5 1335.6 1254.0 1338.3 1258.5 1341.3 1263.5 1346.2 1267.4 1352.0 1270.3 1359.0 1271.9 1366.5 1272.0 1374.5 1270.8 1382.0 1268.2 1389.0 1264.5 1394.8 1260.5 1398.9 1256.0 1401.9 1251.5 1403.8 1238.5 1408.0 1234.0 1410.3 1229.5 1413.5 1222.2 1420.0 1191.5 1450.7 1182.0 1459.1 1173.5 1465.8 1168.5 1469.0 1163.5 1471.4 1158.5 1472.9ZM1157.0 1467.6 1151.0 1467.9 1145.5 1466.9 1140.5 1464.6 1136.1 1461.0 1132.7 1456.5 1130.6 1451.5 1129.6 1446.0 1130.0 1440.0 1131.3 1434.5 1133.8 1428.5 1142.7 1412.0 1158.6 1388.0 1173.3 1368.5 1183.4 1357.0 1195.5 1345.8 1204.0 1339.8 1212.5 1336.2 1217.5 1335.2 1222.5 1334.9 1233.0 1336.1 1239.0 1337.8 1245.0 1340.2 1250.0 1342.8 1254.0 1345.6 1258.2 1349.5 1261.8 1354.5 1264.3 1360.0 1265.8 1366.0 1266.1 1372.5 1265.2 1378.5 1263.3 1384.0 1260.3 1389.0 1257.0 1392.4 1253.5 1394.9 1239.0 1401.2 1231.5 1405.9 1223.5 1412.8 1200.5 1435.9 1181.5 1453.3 1173.5 1459.6 1167.5 1463.5 1162.0 1466.2ZM1155.5 1463.5 1150.5 1463.5 1146.0 1462.4 1142.0 1460.3 1138.4 1457.0 1135.8 1453.0 1134.3 1448.5 1133.8 1443.5 1134.5 1438.0 1136.2 1432.5 1138.8 1426.5 1147.2 1411.0 1162.2 1388.0 1177.7 1367.5 1186.9 1357.5 1198.0 1347.6 1206.0 1342.3 1213.5 1339.3 1218.0 1338.4 1222.5 1338.1 1232.0 1339.4 1242.0 1343.1 1250.6 1348.5 1254.5 1352.3 1257.5 1356.5 1259.8 1361.5 1261.1 1366.5 1261.3 1372.0 1260.5 1377.0 1258.8 1381.5 1256.2 1385.5 1251.0 1390.1 1237.5 1397.2 1230.0 1402.7 1221.5 1410.5 1198.5 1433.6 1187.0 1444.2 1178.0 1451.7 1171.0 1456.8 1165.5 1460.2 1160.5 1462.4ZM1157.0 1459.6 1152.5 1459.9 1148.5 1459.2 1144.5 1457.3 1141.4 1454.5 1139.0 1450.8 1137.7 1446.5 1137.5 1442.0 1138.3 1437.0 1142.5 1425.5 1150.3 1411.0 1164.4 1389.0 1179.4 1369.0 1188.0 1359.7 1199.0 1350.0 1206.5 1344.9 1214.0 1341.8 1222.0 1340.8 1230.5 1341.9 1239.5 1345.3 1247.0 1350.1 1250.6 1353.5 1253.6 1357.5 1255.6 1361.5 1256.8 1366.0 1257.1 1370.5 1256.5 1375.0 1255.0 1379.0 1252.7 1382.5 1248.3 1386.5 1237.0 1393.5 1230.5 1398.6 1202.0 1426.9 1181.0 1445.8 1173.5 1451.4 1167.0 1455.6 1162.0 1458.1ZM1157.5 1456.0 1153.5 1456.3 1149.5 1455.6 1146.0 1453.7 1143.5 1451.1 1141.8 1448.0 1140.9 1444.0 1141.0 1440.0 1141.9 1435.0 1146.5 1423.0 1153.8 1409.5 1166.2 1390.0 1181.1 1370.0 1189.0 1361.4 1199.0 1352.6 1206.5 1347.4 1213.5 1344.3 1221.0 1343.1 1229.0 1344.0 1237.0 1346.9 1244.0 1351.5 1247.6 1355.0 1250.1 1358.5 1251.9 1362.0 1253.0 1366.0 1253.2 1370.0 1252.7 1373.5 1251.4 1377.0 1249.0 1380.5 1245.3 1384.0 1236.0 1390.8 1231.0 1395.0 1202.5 1423.6 1183.0 1441.1 1175.5 1446.9 1168.5 1451.4 1162.5 1454.5ZM1158.0 1452.5 1154.5 1452.8 1151.0 1452.1 1148.2 1450.5 1146.0 1448.0 1144.7 1445.0 1144.2 1441.0 1144.5 1437.0 1145.7 1432.0 1151.0 1419.0 1160.4 1402.5 1169.7 1388.0 1182.9 1370.5 1190.3 1362.5 1199.5 1354.5 1207.0 1349.3 1213.5 1346.4 1220.5 1345.2 1227.5 1345.8 1234.5 1348.3 1241.1 1352.5 1244.2 1355.5 1246.4 1358.5 1248.3 1362.0 1249.3 1365.5 1249.6 1369.0 1249.0 1372.5 1247.6 1376.0 1245.6 1379.0 1230.5 1392.5 1201.5 1422.1 1185.0 1436.7 1177.5 1442.6 1170.0 1447.5 1163.5 1450.9ZM1159.0 1449.0 1155.5 1449.1 1152.5 1448.3 1150.0 1446.5 1148.5 1444.2 1147.6 1441.0 1147.5 1437.5 1149.4 1428.5 1154.5 1416.5 1164.8 1398.5 1172.7 1386.5 1184.0 1371.5 1191.0 1364.0 1199.5 1356.6 1207.0 1351.4 1213.5 1348.4 1220.0 1347.2 1226.5 1347.7 1233.0 1349.9 1238.5 1353.5 1241.6 1356.5 1243.7 1359.5 1245.2 1362.5 1246.1 1366.0 1246.1 1369.5 1245.4 1372.5 1244.0 1375.5 1241.9 1378.5 1230.5 1389.8 1204.5 1416.9 1190.5 1429.6 1180.5 1437.9 1173.0 1443.0 1165.5 1447.0ZM1162.0 1445.1 1158.5 1445.4 1155.9 1445.0 1153.5 1443.7 1151.8 1441.5 1151.0 1438.9 1150.8 1435.5 1152.6 1426.5 1156.9 1416.0 1166.6 1398.5 1173.8 1387.5 1184.6 1373.0 1191.0 1366.0 1199.0 1359.0 1206.5 1353.6 1213.0 1350.5 1219.0 1349.1 1225.0 1349.3 1231.0 1351.2 1236.1 1354.5 1238.7 1357.0 1240.9 1360.0 1242.3 1363.0 1243.0 1366.5 1242.9 1369.5 1242.1 1372.5 1238.4 1378.5 1216.6 1402.5 1196.0 1422.8 1183.5 1433.1 1176.0 1438.6 1168.5 1442.8ZM1163.0 1441.5 1160.0 1441.6 1158.0 1441.0 1156.0 1439.6 1154.8 1437.5 1154.2 1435.0 1154.2 1431.5 1156.0 1423.5 1160.3 1413.5 1169.0 1397.5 1176.3 1386.5 1186.0 1373.5 1192.0 1367.0 1199.0 1360.9 1206.5 1355.5 1212.5 1352.5 1218.0 1351.0 1223.5 1351.0 1229.0 1352.6 1233.9 1355.5 1236.4 1358.0 1238.5 1361.0 1239.6 1364.0 1240.1 1367.0 1239.8 1370.0 1238.8 1373.0 1234.1 1380.0 1216.6 1400.5 1203.5 1413.8 1196.0 1420.8 1184.0 1430.4 1176.0 1436.1 1169.0 1439.8ZM1167.0 1437.5 1164.0 1437.9 1161.5 1437.5 1159.6 1436.5 1158.4 1435.0 1157.6 1433.0 1157.3 1430.0 1158.7 1422.5 1162.6 1413.0 1170.2 1398.5 1176.6 1388.5 1186.0 1375.5 1191.5 1369.3 1198.0 1363.5 1205.5 1358.0 1212.0 1354.5 1217.5 1352.9 1222.5 1352.8 1227.2 1354.0 1231.6 1356.5 1234.6 1359.5 1236.5 1363.0 1237.3 1366.5 1236.8 1370.5 1235.7 1373.5 1233.7 1377.0 1223.4 1390.5 1212.3 1403.0 1194.5 1420.1 1177.5 1432.7 1172.0 1435.8ZM1168.0 1434.0 1164.0 1433.7 1162.5 1432.8 1161.3 1431.0 1160.7 1429.0 1160.6 1426.0 1162.1 1419.5 1166.5 1409.0 1172.1 1398.0 1178.9 1387.5 1187.5 1375.7 1193.0 1369.7 1199.0 1364.4 1206.0 1359.5 1212.0 1356.3 1217.0 1354.9 1221.5 1354.7 1226.0 1355.7 1229.9 1358.0 1232.5 1360.8 1234.1 1364.0 1234.6 1367.5 1234.0 1371.0 1232.6 1374.5 1230.2 1378.5 1219.6 1393.0 1206.0 1407.5 1192.5 1419.8 1177.5 1430.2 1172.5 1432.8ZM1171.0 1430.0 1167.0 1429.8 1165.5 1428.8 1164.5 1427.2 1164.1 1423.0 1165.5 1416.5 1169.5 1406.5 1174.1 1397.5 1180.9 1387.0 1188.5 1376.5 1193.5 1371.0 1199.0 1366.2 1205.5 1361.6 1211.5 1358.4 1216.0 1357.0 1220.5 1356.6 1224.5 1357.5 1228.0 1359.5 1230.3 1362.0 1231.6 1365.0 1231.9 1368.0 1231.3 1371.5 1227.3 1379.5 1217.8 1393.0 1206.5 1405.1 1193.0 1417.4 1180.0 1426.2 1175.0 1428.8ZM1172.5 1426.0 1170.5 1425.8 1169.1 1425.0 1167.7 1422.0 1168.0 1417.5 1169.9 1410.5 1173.0 1403.0 1177.0 1395.5 1184.2 1384.5 1190.0 1376.7 1194.5 1371.8 1199.5 1367.5 1205.5 1363.4 1211.0 1360.5 1215.5 1359.0 1219.5 1358.7 1223.0 1359.4 1226.0 1361.1 1228.0 1363.5 1229.0 1366.0 1229.3 1369.0 1228.6 1372.5 1223.8 1382.0 1215.7 1393.5 1204.0 1405.7 1192.0 1416.2 1180.5 1423.4 1176.0 1425.3ZM1177.0 1421.6 1173.5 1421.3 1172.5 1420.5 1171.6 1419.0 1171.4 1415.0 1172.7 1409.0 1175.1 1402.5 1178.5 1396.0 1184.5 1386.5 1190.2 1378.5 1194.5 1373.7 1199.0 1369.7 1204.0 1366.1 1209.5 1363.1 1213.9 1361.5 1217.5 1361.0 1221.0 1361.5 1223.8 1363.0 1225.5 1365.0 1226.3 1367.0 1226.5 1370.0 1226.0 1373.0 1221.8 1382.0 1215.0 1392.2 1206.5 1401.4 1193.5 1413.0 1184.5 1418.8 1180.5 1420.6ZM1182.0 1417.0 1178.0 1417.4 1175.8 1416.0 1174.8 1413.0 1175.4 1408.0 1177.2 1402.5 1180.0 1396.7 1190.4 1380.5 1194.0 1376.2 1198.0 1372.4 1202.5 1369.0 1207.0 1366.3 1211.5 1364.4 1215.0 1363.6 1218.5 1363.8 1221.2 1365.0 1222.6 1366.5 1223.4 1368.5 1223.6 1371.0 1223.2 1374.0 1219.9 1382.0 1214.5 1390.5 1207.5 1398.4 1195.5 1409.3 1188.5 1414.2ZM1184.5 1413.0 1181.5 1413.2 1179.4 1412.0 1178.4 1409.5 1178.7 1405.5 1180.1 1401.0 1182.5 1396.0 1191.6 1381.5 1198.5 1374.0 1206.0 1369.0 1210.0 1367.3 1213.5 1366.5 1216.5 1366.7 1218.5 1367.7 1219.6 1369.0 1220.4 1371.0 1220.0 1376.0 1217.3 1383.0 1213.0 1390.0 1206.5 1397.2 1196.5 1406.1 1190.0 1410.7ZM1187.5 1408.5 1185.0 1408.8 1183.0 1407.7 1182.3 1405.5 1182.5 1402.5 1185.9 1394.0 1193.0 1382.4 1198.5 1376.3 1205.0 1371.8 1211.0 1369.8 1213.5 1369.9 1215.5 1370.8 1217.1 1373.5 1216.9 1378.0 1214.9 1383.5 1211.2 1389.5 1206.3 1395.0 1199.0 1401.5 1192.5 1406.2ZM1190.5 1403.1 1188.5 1403.0 1187.5 1402.1 1187.1 1400.5 1187.4 1398.0 1190.4 1390.5 1195.0 1383.0 1199.0 1378.5 1204.0 1375.0 1208.5 1373.5 1210.5 1373.5 1212.0 1374.0 1213.4 1376.0 1213.6 1379.5 1212.1 1384.0 1209.4 1388.5 1205.5 1393.0 1200.5 1397.4 1194.5 1401.5ZM1197.0 1395.1 1194.5 1395.0 1193.8 1393.0 1194.6 1389.5 1197.0 1385.0 1199.5 1381.9 1202.5 1379.5 1205.5 1378.3 1208.0 1378.6 1209.1 1380.0 1209.2 1382.0 1207.1 1387.0 1202.5 1391.9Z"/>
<path stroke="#6e7373" stroke-opacity="0.55" d="M1138.5 1500.5 1127.0 1500.3 1117.0 1498.0 1112.5 1496.0 1108.6 1493.5 1105.5 1490.7 1103.0 1487.5 1101.2 1484.0 1100.0 1480.0 1099.6 1476.0 1099.9 1471.5 1100.9 1467.0 1102.8 1462.0 1105.2 1457.5 1108.4 1453.0 1112.5 1448.5 1118.0 1443.6 1139.5 1428.2 1147.5 1423.1 1161.1 1415.5 1175.0 1406.2 1181.5 1402.8 1191.0 1399.9 1200.0 1399.5 1204.5 1400.1 1208.5 1401.4 1212.5 1403.3 1215.5 1405.4 1219.1 1409.0 1222.2 1414.0 1223.9 1419.0 1224.6 1425.0 1223.9 1431.0 1222.3 1436.5 1219.6 1442.0 1215.7 1447.5 1210.5 1453.1 1197.8 1464.5 1184.0 1478.4 1172.0 1488.2 1163.5 1493.3 1155.5 1496.8 1147.0 1499.3ZM1140.0 1492.5 1131.0 1492.5 1123.5 1490.6 1117.1 1487.0 1114.6 1484.5 1112.9 1482.0 1111.7 1479.0 1111.1 1476.0 1111.6 1469.0 1114.6 1461.5 1119.7 1454.5 1127.0 1447.5 1142.0 1435.4 1148.5 1430.9 1161.0 1423.1 1174.5 1412.2 1182.0 1407.7 1190.5 1404.8 1198.5 1404.3 1206.0 1405.9 1209.5 1407.7 1212.5 1409.9 1215.7 1413.5 1217.9 1417.5 1219.1 1422.0 1219.4 1426.5 1218.8 1431.5 1217.3 1436.0 1214.7 1441.0 1211.3 1445.5 1206.0 1450.6 1191.8 1461.0 1176.5 1474.8 1166.0 1482.8 1160.0 1486.3 1153.5 1489.3 1147.0 1491.4ZM1141.5 1488.0 1134.0 1488.1 1127.2 1486.5 1122.0 1483.4 1118.6 1479.0 1117.3 1473.5 1118.2 1467.5 1120.9 1461.5 1125.9 1455.0 1132.6 1448.5 1143.5 1439.1 1161.5 1426.7 1174.6 1415.0 1182.0 1410.1 1190.0 1407.2 1198.0 1406.6 1205.0 1408.2 1208.0 1409.7 1211.0 1412.0 1213.6 1415.0 1215.7 1419.0 1216.7 1423.0 1216.9 1427.5 1216.2 1432.0 1214.8 1436.0 1212.3 1440.5 1209.2 1444.5 1202.5 1450.4 1187.0 1460.5 1173.5 1472.2 1163.5 1479.4 1158.0 1482.7 1152.5 1485.2 1147.0 1487.0ZM1142.0 1484.5 1135.5 1484.6 1129.5 1483.0 1125.2 1480.0 1123.7 1478.0 1122.6 1475.5 1122.3 1470.5 1123.8 1465.0 1127.1 1459.5 1132.2 1453.5 1145.5 1441.1 1162.0 1429.3 1175.0 1416.7 1179.0 1413.7 1183.0 1411.3 1190.0 1408.8 1197.5 1408.2 1201.0 1408.7 1204.5 1409.9 1210.0 1413.5 1212.4 1416.5 1214.2 1420.0 1215.1 1424.0 1215.2 1428.0 1214.4 1432.5 1212.8 1436.5 1210.4 1440.5 1207.5 1444.1 1200.5 1449.9 1185.0 1459.0 1171.0 1470.5 1161.5 1477.0 1151.5 1482.1 1146.5 1483.7ZM1141.5 1481.5 1135.5 1481.1 1130.5 1479.0 1127.5 1475.6 1126.5 1471.5 1127.3 1466.5 1129.8 1461.5 1134.0 1456.0 1141.0 1448.5 1149.5 1440.8 1163.5 1430.6 1176.5 1417.0 1183.5 1412.4 1190.5 1409.9 1197.5 1409.4 1204.0 1411.1 1209.0 1414.5 1211.4 1417.5 1213.1 1421.0 1213.8 1424.5 1213.9 1428.5 1213.1 1432.5 1211.5 1436.5 1209.0 1440.5 1206.0 1443.9 1199.0 1449.4 1182.9 1458.0 1169.5 1468.6 1160.0 1474.9 1150.0 1479.7ZM1145.5 1478.1 1139.5 1478.4 1134.8 1477.0 1133.0 1475.7 1131.7 1474.0 1130.6 1470.0 1131.5 1465.5 1134.2 1460.5 1138.7 1454.5 1145.1 1447.5 1151.5 1441.8 1163.0 1433.2 1175.8 1419.0 1180.0 1415.6 1184.0 1413.2 1191.0 1410.8 1197.5 1410.5 1203.5 1412.1 1208.4 1415.5 1210.7 1418.5 1212.0 1421.5 1212.8 1425.0 1212.7 1429.0 1211.8 1433.0 1210.4 1436.5 1208.2 1440.0 1205.5 1443.1 1202.0 1446.1 1198.0 1448.8 1181.3 1457.0 1168.5 1466.7 1161.0 1471.6 1152.5 1475.9ZM1146.0 1475.0 1142.5 1475.2 1139.5 1474.7 1137.1 1473.5 1135.8 1472.0 1135.0 1470.0 1134.9 1467.5 1135.6 1464.5 1137.0 1461.5 1141.0 1455.5 1146.5 1449.0 1152.3 1443.5 1164.0 1434.4 1176.5 1419.5 1180.5 1416.2 1184.5 1413.8 1188.5 1412.2 1193.0 1411.3 1197.5 1411.3 1201.5 1412.2 1205.0 1413.9 1208.0 1416.5 1210.2 1419.5 1211.4 1422.5 1211.9 1426.0 1211.8 1429.5 1210.8 1433.5 1209.1 1437.0 1206.7 1440.5 1204.0 1443.4 1196.5 1448.6 1180.0 1456.0 1167.5 1465.1 1160.0 1469.7 1152.5 1473.2ZM1148.5 1471.5 1145.5 1471.7 1143.0 1471.4 1141.2 1470.5 1139.9 1469.0 1139.3 1467.0 1139.4 1465.0 1141.8 1459.0 1145.4 1453.5 1150.1 1448.0 1165.0 1435.3 1173.4 1424.0 1177.6 1419.5 1181.0 1416.7 1185.0 1414.4 1189.0 1412.8 1193.5 1412.0 1197.5 1412.1 1201.5 1413.1 1204.5 1414.6 1207.4 1417.0 1209.2 1419.5 1210.5 1422.5 1211.1 1426.0 1211.0 1429.5 1210.1 1433.0 1208.6 1436.5 1206.2 1440.0 1203.5 1442.9 1200.0 1445.7 1195.5 1448.3 1178.5 1455.2 1166.5 1463.6 1160.5 1467.1 1154.0 1470.0ZM1152.5 1467.6 1147.5 1467.8 1145.6 1467.0 1144.6 1466.0 1144.1 1464.5 1144.1 1462.5 1146.1 1457.0 1148.9 1452.5 1152.3 1448.5 1165.5 1436.8 1173.6 1425.0 1178.5 1419.5 1182.0 1416.8 1185.5 1414.8 1189.5 1413.4 1193.5 1412.7 1197.5 1412.8 1201.0 1413.7 1204.0 1415.2 1206.8 1417.5 1208.6 1420.0 1209.9 1423.0 1210.4 1426.0 1210.3 1429.5 1209.4 1433.0 1207.8 1436.5 1203.0 1442.5 1196.0 1447.3 1178.0 1453.8 1162.5 1463.7 1157.5 1466.0ZM1155.5 1463.6 1151.5 1463.5 1149.5 1462.0 1149.1 1459.0 1150.7 1454.5 1155.2 1448.5 1165.5 1439.1 1173.8 1426.0 1179.0 1419.9 1182.5 1417.2 1186.0 1415.3 1190.0 1413.9 1193.5 1413.4 1197.0 1413.4 1200.5 1414.3 1203.5 1415.7 1206.2 1418.0 1208.0 1420.5 1209.2 1423.5 1209.7 1426.5 1209.6 1429.5 1208.7 1433.0 1207.4 1436.0 1205.4 1439.0 1202.5 1442.1 1199.0 1444.8 1194.5 1447.2 1176.5 1452.9 1163.0 1460.9ZM1159.5 1459.1 1156.5 1459.2 1154.7 1458.0 1154.3 1456.0 1155.3 1453.0 1157.8 1449.5 1166.0 1441.2 1174.2 1426.5 1176.9 1423.0 1180.0 1419.8 1186.5 1415.7 1190.5 1414.4 1194.0 1414.0 1197.5 1414.2 1201.0 1415.2 1203.5 1416.5 1206.0 1418.8 1207.5 1421.0 1208.7 1424.0 1209.1 1427.0 1208.8 1430.5 1206.4 1436.5 1201.7 1442.0 1198.0 1444.7 1193.0 1447.2 1188.0 1448.8 1174.5 1451.8 1163.5 1457.7ZM1165.0 1452.5 1162.5 1452.5 1162.2 1451.5 1162.5 1450.5 1167.3 1443.0 1174.4 1427.5 1177.5 1423.2 1181.0 1419.7 1187.5 1415.9 1191.0 1414.9 1194.5 1414.5 1198.0 1414.9 1201.0 1415.8 1203.5 1417.3 1205.8 1419.5 1207.3 1422.0 1208.2 1425.0 1208.4 1428.0 1208.0 1431.0 1205.4 1437.0 1200.5 1442.3 1195.5 1445.4 1190.0 1447.5 1184.5 1448.7 1172.5 1450.3ZM1183.0 1447.5 1178.5 1447.5 1175.0 1446.8 1172.5 1445.5 1171.5 1443.9 1171.2 1440.5 1172.0 1436.0 1173.8 1431.0 1176.2 1426.5 1178.9 1423.0 1181.5 1420.4 1185.0 1418.0 1188.5 1416.5 1192.0 1415.6 1195.5 1415.5 1199.0 1416.1 1202.0 1417.5 1205.5 1421.0 1206.8 1423.5 1207.4 1426.0 1206.9 1431.5 1204.7 1436.5 1201.0 1440.7 1196.0 1444.2 1190.0 1446.5ZM1186.5 1445.5 1183.0 1445.5 1179.5 1444.9 1177.0 1443.7 1175.3 1442.0 1174.4 1439.5 1174.3 1436.5 1174.9 1433.0 1176.4 1429.0 1178.5 1425.5 1181.0 1422.6 1184.0 1420.1 1187.0 1418.4 1190.5 1417.2 1194.0 1416.8 1197.0 1417.0 1200.0 1418.1 1203.5 1420.7 1205.6 1424.5 1206.0 1429.0 1204.6 1434.0 1201.5 1438.5 1197.5 1441.8 1192.5 1444.2ZM1189.5 1443.5 1186.0 1443.8 1183.0 1443.5 1180.5 1442.6 1178.5 1441.2 1177.3 1439.5 1176.6 1437.0 1176.6 1434.0 1177.3 1431.0 1178.6 1428.0 1180.6 1425.0 1183.0 1422.5 1186.0 1420.4 1189.0 1419.0 1192.0 1418.3 1195.0 1418.2 1198.0 1418.8 1201.5 1420.9 1203.7 1424.0 1204.6 1428.0 1203.9 1432.0 1201.9 1436.0 1198.5 1439.5 1194.5 1442.0ZM1189.0 1442.0 1186.0 1442.0 1183.5 1441.5 1181.5 1440.5 1180.0 1439.0 1179.0 1437.2 1178.6 1435.0 1179.4 1430.0 1182.5 1425.0 1187.0 1421.4 1192.5 1419.6 1197.5 1420.3 1200.5 1422.2 1202.4 1425.0 1203.0 1428.5 1202.2 1432.5 1200.1 1436.0 1197.0 1438.9 1193.0 1441.1ZM1191.5 1440.0 1187.0 1440.4 1183.0 1438.9 1180.9 1436.0 1180.5 1434.0 1180.7 1431.5 1182.7 1427.0 1186.5 1423.2 1191.0 1421.3 1195.5 1421.3 1198.3 1422.5 1200.3 1424.5 1201.4 1427.5 1201.3 1430.5 1200.2 1433.5 1197.8 1436.5 1195.0 1438.6ZM1190.5 1438.6 1187.0 1438.5 1184.0 1436.8 1182.6 1434.0 1182.8 1430.5 1184.6 1427.0 1188.0 1424.1 1192.0 1422.7 1195.5 1423.1 1197.9 1424.5 1199.3 1426.5 1199.8 1429.0 1199.3 1431.5 1198.0 1434.0 1196.0 1436.1 1193.5 1437.6ZM1191.0 1436.6 1188.0 1436.5 1186.0 1435.4 1184.8 1433.5 1184.9 1430.5 1186.1 1428.0 1188.5 1425.8 1191.5 1424.6 1194.0 1424.6 1195.9 1425.5 1197.0 1426.6 1197.7 1428.5 1197.7 1430.5 1196.9 1432.5 1195.3 1434.5 1193.0 1436.0ZM1191.5 1434.0 1190.0 1434.1 1188.4 1433.5 1187.5 1432.1 1187.5 1430.5 1189.5 1427.8 1191.5 1427.0 1193.0 1427.0 1194.9 1428.5 1195.1 1430.5 1194.0 1432.6Z"/>
<path stroke="#ff3c3c" stroke-opacity="0.6" d="M1193.0 1598.0 1184.0 1598.4 1155.5 1598.4 1148.0 1598.1 1142.5 1597.4 1136.5 1595.5 1132.1 1592.5 1129.8 1589.0 1129.5 1585.0 1131.1 1581.5 1135.0 1578.1 1140.5 1575.9 1147.5 1574.7 1160.5 1574.3 1191.0 1574.6 1199.0 1575.7 1205.5 1578.4 1208.5 1581.0 1210.3 1584.0 1210.6 1587.5 1209.5 1590.5 1206.7 1593.5 1203.0 1595.7 1198.5 1597.2ZM1190.0 1594.5 1158.0 1594.8 1146.5 1594.1 1141.5 1592.8 1138.3 1591.0 1136.2 1588.5 1135.8 1585.5 1137.5 1582.5 1141.0 1580.2 1146.0 1578.8 1152.5 1578.1 1190.5 1578.3 1198.0 1579.8 1202.5 1582.5 1203.9 1584.5 1204.3 1586.5 1203.8 1588.5 1202.3 1590.5 1197.5 1593.2ZM1189.0 1592.5 1160.0 1592.8 1149.0 1592.3 1145.0 1591.5 1141.7 1590.0 1139.8 1588.0 1139.5 1586.0 1140.8 1583.5 1144.0 1581.6 1148.5 1580.5 1154.5 1580.1 1189.0 1580.3 1195.6 1581.5 1198.0 1582.6 1199.6 1584.0 1200.4 1585.5 1200.5 1587.0 1198.9 1589.5 1195.0 1591.5ZM1188.5 1591.0 1164.0 1591.4 1151.0 1591.0 1147.0 1590.2 1144.5 1589.1 1142.8 1587.5 1142.6 1586.0 1144.0 1584.0 1147.0 1582.6 1151.0 1581.8 1157.5 1581.5 1188.0 1581.7 1194.0 1582.9 1197.0 1585.0 1197.3 1587.0 1195.7 1589.0 1192.5 1590.3ZM1179.0 1590.0 1152.0 1589.6 1147.0 1588.1 1145.9 1587.0 1145.9 1586.0 1146.6 1585.0 1148.0 1584.2 1152.0 1583.2 1170.0 1582.8 1188.0 1583.2 1192.0 1584.2 1193.4 1585.0 1194.1 1586.0 1193.7 1587.5 1191.0 1589.0 1186.5 1589.8ZM1185.5 1588.5 1156.0 1588.6 1151.5 1588.0 1150.3 1587.5 1149.4 1586.5 1149.9 1585.5 1152.5 1584.6 1161.0 1584.0 1184.0 1584.2 1188.5 1584.8 1190.5 1586.0 1190.4 1587.0 1189.7 1587.5Z"/>
<path stroke="#6e7373" stroke-opacity="0.55" d="M1188.5 1602.0 1150.5 1602.0 1143.0 1601.4 1138.0 1600.3 1132.0 1597.8 1129.0 1595.6 1127.0 1593.5 1125.6 1591.0 1124.7 1588.5 1124.9 1583.5 1125.9 1581.0 1127.7 1578.5 1132.5 1574.7 1138.5 1572.3 1146.5 1571.0 1180.0 1570.7 1194.5 1571.1 1199.5 1571.8 1204.0 1573.1 1207.5 1574.7 1211.0 1577.2 1214.1 1581.0 1215.4 1585.5 1214.9 1590.0 1212.1 1594.5 1208.0 1597.8 1202.5 1600.2 1196.5 1601.4ZM1181.0 1595.5 1153.5 1595.4 1144.0 1594.5 1140.0 1593.1 1136.8 1591.0 1134.9 1588.0 1134.9 1585.0 1135.8 1583.0 1137.2 1581.5 1141.5 1579.1 1147.0 1577.8 1155.5 1577.3 1184.0 1577.3 1193.0 1577.8 1197.0 1578.6 1200.5 1579.9 1203.0 1581.6 1204.8 1584.0 1205.3 1586.5 1204.7 1589.0 1203.0 1591.2 1200.0 1593.1 1193.0 1595.0ZM1191.0 1592.5 1170.0 1593.0 1149.0 1592.5 1144.5 1591.6 1141.5 1590.1 1139.6 1588.0 1139.2 1586.0 1140.5 1583.5 1143.0 1581.8 1147.0 1580.6 1152.5 1580.0 1188.5 1580.1 1194.8 1581.0 1199.0 1583.0 1200.3 1584.5 1200.8 1586.0 1200.6 1587.5 1199.8 1589.0 1196.5 1591.2ZM1189.5 1590.5 1178.0 1590.9 1151.5 1590.6 1147.8 1590.0 1145.2 1589.0 1143.6 1587.5 1143.3 1586.0 1144.5 1584.3 1147.1 1583.0 1151.0 1582.2 1157.0 1581.9 1187.5 1582.1 1193.0 1583.0 1196.2 1585.0 1196.6 1587.0 1195.5 1588.5 1193.0 1589.8Z"/>
</g>
<rect x="1038.2" y="1205.0" width="380.5" height="378.4000000000001" fill="none" stroke="#3a3a3a" stroke-width="1.8"/>
<line x1="1038.2" y1="1396.0" x2="1418.7" y2="1396.0" stroke="#000" stroke-width="2.8"/>
<line x1="1226.8" y1="1205.0" x2="1226.8" y2="1583.4" stroke="#000" stroke-width="2.8"/>
<line x1="1042.9" y1="1583.4" x2="1042.9" y2="1589.0" stroke="#222" stroke-width="1.9"/><line x1="1049.3" y1="1583.4" x2="1049.3" y2="1590.7" stroke="#222" stroke-width="2.0"/><line x1="1054.5" y1="1583.4" x2="1054.5" y2="1589.0" stroke="#222" stroke-width="1.9"/><line x1="1058.9" y1="1583.4" x2="1058.9" y2="1589.0" stroke="#222" stroke-width="1.9"/><line x1="1062.8" y1="1583.4" x2="1062.8" y2="1589.0" stroke="#222" stroke-width="1.9"/><line x1="1066.2" y1="1583.4" x2="1066.2" y2="1589.0" stroke="#222" stroke-width="1.9"/><line x1="1069.2" y1="1583.4" x2="1069.2" y2="1593.9" stroke="#222" stroke-width="2.9"/><line x1="1089.1" y1="1583.4" x2="1089.1" y2="1589.0" stroke="#222" stroke-width="1.9"/><line x1="1100.8" y1="1583.4" x2="1100.8" y2="1589.0" stroke="#222" stroke-width="1.9"/><line x1="1109.1" y1="1583.4" x2="1109.1" y2="1589.0" stroke="#222" stroke-width="1.9"/><line x1="1115.5" y1="1583.4" x2="1115.5" y2="1590.7" stroke="#222" stroke-width="2.0"/><line x1="1120.7" y1="1583.4" x2="1120.7" y2="1589.0" stroke="#222" stroke-width="1.9"/><line x1="1125.1" y1="1583.4" x2="1125.1" y2="1589.0" stroke="#222" stroke-width="1.9"/><line x1="1129.0" y1="1583.4" x2="1129.0" y2="1589.0" stroke="#222" stroke-width="1.9"/><line x1="1132.4" y1="1583.4" x2="1132.4" y2="1589.0" stroke="#222" stroke-width="1.9"/><line x1="1135.4" y1="1583.4" x2="1135.4" y2="1593.9" stroke="#222" stroke-width="2.9"/><line x1="1155.3" y1="1583.4" x2="1155.3" y2="1589.0" stroke="#222" stroke-width="1.9"/><line x1="1167.0" y1="1583.4" x2="1167.0" y2="1589.0" stroke="#222" stroke-width="1.9"/><line x1="1175.3" y1="1583.4" x2="1175.3" y2="1589.0" stroke="#222" stroke-width="1.9"/><line x1="1181.7" y1="1583.4" x2="1181.7" y2="1590.7" stroke="#222" stroke-width="2.0"/><line x1="1186.9" y1="1583.4" x2="1186.9" y2="1589.0" stroke="#222" stroke-width="1.9"/><line x1="1191.3" y1="1583.4" x2="1191.3" y2="1589.0" stroke="#222" stroke-width="1.9"/><line x1="1195.2" y1="1583.4" x2="1195.2" y2="1589.0" stroke="#222" stroke-width="1.9"/><line x1="1198.6" y1="1583.4" x2="1198.6" y2="1589.0" stroke="#222" stroke-width="1.9"/><line x1="1201.6" y1="1583.4" x2="1201.6" y2="1593.9" stroke="#222" stroke-width="2.9"/><line x1="1221.5" y1="1583.4" x2="1221.5" y2="1589.0" stroke="#222" stroke-width="1.9"/><line x1="1233.2" y1="1583.4" x2="1233.2" y2="1589.0" stroke="#222" stroke-width="1.9"/><line x1="1241.5" y1="1583.4" x2="1241.5" y2="1589.0" stroke="#222" stroke-width="1.9"/><line x1="1247.9" y1="1583.4" x2="1247.9" y2="1590.7" stroke="#222" stroke-width="2.0"/><line x1="1253.1" y1="1583.4" x2="1253.1" y2="1589.0" stroke="#222" stroke-width="1.9"/><line x1="1257.5" y1="1583.4" x2="1257.5" y2="1589.0" stroke="#222" stroke-width="1.9"/><line x1="1261.4" y1="1583.4" x2="1261.4" y2="1589.0" stroke="#222" stroke-width="1.9"/><line x1="1264.8" y1="1583.4" x2="1264.8" y2="1589.0" stroke="#222" stroke-width="1.9"/><line x1="1267.8" y1="1583.4" x2="1267.8" y2="1593.9" stroke="#222" stroke-width="2.9"/><line x1="1287.7" y1="1583.4" x2="1287.7" y2="1589.0" stroke="#222" stroke-width="1.9"/><line x1="1299.4" y1="1583.4" x2="1299.4" y2="1589.0" stroke="#222" stroke-width="1.9"/><line x1="1307.7" y1="1583.4" x2="1307.7" y2="1589.0" stroke="#222" stroke-width="1.9"/><line x1="1314.1" y1="1583.4" x2="1314.1" y2="1590.7" stroke="#222" stroke-width="2.0"/><line x1="1319.3" y1="1583.4" x2="1319.3" y2="1589.0" stroke="#222" stroke-width="1.9"/><line x1="1323.7" y1="1583.4" x2="1323.7" y2="1589.0" stroke="#222" stroke-width="1.9"/><line x1="1327.6" y1="1583.4" x2="1327.6" y2="1589.0" stroke="#222" stroke-width="1.9"/><line x1="1331.0" y1="1583.4" x2="1331.0" y2="1589.0" stroke="#222" stroke-width="1.9"/><line x1="1334.0" y1="1583.4" x2="1334.0" y2="1593.9" stroke="#222" stroke-width="2.9"/><line x1="1353.9" y1="1583.4" x2="1353.9" y2="1589.0" stroke="#222" stroke-width="1.9"/><line x1="1365.6" y1="1583.4" x2="1365.6" y2="1589.0" stroke="#222" stroke-width="1.9"/><line x1="1373.9" y1="1583.4" x2="1373.9" y2="1589.0" stroke="#222" stroke-width="1.9"/><line x1="1380.3" y1="1583.4" x2="1380.3" y2="1590.7" stroke="#222" stroke-width="2.0"/><line x1="1385.5" y1="1583.4" x2="1385.5" y2="1589.0" stroke="#222" stroke-width="1.9"/><line x1="1389.9" y1="1583.4" x2="1389.9" y2="1589.0" stroke="#222" stroke-width="1.9"/><line x1="1393.8" y1="1583.4" x2="1393.8" y2="1589.0" stroke="#222" stroke-width="1.9"/><line x1="1397.2" y1="1583.4" x2="1397.2" y2="1589.0" stroke="#222" stroke-width="1.9"/><line x1="1400.2" y1="1583.4" x2="1400.2" y2="1593.9" stroke="#222" stroke-width="2.9"/><line x1="1026.6" y1="1582.0" x2="1038.2" y2="1582.0" stroke="#222" stroke-width="2.9"/><line x1="1032.4" y1="1562.1" x2="1038.2" y2="1562.1" stroke="#222" stroke-width="1.9"/><line x1="1032.4" y1="1550.4" x2="1038.2" y2="1550.4" stroke="#222" stroke-width="1.9"/><line x1="1032.4" y1="1542.1" x2="1038.2" y2="1542.1" stroke="#222" stroke-width="1.9"/><line x1="1030.0" y1="1535.7" x2="1038.2" y2="1535.7" stroke="#222" stroke-width="2.0"/><line x1="1032.4" y1="1530.5" x2="1038.2" y2="1530.5" stroke="#222" stroke-width="1.9"/><line x1="1032.4" y1="1526.1" x2="1038.2" y2="1526.1" stroke="#222" stroke-width="1.9"/><line x1="1032.4" y1="1522.2" x2="1038.2" y2="1522.2" stroke="#222" stroke-width="1.9"/><line x1="1032.4" y1="1518.8" x2="1038.2" y2="1518.8" stroke="#222" stroke-width="1.9"/><line x1="1026.6" y1="1515.8" x2="1038.2" y2="1515.8" stroke="#222" stroke-width="2.9"/><line x1="1032.4" y1="1495.9" x2="1038.2" y2="1495.9" stroke="#222" stroke-width="1.9"/><line x1="1032.4" y1="1484.2" x2="1038.2" y2="1484.2" stroke="#222" stroke-width="1.9"/><line x1="1032.4" y1="1475.9" x2="1038.2" y2="1475.9" stroke="#222" stroke-width="1.9"/><line x1="1030.0" y1="1469.5" x2="1038.2" y2="1469.5" stroke="#222" stroke-width="2.0"/><line x1="1032.4" y1="1464.3" x2="1038.2" y2="1464.3" stroke="#222" stroke-width="1.9"/><line x1="1032.4" y1="1459.9" x2="1038.2" y2="1459.9" stroke="#222" stroke-width="1.9"/><line x1="1032.4" y1="1456.0" x2="1038.2" y2="1456.0" stroke="#222" stroke-width="1.9"/><line x1="1032.4" y1="1452.6" x2="1038.2" y2="1452.6" stroke="#222" stroke-width="1.9"/><line x1="1026.6" y1="1449.6" x2="1038.2" y2="1449.6" stroke="#222" stroke-width="2.9"/><line x1="1032.4" y1="1429.7" x2="1038.2" y2="1429.7" stroke="#222" stroke-width="1.9"/><line x1="1032.4" y1="1418.0" x2="1038.2" y2="1418.0" stroke="#222" stroke-width="1.9"/><line x1="1032.4" y1="1409.7" x2="1038.2" y2="1409.7" stroke="#222" stroke-width="1.9"/><line x1="1030.0" y1="1403.3" x2="1038.2" y2="1403.3" stroke="#222" stroke-width="2.0"/><line x1="1032.4" y1="1398.1" x2="1038.2" y2="1398.1" stroke="#222" stroke-width="1.9"/><line x1="1032.4" y1="1393.7" x2="1038.2" y2="1393.7" stroke="#222" stroke-width="1.9"/><line x1="1032.4" y1="1389.8" x2="1038.2" y2="1389.8" stroke="#222" stroke-width="1.9"/><line x1="1032.4" y1="1386.4" x2="1038.2" y2="1386.4" stroke="#222" stroke-width="1.9"/><line x1="1026.6" y1="1383.4" x2="1038.2" y2="1383.4" stroke="#222" stroke-width="2.9"/><line x1="1032.4" y1="1363.5" x2="1038.2" y2="1363.5" stroke="#222" stroke-width="1.9"/><line x1="1032.4" y1="1351.8" x2="1038.2" y2="1351.8" stroke="#222" stroke-width="1.9"/><line x1="1032.4" y1="1343.5" x2="1038.2" y2="1343.5" stroke="#222" stroke-width="1.9"/><line x1="1030.0" y1="1337.1" x2="1038.2" y2="1337.1" stroke="#222" stroke-width="2.0"/><line x1="1032.4" y1="1331.9" x2="1038.2" y2="1331.9" stroke="#222" stroke-width="1.9"/><line x1="1032.4" y1="1327.5" x2="1038.2" y2="1327.5" stroke="#222" stroke-width="1.9"/><line x1="1032.4" y1="1323.6" x2="1038.2" y2="1323.6" stroke="#222" stroke-width="1.9"/><line x1="1032.4" y1="1320.2" x2="1038.2" y2="1320.2" stroke="#222" stroke-width="1.9"/><line x1="1026.6" y1="1317.2" x2="1038.2" y2="1317.2" stroke="#222" stroke-width="2.9"/><line x1="1032.4" y1="1297.3" x2="1038.2" y2="1297.3" stroke="#222" stroke-width="1.9"/><line x1="1032.4" y1="1285.6" x2="1038.2" y2="1285.6" stroke="#222" stroke-width="1.9"/><line x1="1032.4" y1="1277.3" x2="1038.2" y2="1277.3" stroke="#222" stroke-width="1.9"/><line x1="1030.0" y1="1270.9" x2="1038.2" y2="1270.9" stroke="#222" stroke-width="2.0"/><line x1="1032.4" y1="1265.7" x2="1038.2" y2="1265.7" stroke="#222" stroke-width="1.9"/><line x1="1032.4" y1="1261.3" x2="1038.2" y2="1261.3" stroke="#222" stroke-width="1.9"/><line x1="1032.4" y1="1257.4" x2="1038.2" y2="1257.4" stroke="#222" stroke-width="1.9"/><line x1="1032.4" y1="1254.0" x2="1038.2" y2="1254.0" stroke="#222" stroke-width="1.9"/><line x1="1026.6" y1="1251.0" x2="1038.2" y2="1251.0" stroke="#222" stroke-width="2.9"/><line x1="1032.4" y1="1231.1" x2="1038.2" y2="1231.1" stroke="#222" stroke-width="1.9"/><line x1="1032.4" y1="1219.4" x2="1038.2" y2="1219.4" stroke="#222" stroke-width="1.9"/><line x1="1032.4" y1="1211.1" x2="1038.2" y2="1211.1" stroke="#222" stroke-width="1.9"/>
<text transform="matrix(0.01213 0.00000 0.00000 0.01382 1070.13 1616.56)" font-family="Liberation Sans" font-weight="normal" font-size="1000" fill="#4a4a4a"  stroke="#4a4a4a" stroke-width="34.8">10</text><text transform="matrix(0.01446 0.00000 0.00000 0.01526 1083.58 1607.60)" font-family="Liberation Sans" font-weight="normal" font-size="1000" fill="#4a4a4a"  stroke="#4a4a4a" stroke-width="30.3">2</text><text transform="matrix(0.01213 0.00000 0.00000 0.01382 1136.33 1616.56)" font-family="Liberation Sans" font-weight="normal" font-size="1000" fill="#4a4a4a"  stroke="#4a4a4a" stroke-width="34.8">10</text><text transform="matrix(0.01386 0.00000 0.00000 0.01505 1149.98 1607.45)" font-family="Liberation Sans" font-weight="normal" font-size="1000" fill="#4a4a4a"  stroke="#4a4a4a" stroke-width="31.2">3</text><text transform="matrix(0.01213 0.00000 0.00000 0.01382 1202.53 1616.56)" font-family="Liberation Sans" font-weight="normal" font-size="1000" fill="#4a4a4a"  stroke="#4a4a4a" stroke-width="34.8">10</text><text transform="matrix(0.01303 0.00000 0.00000 0.01549 1216.41 1607.60)" font-family="Liberation Sans" font-weight="normal" font-size="1000" fill="#4a4a4a"  stroke="#4a4a4a" stroke-width="31.7">4</text><text transform="matrix(0.01213 0.00000 0.00000 0.01382 1268.73 1616.56)" font-family="Liberation Sans" font-weight="normal" font-size="1000" fill="#4a4a4a"  stroke="#4a4a4a" stroke-width="34.8">10</text><text transform="matrix(0.01386 0.00000 0.00000 0.01526 1282.34 1607.44)" font-family="Liberation Sans" font-weight="normal" font-size="1000" fill="#4a4a4a"  stroke="#4a4a4a" stroke-width="30.9">5</text><text transform="matrix(0.01213 0.00000 0.00000 0.01382 1334.93 1616.56)" font-family="Liberation Sans" font-weight="normal" font-size="1000" fill="#4a4a4a"  stroke="#4a4a4a" stroke-width="34.8">10</text><text transform="matrix(0.01423 0.00000 0.00000 0.01505 1348.39 1607.45)" font-family="Liberation Sans" font-weight="normal" font-size="1000" fill="#4a4a4a"  stroke="#4a4a4a" stroke-width="30.8">6</text><text transform="matrix(0.01213 0.00000 0.00000 0.01382 1401.13 1616.56)" font-family="Liberation Sans" font-weight="normal" font-size="1000" fill="#4a4a4a"  stroke="#4a4a4a" stroke-width="34.8">10</text><text transform="matrix(0.01454 0.00000 0.00000 0.01549 1414.53 1607.60)" font-family="Liberation Sans" font-weight="normal" font-size="1000" fill="#4a4a4a"  stroke="#4a4a4a" stroke-width="30.0">7</text><text transform="matrix(0.01106 0.00000 0.00000 0.01409 999.62 1590.57)" font-family="Liberation Sans" font-weight="normal" font-size="1000" fill="#4a4a4a"  stroke="#4a4a4a" stroke-width="36.0">10</text><text transform="matrix(0.01477 0.00000 0.00000 0.01549 1012.03 1582.00)" font-family="Liberation Sans" font-weight="normal" font-size="1000" fill="#4a4a4a"  stroke="#4a4a4a" stroke-width="29.8">1</text><text transform="matrix(0.01106 0.00000 0.00000 0.01409 999.62 1524.37)" font-family="Liberation Sans" font-weight="normal" font-size="1000" fill="#4a4a4a"  stroke="#4a4a4a" stroke-width="36.0">10</text><text transform="matrix(0.01404 0.00000 0.00000 0.01526 1012.43 1515.80)" font-family="Liberation Sans" font-weight="normal" font-size="1000" fill="#4a4a4a"  stroke="#4a4a4a" stroke-width="30.7">2</text><text transform="matrix(0.01106 0.00000 0.00000 0.01409 999.62 1458.17)" font-family="Liberation Sans" font-weight="normal" font-size="1000" fill="#4a4a4a"  stroke="#4a4a4a" stroke-width="36.0">10</text><text transform="matrix(0.01345 0.00000 0.00000 0.01505 1012.63 1449.45)" font-family="Liberation Sans" font-weight="normal" font-size="1000" fill="#4a4a4a"  stroke="#4a4a4a" stroke-width="31.6">3</text><text transform="matrix(0.01106 0.00000 0.00000 0.01409 999.62 1391.97)" font-family="Liberation Sans" font-weight="normal" font-size="1000" fill="#4a4a4a"  stroke="#4a4a4a" stroke-width="36.0">10</text><text transform="matrix(0.01265 0.00000 0.00000 0.01549 1012.85 1383.40)" font-family="Liberation Sans" font-weight="normal" font-size="1000" fill="#4a4a4a"  stroke="#4a4a4a" stroke-width="32.2">4</text><text transform="matrix(0.01106 0.00000 0.00000 0.01409 999.62 1325.77)" font-family="Liberation Sans" font-weight="normal" font-size="1000" fill="#4a4a4a"  stroke="#4a4a4a" stroke-width="36.0">10</text><text transform="matrix(0.01345 0.00000 0.00000 0.01526 1012.60 1317.05)" font-family="Liberation Sans" font-weight="normal" font-size="1000" fill="#4a4a4a"  stroke="#4a4a4a" stroke-width="31.4">5</text><text transform="matrix(0.01106 0.00000 0.00000 0.01409 999.62 1259.57)" font-family="Liberation Sans" font-weight="normal" font-size="1000" fill="#4a4a4a"  stroke="#4a4a4a" stroke-width="36.0">10</text><text transform="matrix(0.01381 0.00000 0.00000 0.01505 1012.44 1250.85)" font-family="Liberation Sans" font-weight="normal" font-size="1000" fill="#4a4a4a"  stroke="#4a4a4a" stroke-width="31.2">6</text>
<text transform="matrix(0.02022 0.00000 0.00000 0.02091 1044.36 1240.23)" font-family="Liberation Sans" font-weight="bold" font-size="1000" fill="#000" >Q1</text>
<text transform="matrix(0.02022 0.00000 0.00000 0.02091 1043.69 1267.72)" font-family="Liberation Sans" font-weight="bold" font-size="1000" fill="#000" >28.3%</text>
<text transform="matrix(0.02022 0.00000 0.00000 0.02091 1354.83 1239.65)" font-family="Liberation Sans" font-weight="bold" font-size="1000" fill="#000" >Q2</text>
<text transform="matrix(0.02022 0.00000 0.00000 0.02091 1324.15 1267.52)" font-family="Liberation Sans" font-weight="bold" font-size="1000" fill="#000" >16.4%</text>
<text transform="matrix(0.02022 0.00000 0.00000 0.02091 1354.72 1534.04)" font-family="Liberation Sans" font-weight="bold" font-size="1000" fill="#000" >Q3</text>
<text transform="matrix(0.02022 0.00000 0.00000 0.02091 1324.15 1563.08)" font-family="Liberation Sans" font-weight="bold" font-size="1000" fill="#000" >5.77%</text>
<text transform="matrix(0.02022 0.00000 0.00000 0.02091 1044.17 1534.04)" font-family="Liberation Sans" font-weight="bold" font-size="1000" fill="#000" >Q4</text>
<text transform="matrix(0.02022 0.00000 0.00000 0.02091 1044.09 1563.08)" font-family="Liberation Sans" font-weight="bold" font-size="1000" fill="#000" >49.5%</text>
<text transform="matrix(0.02718 0.00000 0.00000 0.02468 1143.73 1665.61)" font-family="Liberation Sans" font-weight="bold" font-size="1000" fill="#000" >PE: AE1/AE3</text>
<text transform="matrix(0.00000 -0.02706 0.02370 0.00000 947.60 1480.28)" font-family="Liberation Sans" font-weight="bold" font-size="1000" fill="#000" >APC: CD140b</text>
<text transform="matrix(0.06780 0.00000 0.00000 0.07297 447.91 1916.00)" font-family="Liberation Sans" font-weight="normal" font-size="1000" fill="#000" stroke="#fff" stroke-width="30.1">2D</text>
<linearGradient id="P5g" x1="0" y1="0" x2="0" y2="1"><stop offset="0" stop-color="#f4f4f4"/><stop offset="1" stop-color="#e2e2e2"/></linearGradient>
<rect x="352" y="1937.7" width="392.20000000000005" height="68.29999999999995" fill="#fff"/>
<rect x="374.4" y="1937.7" width="369.80000000000007" height="22.399999999999864" fill="url(#P5g)"/>
<rect x="352" y="1937.7" width="392.20000000000005" height="68.29999999999995" rx="2" fill="none" stroke="#4a4a4a" stroke-width="1.9"/>
<line x1="374.4" y1="1937.7" x2="374.4" y2="2006" stroke="#4a4a4a" stroke-width="1.9"/>
<line x1="577.1" y1="1937.7" x2="577.1" y2="2006" stroke="#4a4a4a" stroke-width="1.9"/>
<line x1="678.3" y1="1937.7" x2="678.3" y2="2006" stroke="#4a4a4a" stroke-width="1.9"/>
<line x1="352" y1="1960.1" x2="744.2" y2="1960.1" stroke="#4a4a4a" stroke-width="1.9"/>
<line x1="352" y1="1983" x2="744.2" y2="1983" stroke="#4a4a4a" stroke-width="1.9"/>
<rect x="355.2" y="1963.9" width="13.7" height="13.3" fill="#636363"/>
<rect x="355.2" y="1985.6" width="13.7" height="15.3" fill="#ff2525"/>
<text transform="matrix(0.01464 0.00000 0.00000 0.01392 429.36 1953.09)" font-family="Liberation Sans" font-weight="normal" font-size="1000" fill="#1a1a1a"  stroke="#1a1a1a" stroke-width="21.0">Sample Name</text>
<text transform="matrix(0.01482 0.00000 0.00000 0.01392 582.79 1953.09)" font-family="Liberation Sans" font-weight="normal" font-size="1000" fill="#1a1a1a"  stroke="#1a1a1a" stroke-width="20.9">Subset Name</text>
<text transform="matrix(0.01542 0.00000 0.00000 0.01392 690.35 1953.09)" font-family="Liberation Sans" font-weight="normal" font-size="1000" fill="#1a1a1a"  stroke="#1a1a1a" stroke-width="20.5">Count</text>
<text transform="matrix(0.01454 0.00000 0.00000 0.01392 380.27 1976.02)" font-family="Liberation Sans" font-weight="normal" font-size="1000" fill="#1a1a1a"  stroke="#1a1a1a" stroke-width="21.1">A07 1216-2D IgG.fcs</text>
<text transform="matrix(0.01397 0.00000 0.00000 0.01392 583.28 1976.02)" font-family="Liberation Sans" font-weight="normal" font-size="1000" fill="#1a1a1a"  stroke="#1a1a1a" stroke-width="21.5">SSC-SC</text>
<text transform="matrix(0.01372 0.00000 0.00000 0.01392 699.43 1976.02)" font-family="Liberation Sans" font-weight="normal" font-size="1000" fill="#1a1a1a"  stroke="#1a1a1a" stroke-width="21.7">17306</text>
<text transform="matrix(0.01454 0.00000 0.00000 0.01392 380.27 1998.92)" font-family="Liberation Sans" font-weight="normal" font-size="1000" fill="#1a1a1a"  stroke="#1a1a1a" stroke-width="21.1">A08 1216-2D Ab.fcs</text>
<text transform="matrix(0.01397 0.00000 0.00000 0.01392 583.28 1998.92)" font-family="Liberation Sans" font-weight="normal" font-size="1000" fill="#1a1a1a"  stroke="#1a1a1a" stroke-width="21.5">SSC-SC</text>
<text transform="matrix(0.01372 0.00000 0.00000 0.01392 699.43 1998.92)" font-family="Liberation Sans" font-weight="normal" font-size="1000" fill="#1a1a1a"  stroke="#1a1a1a" stroke-width="21.7">17316</text>
<clipPath id="P5c"><rect x="349.2" y="2010.0" width="393.2" height="391.0"/></clipPath>
<g clip-path="url(#P5c)" fill="none" stroke-width="1.3" stroke-linejoin="round">
<path stroke="#ff3c3c" stroke-opacity="0.6" d="M469.5 2326.1 457.0 2326.4 445.0 2324.8 433.5 2320.8 427.5 2317.8 422.0 2314.3 413.0 2306.7 409.4 2302.5 406.4 2298.0 404.1 2293.5 402.5 2288.5 401.6 2283.5 401.4 2278.5 402.9 2269.5 406.4 2260.5 414.8 2246.5 424.1 2233.5 440.8 2213.5 458.0 2195.1 468.5 2185.7 472.0 2183.7 475.5 2183.0 477.5 2183.5 480.0 2185.2 484.0 2190.5 490.3 2204.5 497.2 2223.0 503.8 2243.5 508.2 2260.5 511.4 2279.0 511.8 2288.0 510.8 2295.5 508.5 2302.5 505.0 2308.5 500.0 2314.0 494.0 2318.4 487.0 2321.9 478.5 2324.5ZM466.5 2315.0 456.5 2315.4 447.0 2314.1 437.0 2310.3 428.6 2305.0 421.6 2298.5 416.5 2291.0 413.6 2283.0 413.0 2274.5 414.3 2266.5 417.4 2258.5 424.2 2246.5 434.1 2232.5 446.2 2218.0 457.5 2206.4 466.0 2199.7 469.5 2198.0 472.5 2197.5 474.5 2198.0 476.5 2199.3 481.1 2205.0 485.8 2214.0 490.9 2227.0 495.8 2242.5 499.3 2257.0 501.3 2269.5 502.0 2281.5 501.1 2288.0 499.1 2294.0 496.0 2299.4 492.0 2304.1 487.0 2308.0 481.0 2311.2 474.0 2313.6ZM465.5 2309.5 456.5 2309.9 448.0 2308.7 439.5 2305.4 432.0 2300.5 425.9 2294.5 421.4 2287.5 419.0 2280.0 418.5 2272.5 420.1 2264.0 423.8 2255.5 430.2 2244.5 438.4 2233.0 448.5 2221.0 458.0 2211.7 465.5 2206.3 468.5 2205.1 471.0 2204.7 473.0 2205.3 475.0 2206.6 479.2 2211.5 483.3 2219.0 487.8 2230.0 491.9 2243.0 495.1 2256.5 496.8 2268.0 497.2 2278.5 496.3 2284.5 494.5 2290.0 491.7 2295.0 488.0 2299.4 483.5 2303.0 478.0 2306.1 472.0 2308.2ZM460.5 2306.0 452.5 2305.7 446.0 2304.0 438.5 2300.3 432.4 2295.5 427.6 2290.0 424.2 2283.5 422.6 2277.0 422.5 2270.0 424.3 2262.0 428.2 2253.5 434.2 2243.5 441.9 2233.0 450.5 2223.0 458.5 2215.5 465.0 2211.2 467.5 2210.2 470.0 2209.9 472.0 2210.5 474.0 2211.8 478.0 2216.4 482.1 2224.0 486.1 2234.0 489.8 2246.0 492.4 2258.0 493.7 2268.5 493.7 2278.0 492.6 2283.5 490.5 2289.0 487.5 2293.6 483.5 2297.7 478.5 2301.1 473.0 2303.6 467.0 2305.2ZM463.5 2302.5 456.0 2302.9 449.5 2301.8 442.5 2298.9 436.5 2294.9 431.3 2289.5 427.8 2283.5 425.8 2277.0 425.4 2270.5 426.8 2263.0 429.9 2255.5 435.3 2246.0 442.4 2236.0 450.0 2227.0 457.5 2219.8 464.0 2215.4 466.5 2214.4 469.0 2214.1 472.5 2215.5 476.5 2219.7 480.2 2226.0 483.7 2234.5 487.2 2245.5 489.6 2256.0 490.9 2266.0 491.1 2275.0 490.4 2280.0 488.8 2285.0 486.3 2289.5 483.0 2293.5 479.0 2296.8 474.5 2299.4 469.5 2301.3ZM461.5 2300.1 454.5 2300.1 449.0 2298.9 442.5 2295.8 437.0 2291.7 432.6 2286.5 429.7 2281.0 428.2 2275.0 428.0 2269.0 429.3 2262.5 432.7 2254.5 437.9 2245.5 444.4 2236.5 451.5 2228.4 458.0 2222.4 464.0 2218.6 468.5 2217.7 472.0 2219.3 475.5 2223.0 479.0 2229.0 482.6 2237.5 485.6 2247.5 487.7 2257.0 488.8 2266.5 488.8 2274.5 487.9 2279.5 486.3 2284.0 483.9 2288.0 480.5 2291.9 476.5 2295.0 472.0 2297.4 467.0 2299.1ZM462.5 2297.5 456.0 2297.8 450.5 2296.9 444.5 2294.3 439.3 2290.5 435.2 2286.0 432.1 2280.5 430.5 2274.5 430.3 2268.5 431.6 2262.0 434.5 2255.0 439.4 2246.5 445.5 2238.0 452.0 2230.5 458.0 2225.1 463.5 2221.7 468.0 2220.9 471.5 2222.6 474.7 2226.0 478.0 2231.6 481.1 2239.0 483.9 2248.0 485.8 2257.0 486.8 2265.5 486.8 2273.0 486.1 2277.5 484.6 2282.0 482.3 2286.0 479.5 2289.4 476.0 2292.4 472.0 2294.7 467.5 2296.4ZM460.5 2295.5 454.5 2295.5 450.0 2294.4 444.5 2291.7 439.9 2288.0 436.2 2283.5 433.7 2278.5 432.4 2273.0 432.4 2267.5 433.7 2261.5 436.7 2254.5 441.3 2246.5 447.0 2238.7 453.0 2232.0 458.5 2227.3 463.5 2224.4 467.5 2223.8 470.8 2225.5 474.0 2228.9 477.0 2234.0 479.9 2241.0 482.4 2249.0 484.1 2257.5 485.0 2265.5 485.0 2272.5 484.1 2277.0 482.7 2281.0 480.5 2284.7 477.5 2288.2 474.0 2290.9 470.0 2293.1 465.5 2294.7ZM460.0 2293.5 454.5 2293.4 450.0 2292.2 445.0 2289.6 441.0 2286.2 437.7 2282.0 435.5 2277.5 434.3 2272.5 434.2 2267.0 435.4 2261.5 438.2 2255.0 442.2 2248.0 447.5 2240.6 453.0 2234.4 458.0 2230.0 462.5 2227.4 466.5 2226.5 469.5 2227.7 472.9 2231.0 475.9 2236.0 478.5 2242.0 480.8 2249.5 482.5 2257.5 483.3 2265.0 483.2 2272.0 482.5 2276.0 480.9 2280.0 478.8 2283.5 476.0 2286.7 472.5 2289.4 469.0 2291.3 464.5 2292.8ZM460.5 2291.5 455.5 2291.6 451.5 2290.7 446.9 2288.5 442.5 2285.0 439.4 2281.0 437.2 2276.5 436.1 2272.0 436.0 2267.0 437.0 2262.0 439.4 2256.0 443.3 2249.0 448.0 2242.4 453.0 2236.7 458.0 2232.3 462.5 2229.7 466.0 2229.1 469.0 2230.3 472.0 2233.3 474.7 2237.5 477.3 2243.5 479.5 2250.5 480.9 2257.5 481.7 2264.5 481.6 2271.0 480.9 2275.0 479.6 2278.5 477.5 2282.0 475.0 2284.9 472.0 2287.3 468.5 2289.3 464.5 2290.7ZM461.0 2289.6 456.5 2289.8 452.5 2289.1 448.0 2287.0 444.2 2284.0 441.2 2280.5 439.0 2276.2 437.8 2271.5 437.6 2267.0 438.6 2262.0 440.8 2256.5 444.3 2250.0 448.5 2244.0 453.5 2238.4 458.0 2234.5 462.0 2232.2 465.5 2231.6 468.0 2232.5 471.0 2235.2 473.5 2239.0 476.0 2244.5 478.1 2251.0 479.4 2257.5 480.1 2264.0 480.1 2270.0 479.5 2273.5 478.3 2277.0 476.5 2280.2 474.2 2283.0 468.5 2287.2 465.0 2288.6ZM462.0 2287.5 457.5 2288.0 453.5 2287.5 449.5 2285.8 446.0 2283.2 443.0 2279.9 440.8 2276.0 439.5 2271.5 439.3 2267.0 440.0 2262.5 442.1 2257.0 445.4 2251.0 449.2 2245.5 453.5 2240.6 457.5 2237.0 461.5 2234.7 465.0 2234.0 467.5 2234.9 470.0 2237.2 472.5 2240.8 474.7 2245.5 476.5 2251.0 477.9 2257.0 478.6 2263.0 478.6 2268.5 477.3 2275.0 475.8 2278.0 473.6 2281.0 468.5 2285.1ZM460.0 2286.0 456.0 2286.1 453.0 2285.4 449.2 2283.5 446.0 2280.7 443.6 2277.5 441.9 2274.0 441.0 2270.0 440.9 2266.0 441.7 2262.0 443.9 2256.5 447.0 2251.1 450.5 2246.2 454.3 2242.0 458.0 2238.9 461.5 2237.0 464.5 2236.5 467.0 2237.4 469.5 2239.7 471.7 2243.0 473.8 2247.5 475.5 2253.0 476.6 2258.5 477.1 2264.0 477.0 2269.0 475.4 2275.0 473.7 2278.0 471.6 2280.5 466.5 2284.1ZM461.0 2284.1 457.0 2284.4 454.0 2283.9 450.5 2282.2 447.8 2280.0 445.3 2277.0 443.6 2273.5 442.7 2270.0 442.5 2266.0 443.1 2262.5 445.0 2257.5 447.8 2252.5 451.0 2247.9 454.5 2244.0 458.0 2241.1 461.0 2239.4 464.0 2238.9 466.0 2239.5 468.5 2241.7 470.5 2244.5 472.4 2248.5 475.0 2258.0 475.6 2267.5 474.3 2273.5 471.1 2278.5 466.5 2282.1ZM458.5 2282.5 455.5 2282.3 452.5 2281.2 449.9 2279.5 447.5 2277.0 445.7 2274.0 444.6 2271.0 444.1 2268.0 444.3 2264.5 445.2 2261.0 447.2 2256.5 452.5 2248.5 455.5 2245.3 458.5 2243.0 461.5 2241.6 464.0 2241.4 466.0 2242.4 468.0 2244.3 470.0 2247.3 471.6 2251.0 473.8 2260.0 473.9 2268.5 472.4 2273.5 469.0 2278.0 464.0 2281.3ZM459.5 2280.5 456.5 2280.6 454.5 2280.1 452.0 2278.7 449.5 2276.5 447.7 2274.0 446.4 2271.0 445.8 2265.0 446.5 2262.0 448.1 2258.0 452.9 2250.5 458.0 2245.7 460.5 2244.3 463.0 2243.9 464.8 2244.5 466.6 2246.0 470.0 2251.6 472.1 2259.5 472.4 2267.5 471.1 2272.0 468.4 2276.0 464.4 2279.0ZM459.0 2278.6 456.5 2278.5 454.5 2277.9 450.5 2274.7 448.0 2270.0 447.6 2265.0 449.4 2259.0 453.5 2252.5 458.0 2248.2 460.5 2246.9 462.5 2246.6 464.0 2247.1 466.0 2248.8 468.7 2253.5 470.4 2260.0 470.7 2267.0 469.6 2271.0 467.0 2274.7 463.5 2277.2ZM460.5 2276.1 456.5 2276.2 452.7 2274.0 450.2 2270.0 449.4 2265.0 451.0 2259.8 454.5 2254.3 458.5 2250.7 462.0 2249.6 464.5 2251.0 467.0 2254.8 468.5 2260.0 468.9 2265.5 468.2 2269.0 466.5 2272.1 463.9 2274.5ZM460.0 2273.6 457.0 2273.7 454.0 2271.8 452.1 2268.5 451.6 2265.0 452.8 2261.0 455.2 2257.0 458.0 2254.2 461.0 2253.1 463.0 2253.9 465.0 2256.6 466.3 2260.5 466.7 2265.0 466.2 2268.0 464.7 2270.5 462.5 2272.5ZM460.0 2270.0 458.0 2270.3 456.5 2269.5 455.0 2267.5 454.6 2265.0 455.1 2263.0 456.5 2260.4 458.4 2258.5 460.0 2257.8 461.5 2258.4 462.5 2259.6 463.4 2262.0 463.7 2264.5 463.4 2266.5 462.6 2268.0Z"/>
<path stroke="#6e7373" stroke-opacity="0.55" d="M463.5 2335.5 451.5 2335.7 446.5 2335.1 441.0 2333.8 430.0 2329.3 420.6 2323.0 413.2 2315.5 410.0 2311.0 407.7 2306.5 404.6 2297.0 404.0 2292.0 403.9 2286.5 405.4 2276.0 409.2 2265.0 415.2 2253.5 424.6 2239.5 438.8 2222.0 452.5 2207.7 458.0 2202.9 462.5 2199.8 466.5 2197.9 470.0 2197.3 472.5 2198.0 475.0 2199.6 478.0 2202.6 480.9 2206.5 487.7 2218.5 494.7 2234.0 500.8 2250.5 505.3 2266.0 507.8 2279.5 508.2 2290.5 507.1 2299.5 504.7 2307.5 500.7 2315.0 495.5 2321.4 489.0 2326.7 481.5 2330.8 473.0 2333.8ZM458.0 2324.0 449.0 2323.6 441.0 2321.3 432.5 2316.9 425.5 2311.1 420.3 2304.5 416.7 2297.0 414.8 2289.0 414.7 2280.0 416.4 2270.5 420.2 2260.5 426.3 2249.5 434.3 2238.0 444.5 2225.9 454.0 2216.6 458.5 2213.3 462.0 2211.3 465.0 2210.2 468.0 2209.9 470.5 2210.7 473.0 2212.3 478.0 2217.7 483.4 2226.5 488.9 2238.5 493.7 2252.0 497.1 2265.0 498.9 2276.5 498.9 2286.0 497.6 2293.5 495.0 2301.0 491.2 2307.5 486.5 2312.7 480.5 2317.3 473.5 2320.8 466.0 2323.0ZM458.5 2318.0 450.0 2317.7 443.0 2315.7 435.5 2311.7 429.5 2306.6 424.8 2300.5 421.5 2293.5 419.9 2286.0 419.8 2278.0 421.3 2269.5 424.6 2260.5 430.0 2250.5 437.3 2240.0 445.6 2230.0 454.0 2222.1 461.0 2217.5 464.0 2216.5 466.5 2216.2 468.5 2216.6 471.0 2217.9 475.8 2222.5 480.7 2230.0 485.2 2239.5 489.7 2251.5 492.7 2263.0 494.3 2273.5 494.4 2282.5 493.2 2290.0 490.9 2296.5 487.9 2302.0 483.5 2307.2 478.5 2311.3 472.5 2314.6 466.0 2316.9ZM460.5 2313.6 453.0 2313.8 446.5 2312.5 439.5 2309.3 433.3 2304.5 428.8 2299.0 425.4 2292.5 423.6 2285.5 423.3 2277.5 424.6 2269.5 427.3 2261.5 432.3 2252.0 439.0 2242.0 446.5 2233.1 454.0 2226.0 460.5 2221.9 463.5 2220.9 466.0 2220.8 470.0 2222.3 474.5 2226.5 478.6 2232.5 482.9 2241.0 486.8 2251.5 489.6 2262.0 491.1 2271.5 491.3 2279.5 490.4 2286.0 488.6 2292.0 485.9 2297.5 482.2 2302.5 477.5 2306.8 472.5 2309.9 466.5 2312.3ZM461.0 2310.0 454.0 2310.4 448.0 2309.4 441.5 2306.5 436.0 2302.4 431.4 2297.0 428.3 2291.0 426.5 2284.0 426.1 2277.0 427.3 2269.0 429.8 2261.5 434.2 2253.0 440.2 2244.0 447.0 2235.8 454.0 2229.2 460.0 2225.5 465.0 2224.4 469.0 2225.8 473.0 2229.2 477.0 2234.7 480.8 2242.0 484.3 2251.0 486.9 2260.5 488.5 2269.5 488.8 2277.5 488.0 2283.5 486.3 2289.5 483.7 2295.0 480.5 2299.4 476.5 2303.2 472.0 2306.3 466.5 2308.7ZM457.0 2307.5 451.0 2307.2 445.5 2305.3 440.0 2302.0 435.5 2297.7 432.0 2292.5 429.8 2287.0 428.6 2280.5 428.7 2274.0 430.0 2267.0 432.7 2260.0 437.3 2251.5 442.9 2243.5 449.0 2236.5 455.0 2231.3 460.5 2228.2 465.0 2227.6 469.0 2229.2 473.0 2233.0 476.7 2238.5 480.1 2245.5 483.2 2254.0 485.5 2263.0 486.6 2271.5 486.4 2278.5 485.3 2284.5 483.3 2290.0 480.5 2294.9 477.0 2299.0 473.0 2302.2 468.0 2305.0 462.5 2306.8ZM460.5 2304.5 454.5 2304.9 449.5 2304.1 444.0 2301.6 439.0 2297.8 435.1 2293.0 432.4 2287.5 430.9 2281.5 430.7 2275.0 431.6 2268.5 433.7 2262.0 437.7 2254.0 442.7 2246.5 448.5 2239.6 454.0 2234.6 459.5 2231.2 464.0 2230.3 467.5 2231.4 471.3 2234.5 475.0 2239.5 478.2 2245.5 481.1 2253.0 483.2 2261.0 484.5 2268.5 484.7 2275.5 484.0 2281.0 482.5 2286.0 480.4 2290.5 477.5 2294.7 474.0 2298.3 470.0 2301.1 465.5 2303.2ZM457.5 2302.5 452.0 2302.3 447.5 2300.8 442.8 2298.0 438.7 2294.0 435.7 2289.5 433.7 2284.5 432.7 2279.0 432.7 2273.0 433.8 2267.0 436.1 2260.5 439.9 2253.5 444.7 2246.5 450.0 2240.4 455.0 2236.1 460.0 2233.5 464.0 2232.9 467.5 2234.2 471.0 2237.3 474.4 2242.0 477.4 2248.0 480.0 2255.0 481.9 2262.5 482.8 2269.5 482.8 2276.0 482.0 2281.0 480.3 2286.0 478.0 2290.3 475.0 2294.2 471.2 2297.5 467.0 2300.0 462.5 2301.7ZM459.5 2300.1 454.5 2300.3 450.0 2299.4 445.2 2297.0 441.1 2293.5 438.0 2289.4 435.8 2284.5 434.5 2279.0 434.4 2273.5 435.3 2267.5 437.4 2261.5 441.0 2254.5 445.4 2248.0 450.0 2242.7 455.0 2238.3 459.5 2235.9 463.5 2235.3 466.5 2236.3 470.0 2239.1 473.0 2243.1 475.9 2248.5 478.4 2255.0 480.1 2261.5 481.1 2268.0 481.3 2274.0 480.6 2279.0 479.3 2283.5 477.4 2287.5 474.6 2291.5 471.5 2294.6 468.0 2297.0 464.0 2298.9ZM459.0 2298.0 454.5 2298.2 450.5 2297.4 446.0 2295.1 442.4 2292.0 439.5 2288.0 437.4 2283.5 436.2 2278.5 436.1 2273.0 436.9 2267.5 438.7 2262.0 442.0 2255.5 446.0 2249.5 450.5 2244.3 455.0 2240.4 459.0 2238.2 463.0 2237.5 466.0 2238.5 469.0 2240.9 472.0 2244.6 474.7 2249.5 477.0 2255.5 478.6 2261.5 479.6 2268.0 479.7 2273.5 479.1 2278.0 477.8 2282.5 475.8 2286.5 473.5 2289.8 470.5 2292.8 467.0 2295.2 463.0 2297.0ZM458.5 2296.0 454.0 2296.1 450.5 2295.2 446.5 2293.0 443.0 2289.7 440.5 2286.0 438.6 2281.5 437.8 2277.0 437.7 2272.0 438.6 2266.5 440.4 2261.5 443.3 2256.0 447.0 2250.5 451.0 2245.9 455.0 2242.5 459.0 2240.3 462.5 2239.7 465.5 2240.7 468.5 2243.0 471.2 2246.5 473.7 2251.0 475.8 2256.5 477.4 2262.5 478.2 2268.5 478.2 2273.5 477.6 2277.5 476.3 2281.5 474.5 2285.2 472.0 2288.6 469.0 2291.5 466.0 2293.5 462.5 2295.1ZM458.5 2294.0 454.5 2294.1 451.0 2293.2 447.5 2291.3 444.4 2288.5 442.0 2285.0 440.3 2281.0 439.3 2276.5 439.3 2271.5 440.1 2266.5 441.7 2262.0 444.5 2256.5 448.0 2251.4 451.5 2247.5 455.5 2244.2 459.0 2242.4 462.5 2241.9 465.4 2243.0 468.0 2245.1 470.5 2248.4 472.7 2252.5 474.6 2257.5 476.0 2263.0 476.7 2268.0 476.7 2273.0 474.9 2280.5 473.2 2284.0 471.0 2287.0 468.5 2289.5 465.5 2291.6 462.0 2293.2ZM458.5 2292.1 454.5 2292.2 451.5 2291.4 448.3 2289.5 445.5 2286.9 443.2 2283.5 441.6 2279.5 440.8 2275.5 440.8 2271.0 441.5 2266.5 443.2 2262.0 445.8 2257.0 448.9 2252.5 452.0 2249.0 455.5 2246.1 459.0 2244.4 462.0 2243.9 464.5 2244.8 467.0 2246.7 469.5 2249.8 471.6 2253.5 474.6 2263.0 475.3 2268.0 475.3 2272.5 473.6 2279.5 470.0 2285.5 467.5 2288.0 464.5 2290.0ZM459.0 2290.0 455.5 2290.3 452.5 2289.6 449.5 2288.0 446.7 2285.5 444.6 2282.5 443.2 2279.0 442.3 2275.0 442.3 2271.0 442.9 2267.0 444.4 2262.5 446.7 2258.0 449.5 2254.0 452.5 2250.6 455.5 2248.1 458.5 2246.6 461.5 2246.1 464.0 2246.8 466.2 2248.5 468.5 2251.2 470.4 2254.5 473.2 2263.0 473.9 2271.5 472.4 2278.0 469.4 2283.5 464.5 2287.8ZM458.5 2288.1 455.5 2288.2 453.0 2287.7 450.5 2286.3 447.9 2284.0 446.0 2281.3 444.6 2278.0 443.9 2274.5 443.8 2270.5 444.4 2267.0 445.7 2263.0 450.1 2255.5 455.5 2250.2 458.5 2248.6 461.0 2248.2 463.0 2248.7 465.5 2250.4 469.1 2255.5 471.7 2263.0 472.4 2271.0 471.1 2277.0 468.0 2282.4 463.5 2286.2ZM458.0 2286.1 455.5 2286.1 453.0 2285.4 450.7 2284.0 448.7 2282.0 447.1 2279.5 446.0 2276.5 445.4 2270.0 447.1 2263.5 451.3 2256.5 456.1 2252.0 458.5 2250.8 461.0 2250.5 463.0 2251.2 465.0 2252.7 468.2 2257.5 470.3 2264.0 470.8 2271.0 469.5 2276.4 466.7 2281.0 462.6 2284.5ZM459.5 2283.5 455.0 2283.8 452.5 2282.7 450.5 2281.0 447.9 2276.5 447.0 2270.5 448.3 2264.5 451.7 2258.5 456.0 2254.3 458.5 2253.1 460.5 2252.8 462.5 2253.5 464.0 2254.7 466.8 2258.5 468.7 2264.0 469.2 2270.0 468.3 2274.5 466.3 2278.5 463.4 2281.5ZM457.0 2281.5 453.5 2280.5 450.7 2277.5 449.1 2273.5 448.9 2269.0 450.2 2264.5 453.0 2259.8 456.5 2256.6 460.0 2255.5 463.0 2256.9 465.5 2260.4 467.1 2265.5 467.3 2270.5 466.3 2274.5 464.0 2278.0 460.8 2280.5ZM458.5 2278.5 455.5 2278.4 453.0 2276.5 451.4 2273.5 450.9 2269.5 451.9 2265.5 454.0 2261.9 456.6 2259.5 459.5 2258.5 461.7 2259.5 463.7 2262.0 465.0 2265.5 465.3 2269.5 464.7 2272.5 463.0 2275.5 461.0 2277.4ZM458.5 2274.7 456.5 2274.7 455.0 2273.5 454.0 2271.5 453.8 2269.5 454.3 2267.0 455.5 2264.8 457.5 2263.0 459.0 2262.7 460.5 2263.4 461.5 2264.8 462.4 2269.0 461.3 2272.5Z"/>
<path stroke="#ff3c3c" stroke-opacity="0.6" d="M483.0 2420.0 445.0 2420.2 438.0 2419.6 432.0 2418.3 425.5 2415.2 421.4 2411.0 419.3 2406.0 419.2 2403.0 419.7 2400.5 422.1 2396.0 426.5 2392.2 432.0 2389.7 438.5 2388.3 449.5 2387.8 481.5 2387.9 490.0 2388.8 496.5 2390.8 502.0 2394.5 505.3 2399.0 506.4 2404.0 505.3 2409.0 502.0 2413.5 497.0 2416.9 490.5 2419.1ZM483.5 2416.0 448.5 2416.4 442.0 2416.0 436.5 2415.2 431.0 2413.2 427.0 2410.0 424.9 2406.0 424.9 2402.0 426.6 2398.5 430.0 2395.4 434.5 2393.3 440.5 2392.1 450.5 2391.6 479.5 2391.7 487.0 2392.4 492.5 2393.9 496.5 2396.1 499.6 2399.5 500.8 2403.0 500.3 2407.0 498.0 2410.5 494.5 2413.2 489.5 2415.1ZM473.5 2414.5 446.5 2414.4 437.0 2413.2 432.6 2411.5 429.5 2409.0 427.7 2405.5 427.8 2402.0 430.0 2398.5 434.0 2395.8 439.5 2394.2 447.5 2393.6 475.5 2393.5 484.5 2394.0 488.5 2394.8 492.0 2396.0 495.0 2398.0 496.8 2400.0 497.9 2403.0 497.7 2406.0 496.0 2409.0 493.5 2411.1 490.0 2412.8 486.0 2413.8ZM480.5 2413.0 450.0 2413.2 439.5 2412.4 435.1 2411.0 432.0 2409.0 429.9 2406.0 429.6 2403.0 431.0 2400.0 434.5 2397.3 439.0 2395.7 445.0 2395.0 482.0 2395.1 489.0 2396.4 493.5 2399.0 495.2 2401.0 496.0 2403.5 495.6 2406.0 494.1 2408.5 491.5 2410.5 488.5 2411.7ZM479.0 2412.0 450.0 2412.1 440.5 2411.4 436.5 2410.2 433.5 2408.4 431.7 2406.0 431.4 2403.0 433.0 2400.1 436.0 2398.0 440.5 2396.6 447.0 2396.0 482.0 2396.2 488.5 2397.6 491.0 2398.8 492.9 2400.5 494.0 2402.5 494.2 2404.5 493.6 2406.5 491.9 2408.5 487.0 2410.9ZM480.5 2411.0 452.5 2411.3 442.0 2410.7 438.0 2409.7 435.0 2408.0 433.3 2406.0 432.8 2403.5 434.0 2400.9 437.0 2398.7 441.0 2397.5 446.5 2396.9 480.5 2397.0 487.0 2398.2 491.1 2400.5 492.2 2402.0 492.7 2404.0 492.2 2406.0 491.1 2407.5 487.0 2409.8ZM468.5 2410.5 449.0 2410.4 441.5 2409.7 438.5 2408.8 436.0 2407.4 434.5 2405.5 434.2 2403.5 434.8 2402.0 436.0 2400.6 439.5 2398.8 444.5 2397.8 452.5 2397.5 475.0 2397.5 482.5 2398.0 486.0 2398.8 488.5 2399.9 490.4 2401.5 491.2 2403.0 491.2 2405.0 490.4 2406.5 488.6 2408.0 486.0 2409.2 480.0 2410.2ZM478.0 2409.5 452.5 2409.7 443.5 2409.1 440.0 2408.3 437.5 2407.0 436.1 2405.5 435.8 2403.5 437.0 2401.4 440.0 2399.7 444.0 2398.8 449.5 2398.4 480.0 2398.6 485.5 2399.7 487.5 2400.6 489.0 2402.0 489.7 2404.5 488.0 2407.0 484.0 2408.8ZM469.5 2409.0 450.5 2408.9 443.5 2408.4 440.5 2407.6 438.5 2406.5 437.3 2405.0 437.2 2403.5 438.0 2402.0 439.3 2401.0 443.5 2399.6 449.5 2399.1 462.5 2399.0 476.0 2399.1 482.0 2399.6 486.2 2401.0 487.5 2402.0 488.3 2403.5 488.2 2405.0 487.5 2406.0 484.0 2407.9 478.5 2408.8ZM479.0 2408.0 458.0 2408.3 446.0 2408.0 440.5 2406.6 439.1 2405.5 438.5 2404.0 439.1 2402.5 441.5 2401.0 445.0 2400.1 450.0 2399.7 478.5 2399.9 483.5 2400.8 486.4 2402.5 486.9 2404.5 485.9 2406.0 483.0 2407.4ZM473.5 2407.5 447.0 2407.2 442.0 2406.0 440.7 2405.0 440.4 2404.0 441.2 2402.5 443.5 2401.4 447.5 2400.7 453.5 2400.5 478.5 2400.8 483.0 2401.8 485.1 2403.5 484.8 2405.0 482.4 2406.5 479.0 2407.2ZM464.0 2407.0 446.5 2406.5 443.0 2405.5 441.8 2404.0 443.0 2402.5 446.5 2401.5 462.5 2401.0 479.0 2401.5 482.5 2402.5 483.7 2404.0 482.5 2405.5 479.3 2406.5ZM474.5 2406.0 450.5 2406.0 446.0 2405.3 444.4 2404.0 445.2 2403.0 448.5 2402.2 462.5 2401.9 476.5 2402.1 480.0 2402.9 481.1 2404.0 480.3 2405.0 479.0 2405.5ZM463.5 2405.5 450.5 2405.2 448.0 2404.8 446.8 2404.0 448.0 2403.2 450.5 2402.8 462.5 2402.5 475.0 2402.8 477.5 2403.2 478.7 2404.0 477.5 2404.8 475.0 2405.2Z"/>
<path stroke="#6e7373" stroke-opacity="0.55" d="M479.5 2420.0 445.5 2419.9 438.5 2419.2 433.0 2417.8 427.5 2415.1 423.3 2411.0 422.0 2408.5 421.3 2406.0 421.8 2401.0 424.5 2396.5 429.5 2392.7 436.0 2390.3 443.5 2389.2 473.0 2388.9 486.0 2389.4 495.0 2391.3 499.0 2393.3 502.0 2395.5 505.1 2399.5 506.3 2404.0 505.5 2408.5 503.0 2412.5 499.0 2415.7 493.5 2418.2 487.5 2419.4ZM476.5 2415.5 448.0 2415.4 438.0 2414.1 433.5 2412.3 430.0 2409.5 428.3 2406.0 428.4 2402.5 430.5 2399.0 435.0 2395.9 440.5 2394.3 448.0 2393.6 475.5 2393.5 485.5 2394.1 489.5 2394.9 493.0 2396.2 495.9 2398.0 497.8 2400.0 499.2 2403.0 499.2 2406.0 497.8 2409.0 495.3 2411.5 492.0 2413.3 487.5 2414.6ZM476.5 2413.5 450.5 2413.5 441.0 2412.6 436.5 2411.1 433.5 2409.1 431.7 2406.5 431.4 2403.5 432.2 2401.5 433.4 2400.0 437.0 2397.6 442.0 2396.2 449.5 2395.5 475.0 2395.5 484.0 2396.0 491.0 2397.9 493.6 2399.5 495.3 2401.5 496.1 2403.5 495.9 2406.0 494.6 2408.5 492.5 2410.3 489.5 2411.8 486.0 2412.7ZM478.5 2412.0 452.0 2412.1 442.5 2411.3 438.5 2410.1 435.8 2408.5 434.0 2406.0 433.9 2403.5 435.5 2400.8 439.0 2398.7 443.5 2397.5 450.0 2396.9 482.0 2397.2 488.5 2398.7 491.0 2400.0 492.6 2401.5 493.6 2403.5 493.6 2405.5 492.6 2407.5 491.0 2409.0 486.0 2411.1ZM472.5 2411.0 451.5 2410.9 443.5 2410.3 440.5 2409.4 437.9 2408.0 436.2 2406.0 435.9 2404.0 437.3 2401.5 440.7 2399.5 445.5 2398.4 452.5 2398.0 474.0 2398.0 482.0 2398.4 488.0 2400.0 490.2 2401.5 491.3 2403.0 491.6 2405.0 491.0 2406.5 489.6 2408.0 487.5 2409.2 482.0 2410.6ZM470.5 2410.0 452.0 2409.9 444.5 2409.3 441.6 2408.5 439.5 2407.3 438.3 2406.0 437.9 2404.0 439.5 2401.7 443.0 2400.1 447.5 2399.3 455.0 2399.0 474.0 2399.0 481.5 2399.5 487.0 2401.0 488.4 2402.0 489.5 2403.5 489.6 2405.0 488.9 2406.5 485.5 2408.6 480.0 2409.7ZM472.0 2409.0 453.5 2409.0 446.4 2408.5 441.5 2406.9 440.2 2405.5 440.0 2404.0 441.7 2402.0 446.0 2400.6 452.0 2400.1 463.5 2400.0 475.5 2400.1 481.5 2400.6 485.8 2402.0 487.5 2404.0 487.3 2405.5 486.5 2406.5 483.5 2408.0 479.0 2408.7ZM474.0 2408.0 448.5 2407.7 443.8 2406.5 442.5 2405.5 442.2 2404.5 443.0 2403.0 445.5 2401.9 455.5 2401.0 478.5 2401.2 483.0 2402.2 485.2 2404.0 485.0 2405.5 482.5 2407.0ZM474.0 2407.0 451.0 2406.9 446.4 2406.0 444.9 2404.5 445.5 2403.5 448.0 2402.5 456.0 2401.9 476.5 2402.1 480.5 2402.8 482.5 2404.0 482.5 2405.0 481.0 2406.0ZM472.0 2406.0 453.5 2405.9 450.2 2405.5 448.5 2404.5 449.5 2403.7 452.0 2403.2 463.5 2402.9 475.0 2403.2 477.5 2403.5 479.0 2404.5 477.3 2405.5Z"/>
</g>
<rect x="349.2" y="2010.0" width="393.2" height="391.0" fill="none" stroke="#3a3a3a" stroke-width="1.8"/>
<line x1="349.2" y1="2235.5" x2="742.4" y2="2235.5" stroke="#000" stroke-width="2.8"/>
<line x1="511.2" y1="2010.0" x2="511.2" y2="2401.0" stroke="#000" stroke-width="2.8"/>
<line x1="354.4" y1="2401.0" x2="354.4" y2="2406.8" stroke="#222" stroke-width="1.9"/><line x1="361.1" y1="2401.0" x2="361.1" y2="2408.5" stroke="#222" stroke-width="2.0"/><line x1="366.5" y1="2401.0" x2="366.5" y2="2406.8" stroke="#222" stroke-width="1.9"/><line x1="371.1" y1="2401.0" x2="371.1" y2="2406.8" stroke="#222" stroke-width="1.9"/><line x1="375.1" y1="2401.0" x2="375.1" y2="2406.8" stroke="#222" stroke-width="1.9"/><line x1="378.6" y1="2401.0" x2="378.6" y2="2406.8" stroke="#222" stroke-width="1.9"/><line x1="381.7" y1="2401.0" x2="381.7" y2="2411.8" stroke="#222" stroke-width="2.9"/><line x1="402.3" y1="2401.0" x2="402.3" y2="2406.8" stroke="#222" stroke-width="1.9"/><line x1="414.4" y1="2401.0" x2="414.4" y2="2406.8" stroke="#222" stroke-width="1.9"/><line x1="422.9" y1="2401.0" x2="422.9" y2="2406.8" stroke="#222" stroke-width="1.9"/><line x1="429.6" y1="2401.0" x2="429.6" y2="2408.5" stroke="#222" stroke-width="2.0"/><line x1="435.0" y1="2401.0" x2="435.0" y2="2406.8" stroke="#222" stroke-width="1.9"/><line x1="439.6" y1="2401.0" x2="439.6" y2="2406.8" stroke="#222" stroke-width="1.9"/><line x1="443.6" y1="2401.0" x2="443.6" y2="2406.8" stroke="#222" stroke-width="1.9"/><line x1="447.1" y1="2401.0" x2="447.1" y2="2406.8" stroke="#222" stroke-width="1.9"/><line x1="450.2" y1="2401.0" x2="450.2" y2="2411.8" stroke="#222" stroke-width="2.9"/><line x1="470.8" y1="2401.0" x2="470.8" y2="2406.8" stroke="#222" stroke-width="1.9"/><line x1="482.9" y1="2401.0" x2="482.9" y2="2406.8" stroke="#222" stroke-width="1.9"/><line x1="491.4" y1="2401.0" x2="491.4" y2="2406.8" stroke="#222" stroke-width="1.9"/><line x1="498.1" y1="2401.0" x2="498.1" y2="2408.5" stroke="#222" stroke-width="2.0"/><line x1="503.5" y1="2401.0" x2="503.5" y2="2406.8" stroke="#222" stroke-width="1.9"/><line x1="508.1" y1="2401.0" x2="508.1" y2="2406.8" stroke="#222" stroke-width="1.9"/><line x1="512.1" y1="2401.0" x2="512.1" y2="2406.8" stroke="#222" stroke-width="1.9"/><line x1="515.6" y1="2401.0" x2="515.6" y2="2406.8" stroke="#222" stroke-width="1.9"/><line x1="518.7" y1="2401.0" x2="518.7" y2="2411.8" stroke="#222" stroke-width="2.9"/><line x1="539.3" y1="2401.0" x2="539.3" y2="2406.8" stroke="#222" stroke-width="1.9"/><line x1="551.4" y1="2401.0" x2="551.4" y2="2406.8" stroke="#222" stroke-width="1.9"/><line x1="559.9" y1="2401.0" x2="559.9" y2="2406.8" stroke="#222" stroke-width="1.9"/><line x1="566.6" y1="2401.0" x2="566.6" y2="2408.5" stroke="#222" stroke-width="2.0"/><line x1="572.0" y1="2401.0" x2="572.0" y2="2406.8" stroke="#222" stroke-width="1.9"/><line x1="576.6" y1="2401.0" x2="576.6" y2="2406.8" stroke="#222" stroke-width="1.9"/><line x1="580.6" y1="2401.0" x2="580.6" y2="2406.8" stroke="#222" stroke-width="1.9"/><line x1="584.1" y1="2401.0" x2="584.1" y2="2406.8" stroke="#222" stroke-width="1.9"/><line x1="587.2" y1="2401.0" x2="587.2" y2="2411.8" stroke="#222" stroke-width="2.9"/><line x1="607.8" y1="2401.0" x2="607.8" y2="2406.8" stroke="#222" stroke-width="1.9"/><line x1="619.9" y1="2401.0" x2="619.9" y2="2406.8" stroke="#222" stroke-width="1.9"/><line x1="628.4" y1="2401.0" x2="628.4" y2="2406.8" stroke="#222" stroke-width="1.9"/><line x1="635.1" y1="2401.0" x2="635.1" y2="2408.5" stroke="#222" stroke-width="2.0"/><line x1="640.5" y1="2401.0" x2="640.5" y2="2406.8" stroke="#222" stroke-width="1.9"/><line x1="645.1" y1="2401.0" x2="645.1" y2="2406.8" stroke="#222" stroke-width="1.9"/><line x1="649.1" y1="2401.0" x2="649.1" y2="2406.8" stroke="#222" stroke-width="1.9"/><line x1="652.6" y1="2401.0" x2="652.6" y2="2406.8" stroke="#222" stroke-width="1.9"/><line x1="655.7" y1="2401.0" x2="655.7" y2="2411.8" stroke="#222" stroke-width="2.9"/><line x1="676.3" y1="2401.0" x2="676.3" y2="2406.8" stroke="#222" stroke-width="1.9"/><line x1="688.4" y1="2401.0" x2="688.4" y2="2406.8" stroke="#222" stroke-width="1.9"/><line x1="696.9" y1="2401.0" x2="696.9" y2="2406.8" stroke="#222" stroke-width="1.9"/><line x1="703.6" y1="2401.0" x2="703.6" y2="2408.5" stroke="#222" stroke-width="2.0"/><line x1="709.0" y1="2401.0" x2="709.0" y2="2406.8" stroke="#222" stroke-width="1.9"/><line x1="713.6" y1="2401.0" x2="713.6" y2="2406.8" stroke="#222" stroke-width="1.9"/><line x1="717.6" y1="2401.0" x2="717.6" y2="2406.8" stroke="#222" stroke-width="1.9"/><line x1="721.1" y1="2401.0" x2="721.1" y2="2406.8" stroke="#222" stroke-width="1.9"/><line x1="724.2" y1="2401.0" x2="724.2" y2="2411.8" stroke="#222" stroke-width="2.9"/><line x1="337.2" y1="2399.5" x2="349.2" y2="2399.5" stroke="#222" stroke-width="2.9"/><line x1="343.2" y1="2378.9" x2="349.2" y2="2378.9" stroke="#222" stroke-width="1.9"/><line x1="343.2" y1="2366.8" x2="349.2" y2="2366.8" stroke="#222" stroke-width="1.9"/><line x1="343.2" y1="2358.3" x2="349.2" y2="2358.3" stroke="#222" stroke-width="1.9"/><line x1="340.7" y1="2351.6" x2="349.2" y2="2351.6" stroke="#222" stroke-width="2.0"/><line x1="343.2" y1="2346.2" x2="349.2" y2="2346.2" stroke="#222" stroke-width="1.9"/><line x1="343.2" y1="2341.6" x2="349.2" y2="2341.6" stroke="#222" stroke-width="1.9"/><line x1="343.2" y1="2337.6" x2="349.2" y2="2337.6" stroke="#222" stroke-width="1.9"/><line x1="343.2" y1="2334.1" x2="349.2" y2="2334.1" stroke="#222" stroke-width="1.9"/><line x1="337.2" y1="2331.0" x2="349.2" y2="2331.0" stroke="#222" stroke-width="2.9"/><line x1="343.2" y1="2310.4" x2="349.2" y2="2310.4" stroke="#222" stroke-width="1.9"/><line x1="343.2" y1="2298.3" x2="349.2" y2="2298.3" stroke="#222" stroke-width="1.9"/><line x1="343.2" y1="2289.8" x2="349.2" y2="2289.8" stroke="#222" stroke-width="1.9"/><line x1="340.7" y1="2283.1" x2="349.2" y2="2283.1" stroke="#222" stroke-width="2.0"/><line x1="343.2" y1="2277.7" x2="349.2" y2="2277.7" stroke="#222" stroke-width="1.9"/><line x1="343.2" y1="2273.1" x2="349.2" y2="2273.1" stroke="#222" stroke-width="1.9"/><line x1="343.2" y1="2269.1" x2="349.2" y2="2269.1" stroke="#222" stroke-width="1.9"/><line x1="343.2" y1="2265.6" x2="349.2" y2="2265.6" stroke="#222" stroke-width="1.9"/><line x1="337.2" y1="2262.5" x2="349.2" y2="2262.5" stroke="#222" stroke-width="2.9"/><line x1="343.2" y1="2241.9" x2="349.2" y2="2241.9" stroke="#222" stroke-width="1.9"/><line x1="343.2" y1="2229.8" x2="349.2" y2="2229.8" stroke="#222" stroke-width="1.9"/><line x1="343.2" y1="2221.3" x2="349.2" y2="2221.3" stroke="#222" stroke-width="1.9"/><line x1="340.7" y1="2214.6" x2="349.2" y2="2214.6" stroke="#222" stroke-width="2.0"/><line x1="343.2" y1="2209.2" x2="349.2" y2="2209.2" stroke="#222" stroke-width="1.9"/><line x1="343.2" y1="2204.6" x2="349.2" y2="2204.6" stroke="#222" stroke-width="1.9"/><line x1="343.2" y1="2200.6" x2="349.2" y2="2200.6" stroke="#222" stroke-width="1.9"/><line x1="343.2" y1="2197.1" x2="349.2" y2="2197.1" stroke="#222" stroke-width="1.9"/><line x1="337.2" y1="2194.0" x2="349.2" y2="2194.0" stroke="#222" stroke-width="2.9"/><line x1="343.2" y1="2173.4" x2="349.2" y2="2173.4" stroke="#222" stroke-width="1.9"/><line x1="343.2" y1="2161.3" x2="349.2" y2="2161.3" stroke="#222" stroke-width="1.9"/><line x1="343.2" y1="2152.8" x2="349.2" y2="2152.8" stroke="#222" stroke-width="1.9"/><line x1="340.7" y1="2146.1" x2="349.2" y2="2146.1" stroke="#222" stroke-width="2.0"/><line x1="343.2" y1="2140.7" x2="349.2" y2="2140.7" stroke="#222" stroke-width="1.9"/><line x1="343.2" y1="2136.1" x2="349.2" y2="2136.1" stroke="#222" stroke-width="1.9"/><line x1="343.2" y1="2132.1" x2="349.2" y2="2132.1" stroke="#222" stroke-width="1.9"/><line x1="343.2" y1="2128.6" x2="349.2" y2="2128.6" stroke="#222" stroke-width="1.9"/><line x1="337.2" y1="2125.5" x2="349.2" y2="2125.5" stroke="#222" stroke-width="2.9"/><line x1="343.2" y1="2104.9" x2="349.2" y2="2104.9" stroke="#222" stroke-width="1.9"/><line x1="343.2" y1="2092.8" x2="349.2" y2="2092.8" stroke="#222" stroke-width="1.9"/><line x1="343.2" y1="2084.3" x2="349.2" y2="2084.3" stroke="#222" stroke-width="1.9"/><line x1="340.7" y1="2077.6" x2="349.2" y2="2077.6" stroke="#222" stroke-width="2.0"/><line x1="343.2" y1="2072.2" x2="349.2" y2="2072.2" stroke="#222" stroke-width="1.9"/><line x1="343.2" y1="2067.6" x2="349.2" y2="2067.6" stroke="#222" stroke-width="1.9"/><line x1="343.2" y1="2063.6" x2="349.2" y2="2063.6" stroke="#222" stroke-width="1.9"/><line x1="343.2" y1="2060.1" x2="349.2" y2="2060.1" stroke="#222" stroke-width="1.9"/><line x1="337.2" y1="2057.0" x2="349.2" y2="2057.0" stroke="#222" stroke-width="2.9"/><line x1="343.2" y1="2036.4" x2="349.2" y2="2036.4" stroke="#222" stroke-width="1.9"/><line x1="343.2" y1="2024.3" x2="349.2" y2="2024.3" stroke="#222" stroke-width="1.9"/><line x1="343.2" y1="2015.8" x2="349.2" y2="2015.8" stroke="#222" stroke-width="1.9"/>
<text transform="matrix(0.01255 0.00000 0.00000 0.01430 382.66 2435.31)" font-family="Liberation Sans" font-weight="normal" font-size="1000" fill="#4a4a4a"  stroke="#4a4a4a" stroke-width="33.6">10</text><text transform="matrix(0.01497 0.00000 0.00000 0.01579 396.57 2426.04)" font-family="Liberation Sans" font-weight="normal" font-size="1000" fill="#4a4a4a"  stroke="#4a4a4a" stroke-width="29.3">2</text><text transform="matrix(0.01255 0.00000 0.00000 0.01430 451.16 2435.31)" font-family="Liberation Sans" font-weight="normal" font-size="1000" fill="#4a4a4a"  stroke="#4a4a4a" stroke-width="33.6">10</text><text transform="matrix(0.01434 0.00000 0.00000 0.01557 465.29 2425.88)" font-family="Liberation Sans" font-weight="normal" font-size="1000" fill="#4a4a4a"  stroke="#4a4a4a" stroke-width="30.1">3</text><text transform="matrix(0.01255 0.00000 0.00000 0.01430 519.66 2435.31)" font-family="Liberation Sans" font-weight="normal" font-size="1000" fill="#4a4a4a"  stroke="#4a4a4a" stroke-width="33.6">10</text><text transform="matrix(0.01349 0.00000 0.00000 0.01602 534.02 2426.04)" font-family="Liberation Sans" font-weight="normal" font-size="1000" fill="#4a4a4a"  stroke="#4a4a4a" stroke-width="30.6">4</text><text transform="matrix(0.01255 0.00000 0.00000 0.01430 588.16 2435.31)" font-family="Liberation Sans" font-weight="normal" font-size="1000" fill="#4a4a4a"  stroke="#4a4a4a" stroke-width="33.6">10</text><text transform="matrix(0.01434 0.00000 0.00000 0.01579 602.25 2425.88)" font-family="Liberation Sans" font-weight="normal" font-size="1000" fill="#4a4a4a"  stroke="#4a4a4a" stroke-width="29.9">5</text><text transform="matrix(0.01255 0.00000 0.00000 0.01430 656.66 2435.31)" font-family="Liberation Sans" font-weight="normal" font-size="1000" fill="#4a4a4a"  stroke="#4a4a4a" stroke-width="33.6">10</text><text transform="matrix(0.01472 0.00000 0.00000 0.01557 670.59 2425.88)" font-family="Liberation Sans" font-weight="normal" font-size="1000" fill="#4a4a4a"  stroke="#4a4a4a" stroke-width="29.7">6</text><text transform="matrix(0.01255 0.00000 0.00000 0.01430 725.16 2435.31)" font-family="Liberation Sans" font-weight="normal" font-size="1000" fill="#4a4a4a"  stroke="#4a4a4a" stroke-width="33.6">10</text><text transform="matrix(0.01505 0.00000 0.00000 0.01602 739.03 2426.04)" font-family="Liberation Sans" font-weight="normal" font-size="1000" fill="#4a4a4a"  stroke="#4a4a4a" stroke-width="29.0">7</text><text transform="matrix(0.01145 0.00000 0.00000 0.01458 309.28 2408.37)" font-family="Liberation Sans" font-weight="normal" font-size="1000" fill="#4a4a4a"  stroke="#4a4a4a" stroke-width="34.8">10</text><text transform="matrix(0.01528 0.00000 0.00000 0.01602 322.12 2399.50)" font-family="Liberation Sans" font-weight="normal" font-size="1000" fill="#4a4a4a"  stroke="#4a4a4a" stroke-width="28.8">1</text><text transform="matrix(0.01145 0.00000 0.00000 0.01458 309.28 2339.87)" font-family="Liberation Sans" font-weight="normal" font-size="1000" fill="#4a4a4a"  stroke="#4a4a4a" stroke-width="34.8">10</text><text transform="matrix(0.01453 0.00000 0.00000 0.01579 322.54 2331.00)" font-family="Liberation Sans" font-weight="normal" font-size="1000" fill="#4a4a4a"  stroke="#4a4a4a" stroke-width="29.7">2</text><text transform="matrix(0.01145 0.00000 0.00000 0.01458 309.28 2271.37)" font-family="Liberation Sans" font-weight="normal" font-size="1000" fill="#4a4a4a"  stroke="#4a4a4a" stroke-width="34.8">10</text><text transform="matrix(0.01392 0.00000 0.00000 0.01557 322.74 2262.34)" font-family="Liberation Sans" font-weight="normal" font-size="1000" fill="#4a4a4a"  stroke="#4a4a4a" stroke-width="30.6">3</text><text transform="matrix(0.01145 0.00000 0.00000 0.01458 309.28 2202.87)" font-family="Liberation Sans" font-weight="normal" font-size="1000" fill="#4a4a4a"  stroke="#4a4a4a" stroke-width="34.8">10</text><text transform="matrix(0.01309 0.00000 0.00000 0.01602 322.97 2194.00)" font-family="Liberation Sans" font-weight="normal" font-size="1000" fill="#4a4a4a"  stroke="#4a4a4a" stroke-width="31.1">4</text><text transform="matrix(0.01145 0.00000 0.00000 0.01458 309.28 2134.37)" font-family="Liberation Sans" font-weight="normal" font-size="1000" fill="#4a4a4a"  stroke="#4a4a4a" stroke-width="34.8">10</text><text transform="matrix(0.01392 0.00000 0.00000 0.01579 322.71 2125.34)" font-family="Liberation Sans" font-weight="normal" font-size="1000" fill="#4a4a4a"  stroke="#4a4a4a" stroke-width="30.4">5</text><text transform="matrix(0.01145 0.00000 0.00000 0.01458 309.28 2065.87)" font-family="Liberation Sans" font-weight="normal" font-size="1000" fill="#4a4a4a"  stroke="#4a4a4a" stroke-width="34.8">10</text><text transform="matrix(0.01429 0.00000 0.00000 0.01557 322.55 2056.84)" font-family="Liberation Sans" font-weight="normal" font-size="1000" fill="#4a4a4a"  stroke="#4a4a4a" stroke-width="30.2">6</text>
<text transform="matrix(0.02092 0.00000 0.00000 0.02163 355.57 2046.45)" font-family="Liberation Sans" font-weight="bold" font-size="1000" fill="#000" >Q1</text>
<text transform="matrix(0.02092 0.00000 0.00000 0.02163 354.30 2074.89)" font-family="Liberation Sans" font-weight="bold" font-size="1000" fill="#000" >13.4%</text>
<text transform="matrix(0.02092 0.00000 0.00000 0.02163 676.31 2045.85)" font-family="Liberation Sans" font-weight="bold" font-size="1000" fill="#000" >Q2</text>
<text transform="matrix(0.02092 0.00000 0.00000 0.02163 644.56 2074.69)" font-family="Liberation Sans" font-weight="bold" font-size="1000" fill="#000" >0.24%</text>
<text transform="matrix(0.02092 0.00000 0.00000 0.02163 676.20 2349.93)" font-family="Liberation Sans" font-weight="bold" font-size="1000" fill="#000" >Q3</text>
<text transform="matrix(0.02092 0.00000 0.00000 0.02163 644.56 2379.97)" font-family="Liberation Sans" font-weight="bold" font-size="1000" fill="#000" >0.78%</text>
<text transform="matrix(0.02092 0.00000 0.00000 0.02163 355.37 2349.93)" font-family="Liberation Sans" font-weight="bold" font-size="1000" fill="#000" >Q4</text>
<text transform="matrix(0.02092 0.00000 0.00000 0.02163 354.93 2379.97)" font-family="Liberation Sans" font-weight="bold" font-size="1000" fill="#000" >85.6%</text>
<text transform="matrix(0.02812 0.00000 0.00000 0.02554 458.82 2486.02)" font-family="Liberation Sans" font-weight="bold" font-size="1000" fill="#000" >PE: AE1/AE3</text>
<text transform="matrix(0.00000 -0.02800 0.02453 0.00000 255.87 2294.25)" font-family="Liberation Sans" font-weight="bold" font-size="1000" fill="#000" >APC: CD140b</text>
<text transform="matrix(0.06801 0.00000 0.00000 0.07350 1143.25 1907.47)" font-family="Liberation Sans" font-weight="normal" font-size="1000" fill="#000" stroke="#fff" stroke-width="29.9">3D</text>
<linearGradient id="P6g" x1="0" y1="0" x2="0" y2="1"><stop offset="0" stop-color="#f4f4f4"/><stop offset="1" stop-color="#e2e2e2"/></linearGradient>
<rect x="1019.4" y="1930.9" width="403.80000000000007" height="69.89999999999986" fill="#fff"/>
<rect x="1042.9" y="1930.9" width="380.29999999999995" height="22.299999999999955" fill="url(#P6g)"/>
<rect x="1019.4" y="1930.9" width="403.80000000000007" height="69.89999999999986" rx="2" fill="none" stroke="#4a4a4a" stroke-width="1.9"/>
<line x1="1042.9" y1="1930.9" x2="1042.9" y2="2000.8" stroke="#4a4a4a" stroke-width="1.9"/>
<line x1="1266.1" y1="1930.9" x2="1266.1" y2="2000.8" stroke="#4a4a4a" stroke-width="1.9"/>
<line x1="1369.8" y1="1930.9" x2="1369.8" y2="2000.8" stroke="#4a4a4a" stroke-width="1.9"/>
<line x1="1019.4" y1="1953.2" x2="1423.2" y2="1953.2" stroke="#4a4a4a" stroke-width="1.9"/>
<line x1="1019.4" y1="1977.3" x2="1423.2" y2="1977.3" stroke="#4a4a4a" stroke-width="1.9"/>
<rect x="1022.6" y="1957.0" width="14.8" height="13.3" fill="#636363"/>
<rect x="1022.6" y="1979.9" width="14.8" height="15.3" fill="#ff2525"/>
<text transform="matrix(0.01496 0.00000 0.00000 0.01423 1107.09 1946.04)" font-family="Liberation Sans" font-weight="normal" font-size="1000" fill="#1a1a1a"  stroke="#1a1a1a" stroke-width="20.6">Sample Name</text>
<text transform="matrix(0.01515 0.00000 0.00000 0.01423 1272.06 1946.04)" font-family="Liberation Sans" font-weight="normal" font-size="1000" fill="#1a1a1a"  stroke="#1a1a1a" stroke-width="20.4">Subset Name</text>
<text transform="matrix(0.01576 0.00000 0.00000 0.01423 1375.14 1946.04)" font-family="Liberation Sans" font-weight="normal" font-size="1000" fill="#1a1a1a"  stroke="#1a1a1a" stroke-width="20.0">Count</text>
<text transform="matrix(0.01486 0.00000 0.00000 0.01423 1048.90 1969.47)" font-family="Liberation Sans" font-weight="normal" font-size="1000" fill="#1a1a1a"  stroke="#1a1a1a" stroke-width="20.6">A09 1216-3D IgG.fcs</text>
<text transform="matrix(0.01428 0.00000 0.00000 0.01423 1272.42 1969.47)" font-family="Liberation Sans" font-weight="normal" font-size="1000" fill="#1a1a1a"  stroke="#1a1a1a" stroke-width="21.1">SSC-SC</text>
<text transform="matrix(0.01402 0.00000 0.00000 0.01423 1377.38 1969.47)" font-family="Liberation Sans" font-weight="normal" font-size="1000" fill="#1a1a1a"  stroke="#1a1a1a" stroke-width="21.2">19650</text>
<text transform="matrix(0.01486 0.00000 0.00000 0.01423 1048.90 1993.57)" font-family="Liberation Sans" font-weight="normal" font-size="1000" fill="#1a1a1a"  stroke="#1a1a1a" stroke-width="20.6">A10 1216-3D Ab.fcs</text>
<text transform="matrix(0.01428 0.00000 0.00000 0.01423 1272.42 1993.57)" font-family="Liberation Sans" font-weight="normal" font-size="1000" fill="#1a1a1a"  stroke="#1a1a1a" stroke-width="21.1">SSC-SC</text>
<text transform="matrix(0.01402 0.00000 0.00000 0.01423 1377.52 1993.57)" font-family="Liberation Sans" font-weight="normal" font-size="1000" fill="#1a1a1a"  stroke="#1a1a1a" stroke-width="21.2">19551</text>
<clipPath id="P6c"><rect x="1021.0" y="2005.0" width="402.29999999999995" height="401.1999999999998"/></clipPath>
<g clip-path="url(#P6c)" fill="none" stroke-width="1.3" stroke-linejoin="round">
<path stroke="#ff3c3c" stroke-opacity="0.6" d="M1102.0 2293.0 1091.0 2293.2 1082.0 2291.8 1075.0 2288.9 1072.5 2287.0 1070.4 2284.5 1069.1 2282.0 1068.4 2279.0 1068.3 2275.5 1069.0 2272.0 1072.3 2264.5 1078.4 2256.0 1086.0 2248.2 1095.5 2240.3 1106.5 2232.7 1125.6 2221.0 1133.0 2214.8 1135.5 2211.5 1137.5 2207.8 1143.7 2192.0 1148.3 2182.0 1157.3 2166.5 1163.2 2158.0 1169.0 2151.0 1175.5 2144.5 1182.5 2138.6 1190.5 2133.2 1198.5 2129.1 1206.5 2126.3 1214.0 2125.0 1221.0 2125.0 1227.5 2126.3 1233.0 2128.8 1239.0 2133.2 1244.3 2138.5 1249.4 2145.0 1265.7 2171.0 1272.3 2184.0 1276.3 2196.5 1277.6 2204.0 1278.0 2211.0 1277.7 2218.5 1276.6 2225.5 1274.7 2232.5 1272.1 2239.0 1268.7 2245.0 1264.7 2250.5 1259.5 2255.6 1253.5 2259.7 1247.0 2262.4 1240.5 2263.7 1235.0 2263.7 1229.0 2262.7 1210.5 2256.3 1206.5 2256.0 1202.0 2256.7 1194.5 2259.5 1162.0 2275.3 1142.5 2283.2 1132.0 2286.8 1121.0 2289.8 1111.5 2291.8ZM1110.5 2284.5 1101.5 2284.8 1094.0 2283.8 1088.0 2281.5 1084.2 2278.0 1082.4 2273.5 1082.8 2268.0 1085.3 2262.0 1090.3 2255.0 1097.2 2248.0 1105.5 2241.3 1115.0 2234.9 1134.9 2223.0 1139.0 2220.0 1142.1 2217.0 1146.0 2211.0 1154.2 2189.0 1162.3 2173.5 1167.2 2166.0 1172.3 2159.5 1178.0 2153.4 1184.0 2148.2 1190.5 2143.7 1197.0 2140.2 1203.5 2137.8 1210.0 2136.5 1216.0 2136.4 1221.5 2137.6 1226.0 2139.6 1231.4 2143.5 1235.9 2148.0 1240.0 2153.0 1257.2 2178.0 1262.7 2187.5 1266.2 2197.0 1267.6 2203.0 1268.2 2209.0 1268.1 2215.0 1267.4 2221.0 1265.9 2227.0 1263.9 2232.0 1261.2 2237.0 1258.2 2241.0 1254.0 2245.1 1249.0 2248.4 1244.0 2250.3 1238.5 2251.2 1234.0 2251.0 1229.0 2249.9 1212.5 2243.4 1208.5 2243.0 1204.0 2243.7 1195.5 2247.6 1167.0 2265.2 1152.0 2272.6 1140.5 2277.2 1130.0 2280.6 1119.5 2283.2ZM1112.0 2280.5 1105.5 2280.6 1100.0 2279.8 1095.5 2278.3 1092.1 2276.0 1090.0 2273.0 1089.3 2269.5 1089.8 2265.5 1091.7 2261.0 1097.5 2253.0 1107.0 2244.3 1118.0 2236.7 1140.4 2223.5 1144.4 2220.5 1147.4 2217.5 1151.0 2211.4 1156.7 2194.0 1161.8 2182.5 1168.5 2171.0 1175.8 2161.5 1182.5 2154.8 1189.5 2149.5 1197.0 2145.3 1204.0 2142.9 1211.0 2142.0 1217.0 2142.7 1222.5 2144.9 1228.0 2148.9 1235.3 2157.0 1253.5 2182.6 1258.1 2190.5 1261.1 2198.0 1262.3 2203.0 1263.0 2208.5 1263.1 2214.0 1262.5 2219.0 1261.3 2224.0 1259.5 2228.5 1257.4 2232.5 1254.5 2236.3 1250.6 2240.0 1246.5 2242.5 1242.0 2244.1 1237.5 2244.6 1233.5 2244.3 1229.0 2243.2 1213.5 2236.6 1209.0 2236.2 1204.5 2237.0 1200.5 2238.6 1195.5 2241.5 1168.0 2260.6 1153.0 2268.8 1142.0 2273.4 1131.5 2276.9 1121.5 2279.3ZM1115.5 2277.5 1109.5 2277.7 1104.5 2277.1 1100.0 2275.7 1097.0 2273.7 1094.9 2271.0 1094.2 2268.0 1094.7 2264.0 1096.3 2260.0 1098.9 2256.0 1102.3 2252.0 1111.3 2244.0 1122.0 2236.8 1143.5 2224.5 1147.7 2221.5 1150.7 2218.5 1152.8 2215.5 1154.5 2212.0 1159.4 2195.5 1163.7 2185.0 1170.2 2173.5 1177.3 2164.0 1183.5 2157.7 1190.0 2152.8 1196.5 2149.2 1203.0 2146.9 1209.0 2146.0 1215.0 2146.5 1220.0 2148.5 1225.0 2152.1 1231.8 2159.5 1250.5 2185.5 1254.4 2192.0 1257.2 2198.5 1259.2 2208.0 1258.9 2217.0 1256.4 2225.5 1254.5 2229.2 1252.0 2232.6 1248.5 2235.8 1245.0 2237.9 1241.0 2239.3 1237.0 2239.7 1233.5 2239.4 1229.5 2238.4 1218.0 2233.0 1214.0 2231.6 1209.5 2231.2 1205.0 2232.1 1200.5 2234.0 1195.5 2237.0 1171.0 2255.7 1163.0 2260.9 1155.0 2265.3 1145.0 2269.9 1134.0 2273.8 1124.5 2276.2ZM1119.5 2275.0 1113.5 2275.3 1108.5 2275.0 1104.0 2273.8 1101.0 2272.0 1098.9 2269.5 1098.1 2266.5 1098.5 2263.0 1100.1 2259.0 1102.4 2255.5 1105.8 2251.5 1114.5 2243.9 1125.5 2236.7 1146.6 2225.0 1150.8 2222.0 1153.5 2219.3 1155.5 2216.5 1157.1 2213.0 1161.6 2196.5 1165.7 2186.0 1171.5 2175.5 1178.0 2166.5 1183.5 2160.8 1189.5 2156.0 1196.0 2152.2 1202.0 2150.0 1207.5 2149.1 1213.0 2149.5 1217.5 2151.1 1222.5 2154.5 1229.0 2161.5 1239.0 2176.1 1248.0 2188.0 1251.5 2193.5 1254.0 2199.0 1255.9 2207.0 1255.9 2215.5 1253.8 2223.0 1250.0 2229.3 1247.2 2232.0 1244.0 2234.0 1240.5 2235.2 1236.5 2235.6 1233.0 2235.2 1229.5 2234.2 1219.0 2229.0 1214.5 2227.4 1209.5 2227.2 1204.5 2228.3 1199.5 2230.6 1194.0 2234.2 1171.2 2253.0 1164.0 2258.1 1156.5 2262.6 1148.0 2266.8 1137.5 2270.8 1128.0 2273.5ZM1121.5 2273.0 1116.0 2273.4 1111.0 2273.0 1107.0 2272.0 1104.0 2270.3 1102.1 2268.0 1101.3 2265.0 1101.8 2261.5 1103.4 2258.0 1108.8 2251.0 1117.7 2243.5 1128.5 2236.6 1149.2 2225.5 1153.0 2222.8 1155.9 2220.0 1158.0 2217.0 1159.6 2213.5 1163.4 2197.5 1167.3 2187.0 1173.0 2176.5 1179.5 2167.5 1184.9 2162.0 1190.5 2157.7 1196.5 2154.3 1202.0 2152.4 1207.5 2151.7 1212.5 2152.2 1216.5 2153.8 1221.0 2157.0 1224.5 2160.5 1228.0 2165.0 1237.0 2178.6 1247.1 2192.0 1251.1 2199.5 1253.0 2206.5 1253.1 2214.0 1251.4 2221.0 1248.0 2226.5 1245.5 2228.9 1242.5 2230.7 1239.5 2231.7 1236.0 2232.0 1230.0 2230.7 1219.5 2225.4 1215.5 2223.9 1210.5 2223.6 1204.5 2225.0 1198.5 2227.9 1192.5 2231.9 1171.0 2251.0 1164.0 2256.2 1157.0 2260.6 1149.0 2264.8 1139.0 2268.8 1130.0 2271.5ZM1121.5 2271.5 1116.5 2271.7 1112.5 2271.3 1109.0 2270.2 1106.2 2268.5 1104.8 2266.5 1104.1 2264.0 1104.5 2261.0 1106.0 2257.5 1108.4 2254.0 1111.5 2250.5 1120.0 2243.4 1131.5 2236.3 1151.5 2226.0 1155.5 2223.2 1158.4 2220.5 1160.4 2217.5 1161.6 2214.5 1165.1 2198.0 1168.6 2188.0 1174.2 2177.5 1180.7 2168.5 1185.5 2163.6 1190.5 2159.7 1196.0 2156.6 1201.5 2154.6 1206.5 2153.9 1211.5 2154.4 1215.4 2156.0 1219.5 2159.0 1223.0 2162.5 1226.1 2166.5 1235.2 2181.0 1245.1 2194.0 1248.6 2200.5 1250.3 2207.0 1250.4 2213.5 1249.0 2219.2 1246.0 2224.1 1243.5 2226.3 1241.0 2227.7 1238.5 2228.4 1235.5 2228.5 1230.0 2227.2 1220.5 2222.3 1216.0 2220.7 1210.5 2220.5 1204.8 2222.0 1197.6 2225.5 1190.5 2230.3 1185.5 2234.6 1170.3 2249.5 1164.0 2254.5 1157.0 2259.2 1148.5 2263.7 1139.0 2267.5 1130.0 2270.1ZM1123.0 2270.0 1118.0 2270.2 1114.0 2269.7 1111.0 2268.8 1108.5 2267.1 1107.0 2265.0 1106.6 2262.5 1107.2 2259.5 1108.6 2256.5 1113.9 2250.0 1122.6 2243.0 1134.0 2236.2 1153.6 2226.5 1157.5 2223.9 1160.6 2221.0 1162.5 2218.2 1163.7 2215.0 1166.4 2199.5 1169.6 2189.5 1174.8 2179.0 1181.5 2169.6 1186.0 2165.0 1191.0 2161.1 1196.0 2158.3 1201.0 2156.5 1205.5 2155.8 1210.0 2156.2 1214.0 2157.7 1218.0 2160.6 1224.1 2167.5 1233.1 2182.5 1242.5 2195.0 1245.9 2201.0 1247.6 2206.5 1247.9 2212.0 1246.6 2217.5 1244.1 2221.5 1240.0 2224.5 1235.5 2225.2 1230.5 2224.0 1221.0 2219.1 1216.5 2217.6 1211.0 2217.6 1204.5 2219.5 1195.7 2224.0 1188.0 2229.3 1183.5 2233.4 1169.3 2248.5 1163.3 2253.5 1157.0 2257.9 1149.0 2262.2 1140.0 2266.0 1131.0 2268.7ZM1125.5 2268.5 1117.0 2268.6 1113.5 2267.8 1111.2 2266.5 1109.5 2264.6 1108.9 2262.5 1109.2 2259.5 1110.4 2256.5 1112.9 2253.0 1116.2 2249.5 1125.0 2242.6 1136.0 2236.2 1156.5 2226.5 1160.3 2224.0 1163.0 2221.5 1164.6 2219.0 1165.7 2216.0 1167.7 2200.5 1170.4 2191.0 1175.3 2180.5 1182.0 2170.9 1186.5 2166.3 1191.0 2162.7 1196.0 2159.9 1200.5 2158.2 1205.0 2157.5 1209.5 2158.0 1213.0 2159.3 1216.7 2162.0 1219.8 2165.0 1222.8 2169.0 1232.2 2185.5 1240.6 2197.0 1243.3 2201.5 1244.8 2206.0 1245.2 2210.5 1244.4 2215.0 1242.5 2218.5 1239.5 2220.9 1235.5 2221.8 1231.0 2220.9 1222.0 2216.2 1217.5 2214.8 1211.5 2215.0 1204.0 2217.5 1193.2 2223.0 1185.5 2228.3 1181.5 2232.2 1169.1 2247.0 1163.5 2252.0 1157.2 2256.5 1149.5 2260.9 1141.5 2264.4 1133.0 2267.1ZM1125.0 2267.5 1117.5 2267.3 1114.5 2266.3 1112.5 2265.0 1111.2 2263.0 1110.8 2261.0 1111.3 2258.5 1112.7 2255.5 1118.2 2249.0 1127.5 2242.1 1138.5 2236.0 1158.6 2227.0 1162.8 2224.5 1165.4 2222.0 1166.9 2219.5 1167.7 2217.0 1168.8 2202.0 1171.3 2192.0 1176.3 2181.0 1183.0 2171.4 1187.0 2167.3 1191.5 2163.8 1196.0 2161.3 1200.5 2159.7 1205.0 2159.1 1209.0 2159.5 1212.0 2160.7 1215.9 2163.5 1219.0 2166.7 1221.8 2170.5 1231.0 2188.2 1240.6 2202.5 1242.0 2206.5 1242.2 2210.0 1241.5 2213.5 1240.0 2216.0 1237.0 2217.8 1233.5 2218.0 1230.3 2217.0 1222.0 2212.9 1217.0 2212.0 1211.0 2212.8 1204.0 2215.4 1190.2 2222.5 1183.0 2227.3 1179.5 2231.0 1172.9 2240.5 1168.3 2246.0 1163.1 2251.0 1156.5 2255.9 1149.0 2260.2 1141.0 2263.6 1132.5 2266.2ZM1125.5 2266.5 1118.5 2266.2 1116.0 2265.3 1114.0 2264.0 1112.8 2262.0 1112.6 2260.0 1113.1 2257.5 1114.4 2255.0 1117.1 2251.5 1120.7 2248.0 1130.5 2241.1 1141.5 2235.4 1162.0 2227.0 1165.7 2225.0 1168.0 2223.0 1169.3 2221.0 1169.9 2218.5 1169.9 2203.5 1171.9 2193.5 1173.9 2188.0 1176.8 2182.0 1180.2 2176.5 1183.7 2172.0 1187.7 2168.0 1192.0 2164.7 1196.5 2162.2 1200.5 2160.9 1204.5 2160.4 1208.5 2160.9 1211.5 2162.1 1215.0 2164.7 1218.1 2168.0 1221.2 2172.5 1230.0 2191.5 1237.5 2203.5 1238.6 2208.5 1238.1 2211.0 1237.1 2212.5 1235.5 2213.5 1233.0 2213.7 1223.0 2209.9 1217.5 2209.4 1210.5 2211.0 1201.0 2215.1 1185.1 2223.0 1179.8 2226.5 1177.2 2229.5 1172.4 2238.5 1168.6 2244.0 1162.8 2250.0 1156.4 2255.0 1149.0 2259.4 1141.0 2262.8 1133.0 2265.3ZM1175.5 2224.1 1174.0 2224.0 1172.1 2216.0 1171.1 2209.0 1171.0 2203.0 1171.7 2198.0 1173.1 2192.5 1175.2 2187.0 1178.0 2181.5 1181.5 2176.0 1185.2 2171.5 1189.5 2167.5 1194.0 2164.5 1198.5 2162.5 1203.0 2161.5 1207.0 2161.7 1210.5 2163.0 1213.5 2165.0 1216.5 2168.0 1221.4 2175.5 1232.1 2202.5 1232.7 2205.0 1232.4 2206.5 1230.5 2207.4 1222.0 2206.6 1214.5 2207.9 1207.5 2210.6 1188.0 2219.6ZM1127.5 2265.5 1122.5 2265.7 1118.5 2265.0 1115.7 2263.5 1114.3 2261.5 1114.2 2258.5 1115.3 2255.5 1117.8 2252.0 1121.9 2248.0 1131.1 2241.5 1142.5 2235.7 1164.5 2227.7 1172.0 2225.5 1173.5 2225.8 1173.7 2228.5 1173.2 2232.0 1170.9 2238.5 1166.9 2244.5 1161.1 2250.5 1154.0 2255.8 1146.0 2260.1 1136.5 2263.6ZM1182.5 2219.0 1178.5 2218.8 1176.0 2217.1 1174.0 2214.0 1172.6 2209.0 1172.2 2203.5 1172.8 2197.5 1174.4 2191.5 1177.1 2185.0 1180.5 2179.0 1184.1 2174.0 1188.0 2169.9 1192.5 2166.4 1197.0 2164.1 1201.5 2162.8 1205.5 2162.7 1209.5 2163.9 1213.0 2166.3 1216.1 2169.5 1218.8 2173.5 1221.0 2178.0 1223.3 2184.5 1225.0 2192.0 1225.5 2197.0 1224.8 2200.0 1223.6 2201.5 1221.5 2202.8 1211.0 2207.3 1195.5 2214.7 1188.0 2217.7ZM1129.0 2264.5 1124.0 2264.8 1120.0 2264.2 1117.0 2262.5 1115.8 2260.5 1115.9 2257.5 1117.2 2254.5 1119.9 2251.0 1123.7 2247.5 1129.2 2243.5 1136.0 2239.5 1149.5 2233.8 1157.5 2231.3 1163.5 2230.0 1167.5 2230.2 1169.4 2231.5 1170.0 2233.0 1170.0 2235.5 1168.2 2240.5 1164.4 2246.0 1158.7 2251.5 1152.3 2256.0 1145.0 2259.8 1136.5 2262.9ZM1186.5 2215.6 1182.5 2215.8 1179.0 2214.7 1176.1 2212.0 1174.7 2209.0 1173.8 2204.5 1173.9 2199.0 1175.0 2193.5 1177.1 2187.5 1179.9 2182.0 1183.4 2176.5 1187.0 2172.3 1191.0 2168.9 1195.5 2166.1 1200.0 2164.5 1204.0 2164.2 1208.0 2165.1 1211.1 2167.0 1214.3 2170.0 1216.8 2173.5 1219.1 2178.0 1220.7 2183.0 1221.8 2188.5 1221.9 2193.0 1221.0 2196.5 1219.9 2198.5 1217.9 2200.5 1210.7 2205.0 1196.0 2212.5ZM1127.5 2263.5 1123.5 2263.4 1120.4 2262.5 1118.5 2261.0 1117.7 2258.5 1118.2 2256.0 1119.9 2253.0 1122.5 2250.0 1126.5 2246.5 1137.5 2239.7 1149.5 2234.9 1155.5 2233.3 1160.5 2232.5 1164.0 2232.8 1166.0 2234.0 1166.8 2235.5 1166.9 2237.5 1165.4 2242.0 1161.4 2247.5 1155.8 2252.5 1149.5 2256.6 1142.2 2260.0 1134.5 2262.5ZM1188.5 2212.6 1184.5 2212.8 1181.0 2211.8 1178.0 2209.5 1176.5 2207.0 1175.6 2203.0 1175.6 2198.5 1176.4 2193.5 1178.1 2188.5 1180.7 2183.0 1184.0 2177.7 1187.5 2173.6 1191.0 2170.5 1195.0 2167.9 1199.5 2166.3 1203.5 2165.9 1207.0 2166.7 1210.0 2168.5 1213.0 2171.4 1215.1 2174.5 1217.1 2178.5 1218.4 2183.0 1219.0 2187.5 1218.8 2191.5 1218.0 2194.5 1214.8 2199.0 1207.1 2204.5 1197.0 2209.9ZM1130.0 2262.0 1126.0 2262.0 1123.0 2261.4 1121.0 2260.0 1120.1 2258.0 1120.4 2255.5 1121.8 2253.0 1124.3 2250.0 1127.8 2247.0 1137.5 2240.9 1148.5 2236.5 1154.0 2235.2 1158.0 2234.7 1161.0 2235.1 1163.1 2236.5 1163.8 2238.0 1163.8 2239.5 1162.4 2243.5 1159.1 2248.0 1154.6 2252.0 1149.4 2255.5 1143.2 2258.5 1136.0 2260.9ZM1191.0 2209.5 1187.0 2209.9 1184.0 2209.5 1181.0 2208.0 1179.0 2206.0 1177.7 2203.0 1177.3 2199.0 1177.8 2194.5 1179.0 2190.0 1181.1 2185.0 1184.0 2180.0 1187.0 2176.0 1190.5 2172.6 1194.5 2169.9 1198.5 2168.2 1202.0 2167.7 1205.5 2168.3 1208.0 2169.6 1210.7 2172.0 1213.0 2175.0 1214.6 2178.0 1215.7 2181.5 1216.4 2185.5 1216.3 2189.0 1215.5 2192.4 1212.7 2197.0 1206.9 2202.0 1198.5 2206.9ZM1130.5 2260.5 1127.0 2260.3 1124.5 2259.5 1123.1 2258.0 1122.7 2256.5 1123.2 2254.5 1124.6 2252.0 1130.5 2246.5 1139.0 2241.4 1148.0 2238.0 1152.5 2237.1 1156.0 2236.9 1158.5 2237.4 1160.0 2238.5 1160.7 2241.0 1159.6 2244.5 1156.5 2248.5 1152.6 2252.0 1147.5 2255.3 1142.0 2257.8 1136.0 2259.7ZM1189.5 2207.0 1186.5 2206.9 1183.5 2205.8 1181.5 2204.4 1180.0 2202.0 1179.4 2199.0 1179.4 2195.5 1181.6 2187.5 1186.5 2178.9 1189.5 2175.5 1192.4 2173.0 1195.9 2171.0 1199.0 2170.0 1202.0 2169.7 1205.0 2170.5 1209.5 2174.0 1212.7 2179.5 1213.8 2186.0 1213.5 2189.0 1212.6 2192.0 1209.1 2197.0 1203.0 2201.8 1196.0 2205.5ZM1134.0 2258.5 1128.5 2258.4 1126.7 2257.5 1125.8 2256.0 1126.0 2254.0 1127.0 2252.0 1131.5 2247.5 1138.6 2243.0 1146.5 2240.0 1153.0 2239.0 1155.4 2239.5 1156.9 2240.5 1157.5 2242.5 1156.8 2245.0 1154.7 2248.0 1151.6 2251.0 1148.0 2253.5 1143.5 2255.8 1138.5 2257.6ZM1190.5 2204.0 1188.0 2203.9 1185.5 2203.1 1183.5 2201.7 1182.3 2200.0 1181.6 2197.5 1181.6 2194.5 1183.4 2187.5 1187.5 2180.1 1192.5 2175.0 1195.5 2173.2 1198.5 2172.2 1201.0 2171.9 1203.5 2172.5 1207.5 2175.5 1210.2 2180.0 1211.1 2185.5 1210.2 2190.5 1207.3 2195.0 1202.1 2199.5 1196.0 2202.7ZM1135.0 2256.5 1130.8 2256.0 1129.6 2255.0 1129.4 2254.0 1130.6 2251.0 1134.3 2247.5 1140.0 2244.0 1145.6 2242.0 1150.5 2241.5 1152.5 2242.0 1153.5 2242.8 1153.8 2244.5 1153.1 2246.5 1148.8 2251.0 1142.5 2254.6ZM1193.0 2200.5 1188.5 2200.4 1186.5 2199.4 1185.0 2198.0 1184.0 2194.0 1185.0 2188.7 1188.0 2182.5 1192.0 2177.8 1197.0 2174.9 1199.5 2174.5 1201.5 2174.7 1205.0 2177.0 1207.3 2180.5 1208.2 2184.5 1207.6 2189.0 1205.7 2192.5 1202.0 2196.2 1197.5 2199.1ZM1138.0 2253.5 1135.5 2253.3 1134.4 2252.0 1135.3 2250.0 1137.4 2248.0 1140.7 2246.0 1144.5 2244.7 1147.5 2244.6 1148.9 2245.5 1149.0 2246.5 1148.4 2248.0 1145.8 2250.5 1142.0 2252.5ZM1193.5 2195.5 1190.5 2195.1 1188.6 2193.5 1188.1 2191.0 1188.8 2187.5 1191.0 2183.1 1193.5 2180.4 1196.5 2178.8 1199.5 2178.7 1201.6 2180.0 1203.3 2182.5 1203.7 2185.0 1203.3 2188.0 1201.9 2190.5 1199.3 2193.0 1196.5 2194.7Z"/>
<path stroke="#6e7373" stroke-opacity="0.55" d="M1115.0 2312.0 1108.0 2312.1 1101.5 2311.3 1095.5 2309.9 1090.0 2307.7 1085.0 2304.8 1080.5 2301.0 1077.0 2297.0 1074.4 2292.5 1073.0 2288.5 1072.4 2284.0 1072.8 2279.5 1074.1 2274.5 1076.4 2269.5 1079.5 2264.5 1083.5 2259.5 1088.0 2255.0 1096.5 2248.3 1106.5 2242.3 1114.5 2238.7 1133.3 2232.0 1158.0 2217.8 1166.0 2214.2 1174.5 2211.2 1182.0 2209.3 1188.5 2208.3 1195.0 2207.8 1201.5 2208.1 1207.0 2209.0 1212.0 2210.6 1216.5 2213.1 1219.9 2216.0 1222.4 2219.5 1224.0 2224.0 1224.3 2229.0 1223.4 2234.0 1221.3 2239.5 1218.3 2244.5 1214.0 2250.0 1209.1 2255.0 1202.5 2260.4 1195.0 2265.4 1175.0 2275.5 1169.3 2279.0 1165.0 2282.9 1154.0 2295.3 1149.5 2299.2 1144.5 2302.7 1137.5 2306.3 1130.0 2309.2 1122.0 2311.1ZM1114.0 2304.0 1108.5 2303.8 1103.5 2303.0 1099.0 2301.6 1094.5 2299.5 1090.7 2297.0 1087.5 2294.0 1084.9 2290.5 1082.9 2286.5 1082.1 2283.0 1082.1 2279.5 1082.8 2275.5 1084.2 2271.5 1089.3 2263.5 1096.5 2256.2 1103.0 2251.4 1110.0 2247.4 1117.0 2244.3 1131.5 2239.6 1136.4 2237.5 1158.5 2223.7 1166.0 2220.1 1174.0 2217.2 1186.0 2214.6 1191.5 2214.3 1197.0 2214.6 1201.5 2215.4 1205.9 2217.0 1209.3 2219.0 1211.9 2221.5 1214.1 2225.0 1215.0 2228.5 1215.0 2232.5 1213.9 2237.0 1211.9 2241.5 1208.9 2246.0 1205.0 2250.5 1200.7 2254.5 1194.5 2259.1 1187.5 2263.3 1168.0 2272.0 1162.8 2275.0 1158.5 2278.7 1147.9 2290.5 1143.5 2294.1 1139.0 2297.1 1133.0 2300.0 1126.5 2302.2 1120.5 2303.4ZM1120.0 2299.5 1115.0 2299.9 1110.0 2299.7 1105.0 2298.8 1100.5 2297.3 1096.5 2295.2 1093.5 2292.9 1090.7 2290.0 1088.5 2286.5 1087.3 2283.5 1086.8 2280.0 1087.1 2276.5 1088.1 2273.0 1089.7 2269.5 1092.2 2265.5 1099.0 2258.3 1106.0 2253.2 1113.5 2249.1 1120.5 2246.3 1133.0 2242.5 1138.0 2240.4 1159.0 2226.6 1166.5 2222.8 1173.5 2220.2 1184.5 2217.8 1194.0 2217.7 1198.0 2218.4 1202.0 2219.8 1205.1 2221.5 1207.5 2223.7 1209.3 2226.5 1210.3 2229.5 1210.4 2233.0 1209.7 2237.0 1208.0 2241.0 1205.5 2245.0 1198.5 2252.5 1192.5 2257.1 1185.5 2261.3 1178.0 2264.8 1164.6 2270.0 1159.9 2272.5 1155.5 2276.2 1145.4 2287.5 1138.0 2293.2 1129.5 2297.2ZM1121.0 2296.5 1111.5 2296.8 1107.0 2296.1 1103.0 2294.8 1099.5 2293.0 1096.5 2290.9 1093.7 2288.0 1091.8 2285.0 1090.6 2282.0 1090.3 2279.0 1090.5 2276.0 1091.5 2272.5 1095.5 2265.5 1101.5 2259.2 1107.5 2254.8 1115.0 2250.8 1121.5 2248.3 1134.0 2244.7 1139.0 2242.6 1143.5 2239.9 1159.0 2228.8 1165.5 2225.4 1172.5 2222.6 1182.5 2220.2 1191.5 2219.9 1199.0 2221.6 1202.0 2223.2 1204.6 2225.5 1206.2 2228.0 1207.1 2231.0 1207.1 2234.5 1206.3 2238.0 1204.8 2241.5 1202.5 2245.0 1195.9 2252.0 1189.5 2256.7 1182.5 2260.7 1175.5 2263.7 1163.2 2268.0 1158.5 2270.2 1154.0 2273.6 1144.5 2284.5 1138.5 2289.6 1130.5 2293.9ZM1118.5 2294.5 1110.5 2294.3 1103.2 2292.0 1097.6 2288.0 1095.5 2285.5 1093.9 2282.5 1093.2 2280.0 1093.1 2277.0 1094.7 2271.0 1098.5 2265.0 1104.5 2259.2 1110.5 2255.1 1117.0 2251.8 1123.0 2249.7 1135.0 2246.5 1139.8 2244.5 1144.0 2241.9 1159.5 2230.4 1166.0 2226.8 1172.5 2224.2 1182.0 2222.0 1190.5 2221.8 1197.5 2223.5 1200.1 2225.0 1202.3 2227.0 1203.8 2229.5 1204.6 2232.5 1204.5 2235.5 1203.6 2239.0 1201.8 2242.5 1199.4 2246.0 1193.0 2252.3 1187.0 2256.5 1180.0 2260.1 1161.5 2266.6 1156.5 2268.8 1152.3 2272.0 1142.8 2283.0 1136.5 2288.3 1132.5 2290.6 1128.0 2292.5 1123.5 2293.8ZM1119.0 2292.5 1111.5 2292.3 1105.0 2290.3 1099.5 2286.5 1096.1 2281.5 1095.4 2276.5 1096.9 2271.0 1100.3 2265.5 1106.0 2260.0 1111.5 2256.2 1118.0 2253.0 1124.0 2251.0 1135.5 2248.2 1140.5 2246.2 1144.5 2243.7 1159.5 2231.9 1166.0 2228.3 1172.5 2225.6 1181.5 2223.5 1189.5 2223.3 1196.0 2225.0 1198.6 2226.5 1200.5 2228.4 1201.9 2231.0 1202.4 2233.5 1202.2 2236.5 1201.4 2239.5 1197.4 2246.0 1191.2 2252.0 1185.0 2256.2 1178.5 2259.4 1172.0 2261.8 1159.3 2265.5 1155.0 2267.4 1150.5 2270.9 1141.7 2281.5 1136.0 2286.4 1132.0 2288.8 1128.0 2290.5ZM1121.5 2290.5 1114.0 2290.8 1107.5 2289.3 1102.1 2286.0 1098.5 2281.4 1097.6 2279.0 1097.4 2276.5 1098.5 2271.5 1101.9 2266.0 1107.0 2260.9 1112.5 2257.2 1119.0 2254.0 1125.0 2252.2 1136.5 2249.6 1141.0 2247.9 1145.0 2245.3 1154.0 2237.4 1159.5 2233.3 1165.5 2229.7 1172.0 2227.0 1180.5 2224.8 1188.0 2224.6 1194.2 2226.0 1196.5 2227.3 1198.5 2229.1 1199.9 2231.5 1200.5 2234.0 1200.4 2236.5 1199.6 2239.5 1196.1 2245.5 1190.5 2251.0 1184.5 2255.1 1177.5 2258.6 1170.5 2261.0 1158.0 2264.3 1153.5 2266.1 1149.2 2269.5 1141.2 2279.5 1136.0 2284.4 1129.5 2288.2ZM1121.0 2289.0 1114.0 2289.1 1108.0 2287.6 1103.3 2284.5 1100.1 2280.0 1099.3 2275.5 1100.7 2270.5 1104.1 2265.5 1108.9 2261.0 1114.5 2257.4 1120.5 2254.8 1126.0 2253.2 1137.3 2251.0 1142.0 2249.2 1146.0 2246.4 1154.5 2238.5 1159.5 2234.5 1165.5 2230.9 1172.0 2228.0 1180.0 2226.0 1187.0 2225.7 1193.0 2227.2 1197.0 2230.1 1198.1 2232.0 1198.8 2234.5 1198.7 2237.0 1197.9 2240.0 1194.5 2245.5 1188.8 2251.0 1182.5 2255.1 1175.5 2258.3 1169.0 2260.3 1156.5 2263.1 1152.0 2264.9 1148.0 2268.1 1140.5 2278.0 1135.4 2283.0 1129.0 2286.7ZM1121.5 2287.5 1115.0 2287.8 1109.5 2286.4 1104.8 2283.5 1101.8 2279.5 1101.0 2275.5 1102.3 2270.5 1105.3 2266.0 1110.0 2261.6 1115.5 2258.1 1121.5 2255.6 1127.5 2254.1 1138.0 2252.4 1142.5 2250.9 1146.0 2248.5 1154.4 2240.0 1159.5 2235.7 1165.5 2231.9 1172.0 2229.0 1179.5 2227.1 1186.5 2226.8 1192.0 2228.2 1195.7 2231.0 1196.8 2233.0 1197.3 2235.5 1196.3 2240.5 1192.7 2246.0 1187.5 2250.8 1181.0 2254.9 1174.0 2257.8 1167.0 2259.8 1155.0 2261.9 1150.5 2263.6 1147.0 2266.5 1139.9 2276.5 1135.1 2281.5 1129.0 2285.3ZM1119.0 2286.5 1113.5 2286.1 1108.5 2284.3 1105.0 2281.4 1102.8 2277.5 1102.7 2273.5 1104.2 2269.5 1107.2 2265.5 1111.5 2261.7 1117.0 2258.4 1122.5 2256.3 1128.5 2255.0 1139.5 2253.7 1143.5 2252.4 1146.5 2250.2 1154.2 2241.5 1159.2 2237.0 1165.5 2232.8 1172.0 2229.9 1179.5 2228.0 1186.0 2227.8 1191.0 2229.1 1193.0 2230.3 1194.6 2232.0 1195.6 2234.0 1195.9 2236.0 1194.8 2241.0 1191.5 2246.0 1186.0 2250.9 1179.5 2254.7 1172.5 2257.4 1165.0 2259.2 1153.0 2260.7 1149.5 2261.9 1146.0 2264.9 1139.1 2275.5 1134.0 2280.8 1130.5 2283.2 1127.0 2284.8 1123.0 2286.0ZM1122.0 2285.0 1116.5 2285.3 1111.5 2284.2 1107.1 2281.5 1104.6 2278.0 1104.0 2274.5 1105.0 2270.5 1107.6 2266.5 1112.0 2262.5 1117.8 2259.0 1124.0 2256.8 1130.5 2255.8 1141.5 2255.3 1144.5 2254.4 1147.0 2252.3 1153.2 2244.0 1158.6 2238.5 1165.0 2233.9 1172.0 2230.6 1179.0 2228.8 1185.0 2228.6 1190.0 2229.9 1193.4 2232.5 1194.4 2234.5 1194.7 2236.5 1193.7 2241.0 1190.4 2246.0 1185.5 2250.3 1178.5 2254.4 1170.5 2257.2 1162.5 2258.6 1151.0 2259.2 1147.9 2260.0 1145.2 2262.5 1139.4 2273.0 1134.9 2278.5 1129.0 2282.7ZM1165.5 2257.5 1160.0 2257.9 1154.5 2257.6 1150.5 2256.8 1148.8 2255.5 1149.0 2253.0 1151.2 2248.5 1154.3 2244.0 1158.0 2240.0 1162.0 2236.6 1166.5 2233.8 1171.5 2231.5 1176.5 2229.9 1181.5 2229.3 1185.9 2229.5 1189.5 2230.6 1192.0 2232.5 1193.5 2235.5 1193.3 2239.5 1191.4 2243.5 1187.9 2247.5 1183.5 2251.0 1178.0 2254.0 1172.0 2256.2ZM1122.0 2284.0 1117.5 2284.4 1113.5 2283.7 1109.6 2282.0 1107.0 2279.6 1105.5 2277.0 1105.2 2274.0 1106.1 2270.5 1108.4 2267.0 1111.5 2263.9 1115.5 2261.1 1119.5 2259.1 1124.0 2257.6 1129.0 2256.8 1134.5 2256.6 1140.0 2257.3 1143.0 2258.5 1143.4 2260.5 1141.7 2266.0 1139.0 2271.5 1136.0 2276.0 1133.0 2279.0 1130.0 2281.1 1126.0 2283.0ZM1167.0 2256.5 1162.0 2256.9 1157.0 2256.6 1153.5 2255.5 1151.9 2254.0 1151.6 2251.5 1152.9 2248.0 1155.4 2244.0 1158.5 2240.5 1162.5 2237.1 1166.5 2234.5 1171.0 2232.4 1176.0 2230.8 1180.5 2230.1 1185.0 2230.2 1188.5 2231.3 1190.9 2233.0 1192.5 2236.0 1192.3 2239.5 1190.7 2243.0 1187.5 2246.9 1183.5 2250.2 1178.5 2253.0 1173.0 2255.2ZM1121.5 2283.0 1117.5 2283.2 1114.0 2282.6 1110.5 2281.0 1108.3 2279.0 1106.8 2276.5 1106.4 2274.0 1107.1 2271.0 1108.8 2268.0 1111.5 2265.0 1114.8 2262.5 1119.0 2260.2 1123.0 2258.8 1127.5 2257.9 1132.0 2257.7 1136.5 2258.3 1139.2 2259.5 1140.4 2261.5 1140.2 2265.0 1138.5 2270.0 1135.8 2274.5 1133.0 2277.6 1129.5 2280.2 1125.5 2282.1ZM1168.0 2255.6 1163.0 2255.9 1159.0 2255.6 1155.8 2254.5 1154.2 2253.0 1153.7 2251.0 1154.4 2248.0 1156.3 2244.5 1159.2 2241.0 1162.6 2238.0 1166.5 2235.3 1171.0 2233.1 1175.5 2231.7 1180.0 2230.9 1184.0 2231.0 1187.5 2232.0 1189.7 2233.5 1191.1 2236.0 1191.2 2239.5 1189.6 2243.0 1187.0 2246.3 1183.2 2249.5 1178.5 2252.2 1173.5 2254.2ZM1119.0 2282.0 1115.5 2281.6 1112.5 2280.5 1110.0 2278.6 1108.5 2276.5 1108.0 2274.5 1108.2 2272.0 1109.2 2269.5 1111.0 2267.0 1113.7 2264.5 1117.0 2262.2 1124.0 2259.5 1131.5 2258.9 1134.5 2259.5 1137.0 2260.8 1138.3 2263.5 1138.0 2267.0 1136.4 2271.0 1133.8 2275.0 1131.0 2277.8 1127.5 2280.0 1123.2 2281.5ZM1169.0 2254.5 1164.5 2254.9 1160.5 2254.6 1157.6 2253.5 1156.1 2252.0 1155.6 2250.0 1156.1 2247.5 1157.6 2244.5 1160.0 2241.5 1163.2 2238.5 1166.9 2236.0 1171.0 2233.9 1175.0 2232.6 1179.0 2231.9 1183.0 2231.9 1186.0 2232.6 1188.3 2234.0 1189.7 2236.0 1190.0 2239.0 1189.0 2242.1 1186.5 2245.6 1183.0 2248.7 1178.5 2251.4 1174.0 2253.3ZM1121.0 2280.6 1118.0 2280.6 1115.0 2279.9 1112.5 2278.6 1110.9 2277.0 1109.8 2275.0 1109.6 2273.0 1110.0 2271.0 1111.3 2268.5 1116.1 2264.0 1122.4 2261.0 1129.0 2260.1 1132.0 2260.5 1134.3 2261.5 1135.9 2263.5 1136.2 2266.0 1135.5 2269.5 1133.5 2273.2 1131.0 2276.1 1128.0 2278.3 1124.5 2279.8ZM1169.5 2253.6 1165.5 2253.9 1162.0 2253.6 1159.3 2252.5 1157.9 2251.0 1157.4 2249.0 1157.9 2246.5 1159.3 2244.0 1161.7 2241.0 1168.0 2236.3 1175.5 2233.3 1179.0 2232.8 1182.5 2232.8 1185.1 2233.5 1187.4 2235.0 1188.5 2237.0 1188.7 2239.5 1187.6 2242.5 1185.3 2245.5 1182.5 2248.0 1178.5 2250.5 1174.0 2252.4ZM1121.5 2279.0 1116.5 2278.6 1112.9 2276.5 1111.6 2274.5 1111.4 2273.0 1111.7 2271.0 1112.7 2269.0 1116.5 2265.1 1121.5 2262.5 1127.5 2261.4 1132.1 2262.5 1133.6 2264.0 1134.2 2266.5 1133.6 2269.5 1132.2 2272.5 1130.1 2275.0 1127.5 2277.0 1124.5 2278.3ZM1170.0 2252.6 1163.5 2252.6 1161.5 2251.9 1159.8 2250.5 1159.1 2248.5 1159.4 2246.5 1160.6 2244.0 1162.6 2241.5 1168.4 2237.0 1175.0 2234.3 1181.5 2233.8 1184.0 2234.4 1185.9 2235.5 1187.2 2237.5 1187.3 2239.5 1186.6 2242.0 1184.5 2245.0 1181.8 2247.5 1178.0 2249.9 1174.0 2251.6ZM1123.0 2277.1 1119.0 2277.3 1115.5 2276.0 1113.5 2273.4 1113.4 2272.0 1113.9 2270.0 1116.9 2266.5 1121.0 2264.0 1126.0 2262.9 1130.0 2263.7 1131.4 2265.0 1131.9 2266.5 1131.9 2268.5 1131.1 2271.0 1129.8 2273.0 1127.7 2275.0ZM1170.0 2251.6 1164.5 2251.4 1162.5 2250.6 1161.4 2249.5 1160.9 2248.0 1161.1 2246.0 1162.0 2244.0 1164.0 2241.5 1169.0 2237.7 1175.0 2235.2 1180.5 2234.8 1183.0 2235.4 1184.7 2236.5 1185.8 2238.5 1185.7 2240.5 1184.7 2243.0 1183.0 2245.1 1180.2 2247.5 1177.0 2249.4ZM1123.0 2275.1 1120.0 2275.3 1117.5 2274.4 1116.0 2272.5 1116.3 2270.0 1118.2 2267.5 1121.5 2265.5 1124.5 2264.7 1127.5 2265.1 1128.8 2266.0 1129.3 2267.0 1129.4 2268.5 1128.9 2270.5 1126.5 2273.4ZM1169.5 2250.5 1165.1 2250.0 1163.6 2249.0 1162.9 2248.0 1162.8 2246.5 1163.3 2244.5 1166.1 2241.0 1170.5 2237.9 1175.5 2236.2 1180.0 2236.0 1181.9 2236.5 1183.3 2237.5 1184.1 2239.0 1184.1 2241.0 1183.0 2243.3 1181.1 2245.5 1175.5 2249.0ZM1123.5 2271.7 1121.0 2271.8 1119.9 2270.5 1121.1 2268.5 1124.0 2267.5 1125.1 2268.0 1125.5 2269.5 1124.6 2271.0ZM1172.5 2247.5 1169.5 2247.7 1167.5 2246.7 1167.0 2245.0 1168.3 2242.5 1170.6 2240.5 1174.0 2239.0 1177.5 2238.6 1179.6 2239.5 1180.3 2241.5 1178.9 2244.0 1176.0 2246.2Z"/>
<path stroke="#6e7373" stroke-opacity="0.55" d="M1131.0 2412.1 1123.5 2412.3 1117.0 2411.2 1112.6 2409.0 1111.8 2408.0 1111.6 2406.5 1113.0 2404.7 1115.5 2403.3 1119.5 2402.2 1124.5 2401.6 1129.5 2401.7 1134.5 2402.6 1138.0 2404.0 1139.9 2405.5 1140.4 2407.5 1138.8 2409.5 1135.5 2411.1Z"/>
<path stroke="#ff3c3c" stroke-opacity="0.6" d="M1026.5 2416.6 1021.5 2416.6 1017.0 2414.8 1013.2 2411.0 1011.4 2406.5 1011.4 2401.5 1013.2 2397.0 1017.0 2393.2 1021.5 2391.4 1026.5 2391.4 1031.0 2393.2 1034.8 2397.0 1036.6 2401.5 1036.6 2406.5 1034.8 2411.0 1031.0 2414.8ZM1025.0 2412.1 1022.0 2411.9 1019.0 2410.4 1016.9 2408.0 1015.9 2405.0 1016.1 2402.0 1017.6 2399.0 1020.0 2396.9 1023.0 2395.9 1026.0 2396.1 1029.0 2397.6 1031.1 2400.0 1032.1 2403.0 1031.9 2406.0 1030.4 2409.0 1028.0 2411.1Z"/>
</g>
<rect x="1021.0" y="2005.0" width="402.29999999999995" height="401.1999999999998" fill="none" stroke="#3a3a3a" stroke-width="1.8"/>
<line x1="1021.0" y1="2199.4" x2="1423.3" y2="2199.4" stroke="#000" stroke-width="2.8"/>
<line x1="1221.5" y1="2005.0" x2="1221.5" y2="2406.2" stroke="#000" stroke-width="2.8"/>
<line x1="1026.6" y1="2406.2" x2="1026.6" y2="2412.1" stroke="#222" stroke-width="1.9"/><line x1="1033.4" y1="2406.2" x2="1033.4" y2="2413.9" stroke="#222" stroke-width="2.0"/><line x1="1039.0" y1="2406.2" x2="1039.0" y2="2412.1" stroke="#222" stroke-width="1.9"/><line x1="1043.7" y1="2406.2" x2="1043.7" y2="2412.1" stroke="#222" stroke-width="1.9"/><line x1="1047.7" y1="2406.2" x2="1047.7" y2="2412.1" stroke="#222" stroke-width="1.9"/><line x1="1051.3" y1="2406.2" x2="1051.3" y2="2412.1" stroke="#222" stroke-width="1.9"/><line x1="1054.5" y1="2406.2" x2="1054.5" y2="2417.3" stroke="#222" stroke-width="2.9"/><line x1="1075.6" y1="2406.2" x2="1075.6" y2="2412.1" stroke="#222" stroke-width="1.9"/><line x1="1087.9" y1="2406.2" x2="1087.9" y2="2412.1" stroke="#222" stroke-width="1.9"/><line x1="1096.6" y1="2406.2" x2="1096.6" y2="2412.1" stroke="#222" stroke-width="1.9"/><line x1="1103.4" y1="2406.2" x2="1103.4" y2="2413.9" stroke="#222" stroke-width="2.0"/><line x1="1109.0" y1="2406.2" x2="1109.0" y2="2412.1" stroke="#222" stroke-width="1.9"/><line x1="1113.7" y1="2406.2" x2="1113.7" y2="2412.1" stroke="#222" stroke-width="1.9"/><line x1="1117.7" y1="2406.2" x2="1117.7" y2="2412.1" stroke="#222" stroke-width="1.9"/><line x1="1121.3" y1="2406.2" x2="1121.3" y2="2412.1" stroke="#222" stroke-width="1.9"/><line x1="1124.5" y1="2406.2" x2="1124.5" y2="2417.3" stroke="#222" stroke-width="2.9"/><line x1="1145.6" y1="2406.2" x2="1145.6" y2="2412.1" stroke="#222" stroke-width="1.9"/><line x1="1157.9" y1="2406.2" x2="1157.9" y2="2412.1" stroke="#222" stroke-width="1.9"/><line x1="1166.6" y1="2406.2" x2="1166.6" y2="2412.1" stroke="#222" stroke-width="1.9"/><line x1="1173.4" y1="2406.2" x2="1173.4" y2="2413.9" stroke="#222" stroke-width="2.0"/><line x1="1179.0" y1="2406.2" x2="1179.0" y2="2412.1" stroke="#222" stroke-width="1.9"/><line x1="1183.7" y1="2406.2" x2="1183.7" y2="2412.1" stroke="#222" stroke-width="1.9"/><line x1="1187.7" y1="2406.2" x2="1187.7" y2="2412.1" stroke="#222" stroke-width="1.9"/><line x1="1191.3" y1="2406.2" x2="1191.3" y2="2412.1" stroke="#222" stroke-width="1.9"/><line x1="1194.5" y1="2406.2" x2="1194.5" y2="2417.3" stroke="#222" stroke-width="2.9"/><line x1="1215.6" y1="2406.2" x2="1215.6" y2="2412.1" stroke="#222" stroke-width="1.9"/><line x1="1227.9" y1="2406.2" x2="1227.9" y2="2412.1" stroke="#222" stroke-width="1.9"/><line x1="1236.6" y1="2406.2" x2="1236.6" y2="2412.1" stroke="#222" stroke-width="1.9"/><line x1="1243.4" y1="2406.2" x2="1243.4" y2="2413.9" stroke="#222" stroke-width="2.0"/><line x1="1249.0" y1="2406.2" x2="1249.0" y2="2412.1" stroke="#222" stroke-width="1.9"/><line x1="1253.7" y1="2406.2" x2="1253.7" y2="2412.1" stroke="#222" stroke-width="1.9"/><line x1="1257.7" y1="2406.2" x2="1257.7" y2="2412.1" stroke="#222" stroke-width="1.9"/><line x1="1261.3" y1="2406.2" x2="1261.3" y2="2412.1" stroke="#222" stroke-width="1.9"/><line x1="1264.5" y1="2406.2" x2="1264.5" y2="2417.3" stroke="#222" stroke-width="2.9"/><line x1="1285.6" y1="2406.2" x2="1285.6" y2="2412.1" stroke="#222" stroke-width="1.9"/><line x1="1297.9" y1="2406.2" x2="1297.9" y2="2412.1" stroke="#222" stroke-width="1.9"/><line x1="1306.6" y1="2406.2" x2="1306.6" y2="2412.1" stroke="#222" stroke-width="1.9"/><line x1="1313.4" y1="2406.2" x2="1313.4" y2="2413.9" stroke="#222" stroke-width="2.0"/><line x1="1319.0" y1="2406.2" x2="1319.0" y2="2412.1" stroke="#222" stroke-width="1.9"/><line x1="1323.7" y1="2406.2" x2="1323.7" y2="2412.1" stroke="#222" stroke-width="1.9"/><line x1="1327.7" y1="2406.2" x2="1327.7" y2="2412.1" stroke="#222" stroke-width="1.9"/><line x1="1331.3" y1="2406.2" x2="1331.3" y2="2412.1" stroke="#222" stroke-width="1.9"/><line x1="1334.5" y1="2406.2" x2="1334.5" y2="2417.3" stroke="#222" stroke-width="2.9"/><line x1="1355.6" y1="2406.2" x2="1355.6" y2="2412.1" stroke="#222" stroke-width="1.9"/><line x1="1367.9" y1="2406.2" x2="1367.9" y2="2412.1" stroke="#222" stroke-width="1.9"/><line x1="1376.6" y1="2406.2" x2="1376.6" y2="2412.1" stroke="#222" stroke-width="1.9"/><line x1="1383.4" y1="2406.2" x2="1383.4" y2="2413.9" stroke="#222" stroke-width="2.0"/><line x1="1389.0" y1="2406.2" x2="1389.0" y2="2412.1" stroke="#222" stroke-width="1.9"/><line x1="1393.7" y1="2406.2" x2="1393.7" y2="2412.1" stroke="#222" stroke-width="1.9"/><line x1="1397.7" y1="2406.2" x2="1397.7" y2="2412.1" stroke="#222" stroke-width="1.9"/><line x1="1401.3" y1="2406.2" x2="1401.3" y2="2412.1" stroke="#222" stroke-width="1.9"/><line x1="1404.5" y1="2406.2" x2="1404.5" y2="2417.3" stroke="#222" stroke-width="2.9"/><line x1="1008.7" y1="2404.5" x2="1021.0" y2="2404.5" stroke="#222" stroke-width="2.9"/><line x1="1014.9" y1="2383.4" x2="1021.0" y2="2383.4" stroke="#222" stroke-width="1.9"/><line x1="1014.9" y1="2371.1" x2="1021.0" y2="2371.1" stroke="#222" stroke-width="1.9"/><line x1="1014.9" y1="2362.4" x2="1021.0" y2="2362.4" stroke="#222" stroke-width="1.9"/><line x1="1012.3" y1="2355.6" x2="1021.0" y2="2355.6" stroke="#222" stroke-width="2.0"/><line x1="1014.9" y1="2350.0" x2="1021.0" y2="2350.0" stroke="#222" stroke-width="1.9"/><line x1="1014.9" y1="2345.3" x2="1021.0" y2="2345.3" stroke="#222" stroke-width="1.9"/><line x1="1014.9" y1="2341.3" x2="1021.0" y2="2341.3" stroke="#222" stroke-width="1.9"/><line x1="1014.9" y1="2337.7" x2="1021.0" y2="2337.7" stroke="#222" stroke-width="1.9"/><line x1="1008.7" y1="2334.5" x2="1021.0" y2="2334.5" stroke="#222" stroke-width="2.9"/><line x1="1014.9" y1="2313.4" x2="1021.0" y2="2313.4" stroke="#222" stroke-width="1.9"/><line x1="1014.9" y1="2301.1" x2="1021.0" y2="2301.1" stroke="#222" stroke-width="1.9"/><line x1="1014.9" y1="2292.4" x2="1021.0" y2="2292.4" stroke="#222" stroke-width="1.9"/><line x1="1012.3" y1="2285.6" x2="1021.0" y2="2285.6" stroke="#222" stroke-width="2.0"/><line x1="1014.9" y1="2280.0" x2="1021.0" y2="2280.0" stroke="#222" stroke-width="1.9"/><line x1="1014.9" y1="2275.3" x2="1021.0" y2="2275.3" stroke="#222" stroke-width="1.9"/><line x1="1014.9" y1="2271.3" x2="1021.0" y2="2271.3" stroke="#222" stroke-width="1.9"/><line x1="1014.9" y1="2267.7" x2="1021.0" y2="2267.7" stroke="#222" stroke-width="1.9"/><line x1="1008.7" y1="2264.5" x2="1021.0" y2="2264.5" stroke="#222" stroke-width="2.9"/><line x1="1014.9" y1="2243.4" x2="1021.0" y2="2243.4" stroke="#222" stroke-width="1.9"/><line x1="1014.9" y1="2231.1" x2="1021.0" y2="2231.1" stroke="#222" stroke-width="1.9"/><line x1="1014.9" y1="2222.4" x2="1021.0" y2="2222.4" stroke="#222" stroke-width="1.9"/><line x1="1012.3" y1="2215.6" x2="1021.0" y2="2215.6" stroke="#222" stroke-width="2.0"/><line x1="1014.9" y1="2210.0" x2="1021.0" y2="2210.0" stroke="#222" stroke-width="1.9"/><line x1="1014.9" y1="2205.3" x2="1021.0" y2="2205.3" stroke="#222" stroke-width="1.9"/><line x1="1014.9" y1="2201.3" x2="1021.0" y2="2201.3" stroke="#222" stroke-width="1.9"/><line x1="1014.9" y1="2197.7" x2="1021.0" y2="2197.7" stroke="#222" stroke-width="1.9"/><line x1="1008.7" y1="2194.5" x2="1021.0" y2="2194.5" stroke="#222" stroke-width="2.9"/><line x1="1014.9" y1="2173.4" x2="1021.0" y2="2173.4" stroke="#222" stroke-width="1.9"/><line x1="1014.9" y1="2161.1" x2="1021.0" y2="2161.1" stroke="#222" stroke-width="1.9"/><line x1="1014.9" y1="2152.4" x2="1021.0" y2="2152.4" stroke="#222" stroke-width="1.9"/><line x1="1012.3" y1="2145.6" x2="1021.0" y2="2145.6" stroke="#222" stroke-width="2.0"/><line x1="1014.9" y1="2140.0" x2="1021.0" y2="2140.0" stroke="#222" stroke-width="1.9"/><line x1="1014.9" y1="2135.3" x2="1021.0" y2="2135.3" stroke="#222" stroke-width="1.9"/><line x1="1014.9" y1="2131.3" x2="1021.0" y2="2131.3" stroke="#222" stroke-width="1.9"/><line x1="1014.9" y1="2127.7" x2="1021.0" y2="2127.7" stroke="#222" stroke-width="1.9"/><line x1="1008.7" y1="2124.5" x2="1021.0" y2="2124.5" stroke="#222" stroke-width="2.9"/><line x1="1014.9" y1="2103.4" x2="1021.0" y2="2103.4" stroke="#222" stroke-width="1.9"/><line x1="1014.9" y1="2091.1" x2="1021.0" y2="2091.1" stroke="#222" stroke-width="1.9"/><line x1="1014.9" y1="2082.4" x2="1021.0" y2="2082.4" stroke="#222" stroke-width="1.9"/><line x1="1012.3" y1="2075.6" x2="1021.0" y2="2075.6" stroke="#222" stroke-width="2.0"/><line x1="1014.9" y1="2070.0" x2="1021.0" y2="2070.0" stroke="#222" stroke-width="1.9"/><line x1="1014.9" y1="2065.3" x2="1021.0" y2="2065.3" stroke="#222" stroke-width="1.9"/><line x1="1014.9" y1="2061.3" x2="1021.0" y2="2061.3" stroke="#222" stroke-width="1.9"/><line x1="1014.9" y1="2057.7" x2="1021.0" y2="2057.7" stroke="#222" stroke-width="1.9"/><line x1="1008.7" y1="2054.5" x2="1021.0" y2="2054.5" stroke="#222" stroke-width="2.9"/><line x1="1014.9" y1="2033.4" x2="1021.0" y2="2033.4" stroke="#222" stroke-width="1.9"/><line x1="1014.9" y1="2021.1" x2="1021.0" y2="2021.1" stroke="#222" stroke-width="1.9"/><line x1="1014.9" y1="2012.4" x2="1021.0" y2="2012.4" stroke="#222" stroke-width="1.9"/><line x1="1012.3" y1="2005.6" x2="1021.0" y2="2005.6" stroke="#222" stroke-width="2.0"/>
<text transform="matrix(0.01282 0.00000 0.00000 0.01461 1055.48 2441.26)" font-family="Liberation Sans" font-weight="normal" font-size="1000" fill="#4a4a4a"  stroke="#4a4a4a" stroke-width="32.9">10</text><text transform="matrix(0.01529 0.00000 0.00000 0.01614 1069.70 2431.78)" font-family="Liberation Sans" font-weight="normal" font-size="1000" fill="#4a4a4a"  stroke="#4a4a4a" stroke-width="28.6">2</text><text transform="matrix(0.01282 0.00000 0.00000 0.01461 1125.48 2441.26)" font-family="Liberation Sans" font-weight="normal" font-size="1000" fill="#4a4a4a"  stroke="#4a4a4a" stroke-width="32.9">10</text><text transform="matrix(0.01465 0.00000 0.00000 0.01591 1139.92 2431.63)" font-family="Liberation Sans" font-weight="normal" font-size="1000" fill="#4a4a4a"  stroke="#4a4a4a" stroke-width="29.5">3</text><text transform="matrix(0.01282 0.00000 0.00000 0.01461 1195.48 2441.26)" font-family="Liberation Sans" font-weight="normal" font-size="1000" fill="#4a4a4a"  stroke="#4a4a4a" stroke-width="32.9">10</text><text transform="matrix(0.01378 0.00000 0.00000 0.01637 1210.15 2431.78)" font-family="Liberation Sans" font-weight="normal" font-size="1000" fill="#4a4a4a"  stroke="#4a4a4a" stroke-width="30.0">4</text><text transform="matrix(0.01282 0.00000 0.00000 0.01461 1265.48 2441.26)" font-family="Liberation Sans" font-weight="normal" font-size="1000" fill="#4a4a4a"  stroke="#4a4a4a" stroke-width="32.9">10</text><text transform="matrix(0.01465 0.00000 0.00000 0.01614 1279.88 2431.62)" font-family="Liberation Sans" font-weight="normal" font-size="1000" fill="#4a4a4a"  stroke="#4a4a4a" stroke-width="29.3">5</text><text transform="matrix(0.01282 0.00000 0.00000 0.01461 1335.48 2441.26)" font-family="Liberation Sans" font-weight="normal" font-size="1000" fill="#4a4a4a"  stroke="#4a4a4a" stroke-width="32.9">10</text><text transform="matrix(0.01505 0.00000 0.00000 0.01591 1349.71 2431.63)" font-family="Liberation Sans" font-weight="normal" font-size="1000" fill="#4a4a4a"  stroke="#4a4a4a" stroke-width="29.1">6</text><text transform="matrix(0.01282 0.00000 0.00000 0.01461 1405.48 2441.26)" font-family="Liberation Sans" font-weight="normal" font-size="1000" fill="#4a4a4a"  stroke="#4a4a4a" stroke-width="32.9">10</text><text transform="matrix(0.01538 0.00000 0.00000 0.01637 1419.66 2431.78)" font-family="Liberation Sans" font-weight="normal" font-size="1000" fill="#4a4a4a"  stroke="#4a4a4a" stroke-width="28.4">7</text><text transform="matrix(0.01170 0.00000 0.00000 0.01490 980.21 2413.56)" font-family="Liberation Sans" font-weight="normal" font-size="1000" fill="#4a4a4a"  stroke="#4a4a4a" stroke-width="34.1">10</text><text transform="matrix(0.01562 0.00000 0.00000 0.01637 993.32 2404.50)" font-family="Liberation Sans" font-weight="normal" font-size="1000" fill="#4a4a4a"  stroke="#4a4a4a" stroke-width="28.1">1</text><text transform="matrix(0.01170 0.00000 0.00000 0.01490 980.21 2343.56)" font-family="Liberation Sans" font-weight="normal" font-size="1000" fill="#4a4a4a"  stroke="#4a4a4a" stroke-width="34.1">10</text><text transform="matrix(0.01484 0.00000 0.00000 0.01614 993.75 2334.50)" font-family="Liberation Sans" font-weight="normal" font-size="1000" fill="#4a4a4a"  stroke="#4a4a4a" stroke-width="29.1">2</text><text transform="matrix(0.01170 0.00000 0.00000 0.01490 980.21 2273.56)" font-family="Liberation Sans" font-weight="normal" font-size="1000" fill="#4a4a4a"  stroke="#4a4a4a" stroke-width="34.1">10</text><text transform="matrix(0.01422 0.00000 0.00000 0.01591 993.96 2264.34)" font-family="Liberation Sans" font-weight="normal" font-size="1000" fill="#4a4a4a"  stroke="#4a4a4a" stroke-width="29.9">3</text><text transform="matrix(0.01170 0.00000 0.00000 0.01490 980.21 2203.56)" font-family="Liberation Sans" font-weight="normal" font-size="1000" fill="#4a4a4a"  stroke="#4a4a4a" stroke-width="34.1">10</text><text transform="matrix(0.01338 0.00000 0.00000 0.01637 994.19 2194.50)" font-family="Liberation Sans" font-weight="normal" font-size="1000" fill="#4a4a4a"  stroke="#4a4a4a" stroke-width="30.4">4</text><text transform="matrix(0.01170 0.00000 0.00000 0.01490 980.21 2133.56)" font-family="Liberation Sans" font-weight="normal" font-size="1000" fill="#4a4a4a"  stroke="#4a4a4a" stroke-width="34.1">10</text><text transform="matrix(0.01422 0.00000 0.00000 0.01614 993.93 2124.34)" font-family="Liberation Sans" font-weight="normal" font-size="1000" fill="#4a4a4a"  stroke="#4a4a4a" stroke-width="29.7">5</text><text transform="matrix(0.01170 0.00000 0.00000 0.01490 980.21 2063.56)" font-family="Liberation Sans" font-weight="normal" font-size="1000" fill="#4a4a4a"  stroke="#4a4a4a" stroke-width="34.1">10</text><text transform="matrix(0.01460 0.00000 0.00000 0.01591 993.76 2054.34)" font-family="Liberation Sans" font-weight="normal" font-size="1000" fill="#4a4a4a"  stroke="#4a4a4a" stroke-width="29.5">6</text>
<text transform="matrix(0.02138 0.00000 0.00000 0.02211 1027.51 2042.25)" font-family="Liberation Sans" font-weight="bold" font-size="1000" fill="#000" >Q1</text>
<text transform="matrix(0.02138 0.00000 0.00000 0.02211 1026.80 2071.32)" font-family="Liberation Sans" font-weight="bold" font-size="1000" fill="#000" >28.9%</text>
<text transform="matrix(0.02138 0.00000 0.00000 0.02211 1355.76 2041.64)" font-family="Liberation Sans" font-weight="bold" font-size="1000" fill="#000" >Q2</text>
<text transform="matrix(0.02138 0.00000 0.00000 0.02211 1323.32 2071.11)" font-family="Liberation Sans" font-weight="bold" font-size="1000" fill="#000" >12.3%</text>
<text transform="matrix(0.02138 0.00000 0.00000 0.02211 1355.65 2354.01)" font-family="Liberation Sans" font-weight="bold" font-size="1000" fill="#000" >Q3</text>
<text transform="matrix(0.02138 0.00000 0.00000 0.02211 1323.32 2384.71)" font-family="Liberation Sans" font-weight="bold" font-size="1000" fill="#000" >7.32%</text>
<text transform="matrix(0.02138 0.00000 0.00000 0.02211 1027.31 2354.01)" font-family="Liberation Sans" font-weight="bold" font-size="1000" fill="#000" >Q4</text>
<text transform="matrix(0.02138 0.00000 0.00000 0.02211 1026.91 2384.71)" font-family="Liberation Sans" font-weight="bold" font-size="1000" fill="#000" >51.5%</text>
<text transform="matrix(0.02874 0.00000 0.00000 0.02610 1133.31 2492.91)" font-family="Liberation Sans" font-weight="bold" font-size="1000" fill="#000" >PE: AE1/AE3</text>
<text transform="matrix(0.00000 -0.02862 0.02506 0.00000 925.92 2296.94)" font-family="Liberation Sans" font-weight="bold" font-size="1000" fill="#000" >APC: CD140b</text>
</svg>
</body></html>
